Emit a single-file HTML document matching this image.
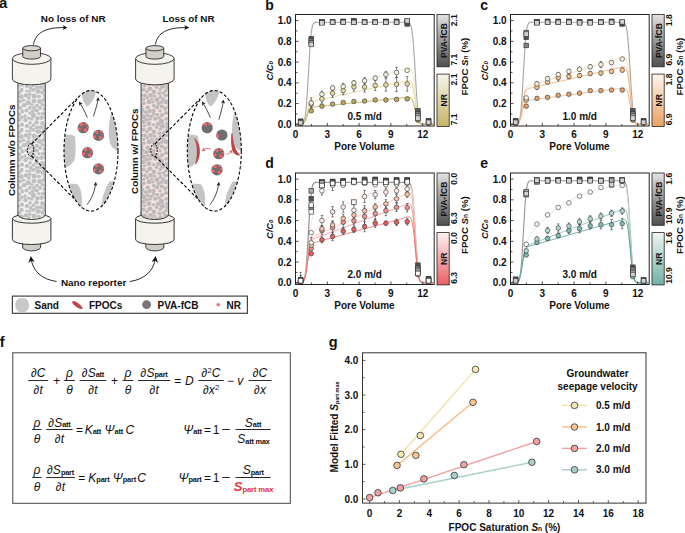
<!DOCTYPE html>
<html><head><meta charset="utf-8"><style>
html,body{margin:0;padding:0;background:#fff;width:685px;height:533px;overflow:hidden}
svg{display:block}
text{font-family:"Liberation Sans",sans-serif}
</style></head><body>
<svg width="685" height="533" viewBox="0 0 685 533" font-family='"Liberation Sans", sans-serif'>
<rect width="685" height="533" fill="#fff"/>
<text x="265.30" y="10.30" font-size="14" font-weight="bold" text-anchor="start" fill="#111" >b</text>
<clipPath id="clipb"><rect x="295.5" y="14.5" width="138.7" height="111.5"/></clipPath>
<g clip-path="url(#clipb)">
<path d="M295.50,124.30 L296.03,124.30 L296.56,124.30 L297.09,124.30 L297.62,124.30 L298.15,124.30 L298.68,124.30 L299.21,124.30 L299.74,124.29 L300.27,124.29 L300.80,124.26 L301.33,124.22 L301.86,124.12 L302.39,123.93 L302.92,123.57 L303.45,122.94 L303.98,121.87 L304.51,120.16 L305.04,117.59 L305.57,113.94 L306.10,109.01 L306.63,102.72 L307.16,95.14 L307.69,86.47 L308.22,77.11 L308.75,67.54 L309.28,58.28 L309.81,49.81 L310.34,42.47 L310.87,36.46 L311.40,31.79 L311.93,28.37 L312.46,26.00 L312.99,24.44 L313.52,23.47 L314.05,22.90 L314.58,22.58 L315.11,22.41 L315.64,22.33 L316.17,22.29 L316.70,22.27 L317.23,22.26 L317.76,22.26 L318.29,22.26 L318.82,22.26 L319.35,22.26 L319.88,22.26 L320.41,22.26 L320.94,22.26 L321.47,22.26 L322.00,22.26 L322.53,22.26 L323.06,22.26 L323.59,22.26 L324.12,22.26 L324.65,22.26 L325.18,22.26 L325.71,22.26 L326.24,22.26 L326.77,22.26 L327.30,22.26 L327.83,22.26 L328.36,22.26 L328.89,22.26 L329.42,22.26 L329.95,22.26 L330.48,22.26 L331.01,22.26 L331.54,22.26 L332.07,22.26 L332.60,22.26 L333.13,22.26 L333.66,22.26 L334.19,22.26 L334.72,22.26 L335.25,22.26 L335.78,22.26 L336.31,22.26 L336.84,22.26 L337.37,22.26 L337.90,22.26 L338.43,22.26 L338.96,22.26 L339.49,22.26 L340.02,22.26 L340.55,22.26 L341.08,22.26 L341.61,22.26 L342.14,22.26 L342.67,22.26 L343.20,22.26 L343.73,22.26 L344.26,22.26 L344.79,22.26 L345.32,22.26 L345.85,22.26 L346.38,22.26 L346.91,22.26 L347.44,22.26 L347.97,22.26 L348.50,22.26 L349.03,22.26 L349.56,22.26 L350.09,22.26 L350.62,22.26 L351.15,22.26 L351.68,22.26 L352.21,22.26 L352.74,22.26 L353.27,22.26 L353.80,22.26 L354.33,22.26 L354.86,22.26 L355.39,22.26 L355.92,22.26 L356.45,22.26 L356.98,22.26 L357.51,22.26 L358.04,22.26 L358.57,22.26 L359.10,22.26 L359.63,22.26 L360.16,22.26 L360.69,22.26 L361.22,22.26 L361.75,22.26 L362.28,22.26 L362.81,22.26 L363.34,22.26 L363.87,22.26 L364.40,22.26 L364.93,22.26 L365.46,22.26 L365.99,22.26 L366.52,22.26 L367.05,22.26 L367.58,22.26 L368.11,22.26 L368.64,22.26 L369.17,22.26 L369.70,22.26 L370.23,22.26 L370.76,22.26 L371.29,22.26 L371.82,22.26 L372.35,22.26 L372.88,22.26 L373.41,22.26 L373.94,22.26 L374.47,22.26 L375.00,22.26 L375.53,22.26 L376.06,22.26 L376.59,22.26 L377.12,22.26 L377.65,22.26 L378.18,22.26 L378.71,22.26 L379.24,22.26 L379.77,22.26 L380.30,22.26 L380.83,22.26 L381.36,22.26 L381.89,22.26 L382.42,22.26 L382.95,22.26 L383.48,22.26 L384.01,22.26 L384.54,22.26 L385.07,22.26 L385.60,22.26 L386.13,22.26 L386.66,22.26 L387.19,22.26 L387.72,22.26 L388.25,22.26 L388.78,22.26 L389.31,22.26 L389.84,22.26 L390.37,22.26 L390.90,22.26 L391.43,22.26 L391.96,22.26 L392.49,22.26 L393.02,22.26 L393.55,22.26 L394.08,22.26 L394.61,22.26 L395.14,22.26 L395.67,22.26 L396.20,22.26 L396.73,22.26 L397.26,22.26 L397.79,22.26 L398.32,22.26 L398.85,22.26 L399.38,22.26 L399.91,22.26 L400.44,22.26 L400.97,22.26 L401.50,22.26 L402.03,22.26 L402.56,22.26 L403.09,22.26 L403.62,22.26 L404.15,22.26 L404.68,22.26 L405.21,22.26 L405.74,22.26 L406.27,22.27 L406.80,22.28 L407.33,22.31 L407.86,22.36 L408.39,22.47 L408.92,22.67 L409.45,23.03 L409.98,23.64 L410.51,24.64 L411.04,26.19 L411.57,28.48 L412.10,31.69 L412.63,36.00 L413.16,41.48 L413.69,48.15 L414.22,55.86 L414.75,64.36 L415.28,73.28 L415.81,82.20 L416.34,90.70 L416.87,98.41 L417.40,105.08 L417.93,110.56 L418.46,114.87 L418.99,118.08 L419.52,120.37 L420.05,121.92 L420.58,122.92 L421.11,123.53 L421.64,123.89 L422.17,124.09 L422.70,124.20 L423.23,124.25 L423.76,124.28 L424.29,124.29 L424.82,124.30 L425.35,124.30 L425.88,124.30 L426.41,124.30 L426.94,124.30 L427.47,124.30 L428.00,124.30 L428.53,124.30 L429.06,124.30 L429.59,124.30 L430.12,124.30 L430.65,124.30 L431.18,124.30 L431.71,124.30 L432.24,124.30 L432.77,124.30 L433.30,124.30" fill="none" stroke="#a8a8a8" stroke-width="1.15"/>
<path d="M295.50,124.30 L296.03,124.30 L296.56,124.30 L297.09,124.30 L297.62,124.30 L298.15,124.30 L298.68,124.30 L299.21,124.30 L299.74,124.29 L300.27,124.27 L300.80,124.25 L301.33,124.19 L301.86,124.08 L302.39,123.90 L302.92,123.59 L303.45,123.11 L303.98,122.40 L304.51,121.40 L305.04,120.07 L305.57,118.40 L306.10,116.40 L306.63,114.15 L307.16,111.74 L307.69,109.30 L308.22,106.96 L308.75,104.82 L309.28,102.97 L309.81,101.45 L310.34,100.24 L310.87,99.32 L311.40,98.64 L311.93,98.14 L312.46,97.77 L312.99,97.49 L313.52,97.26 L314.05,97.06 L314.58,96.88 L315.11,96.71 L315.64,96.54 L316.17,96.37 L316.70,96.20 L317.23,96.04 L317.76,95.87 L318.29,95.71 L318.82,95.54 L319.35,95.38 L319.88,95.21 L320.41,95.05 L320.94,94.88 L321.47,94.72 L322.00,94.55 L322.53,94.39 L323.06,94.22 L323.59,94.06 L324.12,93.89 L324.65,93.73 L325.18,93.56 L325.71,93.40 L326.24,93.23 L326.77,93.06 L327.30,92.90 L327.83,92.73 L328.36,92.57 L328.89,92.40 L329.42,92.24 L329.95,92.07 L330.48,91.91 L331.01,91.74 L331.54,91.58 L332.07,91.41 L332.60,91.25 L333.13,91.08 L333.66,90.92 L334.19,90.75 L334.72,90.59 L335.25,90.42 L335.78,90.26 L336.31,90.09 L336.84,89.93 L337.37,89.76 L337.90,89.59 L338.43,89.43 L338.96,89.26 L339.49,89.10 L340.02,88.93 L340.55,88.77 L341.08,88.60 L341.61,88.44 L342.14,88.27 L342.67,88.11 L343.20,87.94 L343.73,87.78 L344.26,87.61 L344.79,87.45 L345.32,87.28 L345.85,87.12 L346.38,86.95 L346.91,86.79 L347.44,86.62 L347.97,86.46 L348.50,86.29 L349.03,86.12 L349.56,85.96 L350.09,85.79 L350.62,85.63 L351.15,85.46 L351.68,85.30 L352.21,85.13 L352.74,84.97 L353.27,84.80 L353.80,84.64 L354.33,84.47 L354.86,84.31 L355.39,84.14 L355.92,83.98 L356.45,83.81 L356.98,83.65 L357.51,83.48 L358.04,83.32 L358.57,83.15 L359.10,82.99 L359.63,82.82 L360.16,82.65 L360.69,82.49 L361.22,82.32 L361.75,82.16 L362.28,81.99 L362.81,81.83 L363.34,81.66 L363.87,81.50 L364.40,81.33 L364.93,81.17 L365.46,81.00 L365.99,80.84 L366.52,80.67 L367.05,80.51 L367.58,80.34 L368.11,80.18 L368.64,80.01 L369.17,79.85 L369.70,79.68 L370.23,79.52 L370.76,79.35 L371.29,79.18 L371.82,79.02 L372.35,78.85 L372.88,78.69 L373.41,78.52 L373.94,78.36 L374.47,78.19 L375.00,78.03 L375.53,77.86 L376.06,77.70 L376.59,77.53 L377.12,77.37 L377.65,77.20 L378.18,77.04 L378.71,76.87 L379.24,76.71 L379.77,76.54 L380.30,76.38 L380.83,76.21 L381.36,76.05 L381.89,75.88 L382.42,75.71 L382.95,75.55 L383.48,75.38 L384.01,75.22 L384.54,75.05 L385.07,74.89 L385.60,74.72 L386.13,74.56 L386.66,74.39 L387.19,74.23 L387.72,74.06 L388.25,73.90 L388.78,73.73 L389.31,73.57 L389.84,73.40 L390.37,73.24 L390.90,73.07 L391.43,72.91 L391.96,72.74 L392.49,72.58 L393.02,72.41 L393.55,72.24 L394.08,72.08 L394.61,71.91 L395.14,71.75 L395.67,71.58 L396.20,71.42 L396.73,71.25 L397.26,71.09 L397.79,70.92 L398.32,70.76 L398.85,70.59 L399.38,70.43 L399.91,70.26 L400.44,70.10 L400.97,69.93 L401.50,69.77 L402.03,69.60 L402.56,69.44 L403.09,69.27 L403.62,69.11 L404.15,68.94 L404.68,68.78 L405.21,68.61 L405.74,68.45 L406.27,68.28 L406.80,68.13 L407.33,67.97 L407.86,67.84 L408.39,67.73 L408.92,67.68 L409.45,67.72 L409.98,67.90 L410.51,68.30 L411.04,69.01 L411.57,70.14 L412.10,71.81 L412.63,74.10 L413.16,77.09 L413.69,80.76 L414.22,85.06 L414.75,89.84 L415.28,94.89 L415.81,99.96 L416.34,104.82 L416.87,109.25 L417.40,113.09 L417.93,116.27 L418.46,118.77 L418.99,120.64 L419.52,121.98 L420.05,122.89 L420.58,123.48 L421.11,123.84 L421.64,124.06 L422.17,124.18 L422.70,124.24 L423.23,124.27 L423.76,124.29 L424.29,124.29 L424.82,124.30 L425.35,124.30 L425.88,124.30 L426.41,124.30 L426.94,124.30 L427.47,124.30 L428.00,124.30 L428.53,124.30 L429.06,124.30 L429.59,124.30 L430.12,124.30 L430.65,124.30 L431.18,124.30 L431.71,124.30 L432.24,124.30 L432.77,124.30 L433.30,124.30" fill="none" stroke="#efe6b8" stroke-width="0.8"/>
<path d="M295.50,124.30 L296.03,124.30 L296.56,124.30 L297.09,124.30 L297.62,124.30 L298.15,124.30 L298.68,124.30 L299.21,124.30 L299.74,124.29 L300.27,124.28 L300.80,124.25 L301.33,124.20 L301.86,124.11 L302.39,123.95 L302.92,123.68 L303.45,123.26 L303.98,122.63 L304.51,121.76 L305.04,120.59 L305.57,119.13 L306.10,117.39 L306.63,115.44 L307.16,113.35 L307.69,111.24 L308.22,109.22 L308.75,107.39 L309.28,105.81 L309.81,104.51 L310.34,103.49 L310.87,102.72 L311.40,102.16 L311.93,101.76 L312.46,101.47 L312.99,101.25 L313.52,101.08 L314.05,100.94 L314.58,100.81 L315.11,100.69 L315.64,100.58 L316.17,100.46 L316.70,100.35 L317.23,100.23 L317.76,100.12 L318.29,100.00 L318.82,99.89 L319.35,99.78 L319.88,99.66 L320.41,99.55 L320.94,99.43 L321.47,99.32 L322.00,99.21 L322.53,99.09 L323.06,98.98 L323.59,98.87 L324.12,98.75 L324.65,98.64 L325.18,98.52 L325.71,98.41 L326.24,98.30 L326.77,98.18 L327.30,98.07 L327.83,97.95 L328.36,97.84 L328.89,97.73 L329.42,97.61 L329.95,97.50 L330.48,97.38 L331.01,97.27 L331.54,97.16 L332.07,97.04 L332.60,96.93 L333.13,96.81 L333.66,96.70 L334.19,96.59 L334.72,96.47 L335.25,96.36 L335.78,96.24 L336.31,96.13 L336.84,96.02 L337.37,95.90 L337.90,95.79 L338.43,95.67 L338.96,95.56 L339.49,95.45 L340.02,95.33 L340.55,95.22 L341.08,95.10 L341.61,94.99 L342.14,94.88 L342.67,94.76 L343.20,94.65 L343.73,94.53 L344.26,94.42 L344.79,94.31 L345.32,94.19 L345.85,94.08 L346.38,93.96 L346.91,93.85 L347.44,93.74 L347.97,93.62 L348.50,93.51 L349.03,93.40 L349.56,93.28 L350.09,93.17 L350.62,93.05 L351.15,92.94 L351.68,92.83 L352.21,92.71 L352.74,92.60 L353.27,92.48 L353.80,92.37 L354.33,92.26 L354.86,92.14 L355.39,92.03 L355.92,91.91 L356.45,91.80 L356.98,91.69 L357.51,91.57 L358.04,91.46 L358.57,91.34 L359.10,91.23 L359.63,91.12 L360.16,91.00 L360.69,90.89 L361.22,90.77 L361.75,90.66 L362.28,90.55 L362.81,90.43 L363.34,90.32 L363.87,90.20 L364.40,90.09 L364.93,89.98 L365.46,89.86 L365.99,89.75 L366.52,89.63 L367.05,89.52 L367.58,89.41 L368.11,89.29 L368.64,89.18 L369.17,89.06 L369.70,88.95 L370.23,88.84 L370.76,88.72 L371.29,88.61 L371.82,88.50 L372.35,88.38 L372.88,88.27 L373.41,88.15 L373.94,88.04 L374.47,87.93 L375.00,87.81 L375.53,87.70 L376.06,87.58 L376.59,87.47 L377.12,87.36 L377.65,87.24 L378.18,87.13 L378.71,87.01 L379.24,86.90 L379.77,86.79 L380.30,86.67 L380.83,86.56 L381.36,86.44 L381.89,86.33 L382.42,86.22 L382.95,86.10 L383.48,85.99 L384.01,85.87 L384.54,85.76 L385.07,85.65 L385.60,85.53 L386.13,85.42 L386.66,85.30 L387.19,85.19 L387.72,85.08 L388.25,84.96 L388.78,84.85 L389.31,84.73 L389.84,84.62 L390.37,84.51 L390.90,84.39 L391.43,84.28 L391.96,84.16 L392.49,84.05 L393.02,83.94 L393.55,83.82 L394.08,83.71 L394.61,83.59 L395.14,83.48 L395.67,83.37 L396.20,83.25 L396.73,83.14 L397.26,83.03 L397.79,82.91 L398.32,82.80 L398.85,82.68 L399.38,82.57 L399.91,82.46 L400.44,82.34 L400.97,82.23 L401.50,82.11 L402.03,82.00 L402.56,81.89 L403.09,81.77 L403.62,81.66 L404.15,81.54 L404.68,81.43 L405.21,81.32 L405.74,81.20 L406.27,81.09 L406.80,80.98 L407.33,80.88 L407.86,80.79 L408.39,80.72 L408.92,80.69 L409.45,80.73 L409.98,80.89 L410.51,81.21 L411.04,81.77 L411.57,82.65 L412.10,83.95 L412.63,85.72 L413.16,88.03 L413.69,90.86 L414.22,94.17 L414.75,97.84 L415.28,101.73 L415.81,105.63 L416.34,109.36 L416.87,112.76 L417.40,115.71 L417.93,118.15 L418.46,120.06 L418.99,121.50 L419.52,122.52 L420.05,123.22 L420.58,123.67 L421.11,123.95 L421.64,124.11 L422.17,124.21 L422.70,124.25 L423.23,124.28 L423.76,124.29 L424.29,124.30 L424.82,124.30 L425.35,124.30 L425.88,124.30 L426.41,124.30 L426.94,124.30 L427.47,124.30 L428.00,124.30 L428.53,124.30 L429.06,124.30 L429.59,124.30 L430.12,124.30 L430.65,124.30 L431.18,124.30 L431.71,124.30 L432.24,124.30 L432.77,124.30 L433.30,124.30" fill="none" stroke="#dccf85" stroke-width="0.8"/>
<path d="M295.50,124.30 L296.03,124.30 L296.56,124.30 L297.09,124.30 L297.62,124.30 L298.15,124.30 L298.68,124.30 L299.21,124.30 L299.74,124.29 L300.27,124.28 L300.80,124.26 L301.33,124.22 L301.86,124.15 L302.39,124.03 L302.92,123.82 L303.45,123.49 L303.98,123.01 L304.51,122.34 L305.04,121.45 L305.57,120.34 L306.10,119.02 L306.63,117.54 L307.16,115.96 L307.69,114.38 L308.22,112.86 L308.75,111.50 L309.28,110.33 L309.81,109.37 L310.34,108.63 L310.87,108.09 L311.40,107.70 L311.93,107.43 L312.46,107.24 L312.99,107.11 L313.52,107.01 L314.05,106.94 L314.58,106.87 L315.11,106.81 L315.64,106.76 L316.17,106.70 L316.70,106.65 L317.23,106.59 L317.76,106.54 L318.29,106.49 L318.82,106.43 L319.35,106.38 L319.88,106.32 L320.41,106.27 L320.94,106.22 L321.47,106.16 L322.00,106.11 L322.53,106.05 L323.06,106.00 L323.59,105.94 L324.12,105.89 L324.65,105.84 L325.18,105.78 L325.71,105.73 L326.24,105.67 L326.77,105.62 L327.30,105.57 L327.83,105.51 L328.36,105.46 L328.89,105.40 L329.42,105.35 L329.95,105.29 L330.48,105.24 L331.01,105.19 L331.54,105.13 L332.07,105.08 L332.60,105.02 L333.13,104.97 L333.66,104.92 L334.19,104.86 L334.72,104.81 L335.25,104.75 L335.78,104.70 L336.31,104.65 L336.84,104.59 L337.37,104.54 L337.90,104.48 L338.43,104.43 L338.96,104.37 L339.49,104.32 L340.02,104.27 L340.55,104.21 L341.08,104.16 L341.61,104.10 L342.14,104.05 L342.67,104.00 L343.20,103.94 L343.73,103.89 L344.26,103.83 L344.79,103.78 L345.32,103.73 L345.85,103.67 L346.38,103.62 L346.91,103.56 L347.44,103.51 L347.97,103.45 L348.50,103.40 L349.03,103.35 L349.56,103.29 L350.09,103.24 L350.62,103.18 L351.15,103.13 L351.68,103.08 L352.21,103.02 L352.74,102.97 L353.27,102.91 L353.80,102.86 L354.33,102.81 L354.86,102.75 L355.39,102.70 L355.92,102.64 L356.45,102.59 L356.98,102.53 L357.51,102.48 L358.04,102.43 L358.57,102.37 L359.10,102.32 L359.63,102.26 L360.16,102.21 L360.69,102.16 L361.22,102.10 L361.75,102.05 L362.28,101.99 L362.81,101.94 L363.34,101.88 L363.87,101.83 L364.40,101.78 L364.93,101.72 L365.46,101.67 L365.99,101.61 L366.52,101.56 L367.05,101.51 L367.58,101.45 L368.11,101.40 L368.64,101.34 L369.17,101.29 L369.70,101.24 L370.23,101.18 L370.76,101.13 L371.29,101.07 L371.82,101.02 L372.35,100.96 L372.88,100.91 L373.41,100.86 L373.94,100.80 L374.47,100.75 L375.00,100.69 L375.53,100.64 L376.06,100.59 L376.59,100.53 L377.12,100.48 L377.65,100.42 L378.18,100.37 L378.71,100.32 L379.24,100.26 L379.77,100.21 L380.30,100.15 L380.83,100.10 L381.36,100.04 L381.89,99.99 L382.42,99.94 L382.95,99.88 L383.48,99.83 L384.01,99.77 L384.54,99.72 L385.07,99.67 L385.60,99.61 L386.13,99.56 L386.66,99.50 L387.19,99.45 L387.72,99.39 L388.25,99.34 L388.78,99.29 L389.31,99.23 L389.84,99.18 L390.37,99.12 L390.90,99.07 L391.43,99.02 L391.96,98.96 L392.49,98.91 L393.02,98.85 L393.55,98.80 L394.08,98.75 L394.61,98.69 L395.14,98.64 L395.67,98.58 L396.20,98.53 L396.73,98.47 L397.26,98.42 L397.79,98.37 L398.32,98.31 L398.85,98.26 L399.38,98.20 L399.91,98.15 L400.44,98.10 L400.97,98.04 L401.50,97.99 L402.03,97.93 L402.56,97.88 L403.09,97.83 L403.62,97.77 L404.15,97.72 L404.68,97.66 L405.21,97.61 L405.74,97.56 L406.27,97.50 L406.80,97.45 L407.33,97.40 L407.86,97.36 L408.39,97.34 L408.92,97.34 L409.45,97.38 L409.98,97.49 L410.51,97.70 L411.04,98.07 L411.57,98.63 L412.10,99.44 L412.63,100.55 L413.16,101.98 L413.69,103.73 L414.22,105.78 L414.75,108.05 L415.28,110.44 L415.81,112.84 L416.34,115.14 L416.87,117.23 L417.40,119.04 L417.93,120.53 L418.46,121.71 L418.99,122.59 L419.52,123.21 L420.05,123.64 L420.58,123.92 L421.11,124.09 L421.64,124.19 L422.17,124.24 L422.70,124.27 L423.23,124.29 L423.76,124.29 L424.29,124.30 L424.82,124.30 L425.35,124.30 L425.88,124.30 L426.41,124.30 L426.94,124.30 L427.47,124.30 L428.00,124.30 L428.53,124.30 L429.06,124.30 L429.59,124.30 L430.12,124.30 L430.65,124.30 L431.18,124.30 L431.71,124.30 L432.24,124.30 L432.77,124.30 L433.30,124.30" fill="none" stroke="#b8a650" stroke-width="0.9"/>
<path d="M311.25,100.97V107.19M310.05,100.97h2.4M310.05,107.19h2.4" stroke="#333" stroke-width="0.6" fill="none"/>
<path d="M321.92,94.75V103.04M320.72,94.75h2.4M320.72,103.04h2.4" stroke="#333" stroke-width="0.6" fill="none"/>
<path d="M332.58,89.04V97.34M331.38,89.04h2.4M331.38,97.34h2.4" stroke="#333" stroke-width="0.6" fill="none"/>
<path d="M343.24,86.45V94.75M342.04,86.45h2.4M342.04,94.75h2.4" stroke="#333" stroke-width="0.6" fill="none"/>
<path d="M353.91,82.82V91.12M352.71,82.82h2.4M352.71,91.12h2.4" stroke="#333" stroke-width="0.6" fill="none"/>
<path d="M364.57,81.78V92.15M363.37,81.78h2.4M363.37,92.15h2.4" stroke="#333" stroke-width="0.6" fill="none"/>
<path d="M375.23,80.23V90.60M374.03,80.23h2.4M374.03,90.60h2.4" stroke="#333" stroke-width="0.6" fill="none"/>
<path d="M385.90,78.67V91.12M384.70,78.67h2.4M384.70,91.12h2.4" stroke="#333" stroke-width="0.6" fill="none"/>
<path d="M396.56,77.12V91.63M395.36,77.12h2.4M395.36,91.63h2.4" stroke="#333" stroke-width="0.6" fill="none"/>
<path d="M407.22,76.60V91.12M406.02,76.60h2.4M406.02,91.12h2.4" stroke="#333" stroke-width="0.6" fill="none"/>
<path d="M311.25,97.86V108.23M310.05,97.86h2.4M310.05,108.23h2.4" stroke="#333" stroke-width="0.6" fill="none"/>
<path d="M321.92,91.12V97.34M320.72,91.12h2.4M320.72,97.34h2.4" stroke="#333" stroke-width="0.6" fill="none"/>
<path d="M332.58,85.93V90.08M331.38,85.93h2.4M331.38,90.08h2.4" stroke="#333" stroke-width="0.6" fill="none"/>
<path d="M343.24,83.34V89.56M342.04,83.34h2.4M342.04,89.56h2.4" stroke="#333" stroke-width="0.6" fill="none"/>
<path d="M353.91,80.75V84.89M352.71,80.75h2.4M352.71,84.89h2.4" stroke="#333" stroke-width="0.6" fill="none"/>
<path d="M364.57,77.63V83.86M363.37,77.63h2.4M363.37,83.86h2.4" stroke="#333" stroke-width="0.6" fill="none"/>
<path d="M375.23,76.08V80.23M374.03,76.08h2.4M374.03,80.23h2.4" stroke="#333" stroke-width="0.6" fill="none"/>
<path d="M385.90,71.41V77.63M384.70,71.41h2.4M384.70,77.63h2.4" stroke="#333" stroke-width="0.6" fill="none"/>
<path d="M396.56,67.26V77.63M395.36,67.26h2.4M395.36,77.63h2.4" stroke="#333" stroke-width="0.6" fill="none"/>
<circle cx="300.59" cy="123.26" r="2.3" fill="#bcaa5c" stroke="#333" stroke-width="0.6"/>
<circle cx="311.25" cy="110.82" r="2.3" fill="#bcaa5c" stroke="#333" stroke-width="0.6"/>
<circle cx="321.92" cy="106.15" r="2.3" fill="#bcaa5c" stroke="#333" stroke-width="0.6"/>
<circle cx="332.58" cy="104.08" r="2.3" fill="#bcaa5c" stroke="#333" stroke-width="0.6"/>
<circle cx="343.24" cy="102.52" r="2.3" fill="#bcaa5c" stroke="#333" stroke-width="0.6"/>
<circle cx="353.91" cy="101.49" r="2.3" fill="#bcaa5c" stroke="#333" stroke-width="0.6"/>
<circle cx="364.57" cy="100.97" r="2.3" fill="#bcaa5c" stroke="#333" stroke-width="0.6"/>
<circle cx="375.23" cy="99.93" r="2.3" fill="#bcaa5c" stroke="#333" stroke-width="0.6"/>
<circle cx="385.90" cy="99.93" r="2.3" fill="#bcaa5c" stroke="#333" stroke-width="0.6"/>
<circle cx="396.56" cy="99.41" r="2.3" fill="#bcaa5c" stroke="#333" stroke-width="0.6"/>
<circle cx="407.22" cy="98.89" r="2.3" fill="#bcaa5c" stroke="#333" stroke-width="0.6"/>
<circle cx="417.89" cy="120.15" r="2.3" fill="#bcaa5c" stroke="#333" stroke-width="0.6"/>
<circle cx="428.55" cy="123.26" r="2.3" fill="#bcaa5c" stroke="#333" stroke-width="0.6"/>
<circle cx="300.59" cy="123.26" r="2.3" fill="#e6db9c" stroke="#333" stroke-width="0.6"/>
<circle cx="311.25" cy="104.08" r="2.3" fill="#e6db9c" stroke="#333" stroke-width="0.6"/>
<circle cx="321.92" cy="98.89" r="2.3" fill="#e6db9c" stroke="#333" stroke-width="0.6"/>
<circle cx="332.58" cy="93.19" r="2.3" fill="#e6db9c" stroke="#333" stroke-width="0.6"/>
<circle cx="343.24" cy="90.60" r="2.3" fill="#e6db9c" stroke="#333" stroke-width="0.6"/>
<circle cx="353.91" cy="86.97" r="2.3" fill="#e6db9c" stroke="#333" stroke-width="0.6"/>
<circle cx="364.57" cy="86.97" r="2.3" fill="#e6db9c" stroke="#333" stroke-width="0.6"/>
<circle cx="375.23" cy="85.41" r="2.3" fill="#e6db9c" stroke="#333" stroke-width="0.6"/>
<circle cx="385.90" cy="84.89" r="2.3" fill="#e6db9c" stroke="#333" stroke-width="0.6"/>
<circle cx="396.56" cy="84.38" r="2.3" fill="#e6db9c" stroke="#333" stroke-width="0.6"/>
<circle cx="407.22" cy="83.86" r="2.3" fill="#e6db9c" stroke="#333" stroke-width="0.6"/>
<circle cx="417.89" cy="119.11" r="2.3" fill="#e6db9c" stroke="#333" stroke-width="0.6"/>
<circle cx="428.55" cy="123.26" r="2.3" fill="#e6db9c" stroke="#333" stroke-width="0.6"/>
<circle cx="300.59" cy="123.26" r="2.3" fill="#f6f3df" stroke="#333" stroke-width="0.6"/>
<circle cx="311.25" cy="103.04" r="2.3" fill="#f6f3df" stroke="#333" stroke-width="0.6"/>
<circle cx="321.92" cy="94.23" r="2.3" fill="#f6f3df" stroke="#333" stroke-width="0.6"/>
<circle cx="332.58" cy="88.00" r="2.3" fill="#f6f3df" stroke="#333" stroke-width="0.6"/>
<circle cx="343.24" cy="86.45" r="2.3" fill="#f6f3df" stroke="#333" stroke-width="0.6"/>
<circle cx="353.91" cy="82.82" r="2.3" fill="#f6f3df" stroke="#333" stroke-width="0.6"/>
<circle cx="364.57" cy="80.75" r="2.3" fill="#f6f3df" stroke="#333" stroke-width="0.6"/>
<circle cx="375.23" cy="78.15" r="2.3" fill="#f6f3df" stroke="#333" stroke-width="0.6"/>
<circle cx="385.90" cy="74.52" r="2.3" fill="#f6f3df" stroke="#333" stroke-width="0.6"/>
<circle cx="396.56" cy="72.45" r="2.3" fill="#f6f3df" stroke="#333" stroke-width="0.6"/>
<circle cx="407.22" cy="70.38" r="2.3" fill="#f6f3df" stroke="#333" stroke-width="0.6"/>
<circle cx="417.89" cy="117.04" r="2.3" fill="#f6f3df" stroke="#333" stroke-width="0.6"/>
<circle cx="428.55" cy="123.26" r="2.3" fill="#f6f3df" stroke="#333" stroke-width="0.6"/>
<rect x="298.29" y="118.89" width="4.6" height="4.6" fill="#555555" stroke="#333" stroke-width="0.65"/>
<rect x="308.95" y="36.45" width="4.6" height="4.6" fill="#555555" stroke="#333" stroke-width="0.65"/>
<rect x="319.62" y="19.54" width="4.6" height="4.6" fill="#555555" stroke="#333" stroke-width="0.65"/>
<rect x="330.28" y="19.54" width="4.6" height="4.6" fill="#555555" stroke="#333" stroke-width="0.65"/>
<rect x="340.94" y="19.03" width="4.6" height="4.6" fill="#555555" stroke="#333" stroke-width="0.65"/>
<rect x="351.61" y="18.51" width="4.6" height="4.6" fill="#555555" stroke="#333" stroke-width="0.65"/>
<rect x="362.27" y="19.54" width="4.6" height="4.6" fill="#555555" stroke="#333" stroke-width="0.65"/>
<rect x="372.93" y="19.54" width="4.6" height="4.6" fill="#555555" stroke="#333" stroke-width="0.65"/>
<rect x="383.60" y="19.03" width="4.6" height="4.6" fill="#555555" stroke="#333" stroke-width="0.65"/>
<rect x="394.26" y="19.03" width="4.6" height="4.6" fill="#555555" stroke="#333" stroke-width="0.65"/>
<rect x="404.92" y="21.62" width="4.6" height="4.6" fill="#555555" stroke="#333" stroke-width="0.65"/>
<rect x="415.59" y="108.52" width="4.6" height="4.6" fill="#555555" stroke="#333" stroke-width="0.65"/>
<rect x="426.25" y="118.37" width="4.6" height="4.6" fill="#555555" stroke="#333" stroke-width="0.65"/>
<rect x="298.29" y="119.41" width="4.6" height="4.6" fill="#808080" stroke="#333" stroke-width="0.65"/>
<rect x="308.95" y="38.52" width="4.6" height="4.6" fill="#808080" stroke="#333" stroke-width="0.65"/>
<rect x="319.62" y="20.06" width="4.6" height="4.6" fill="#808080" stroke="#333" stroke-width="0.65"/>
<rect x="330.28" y="20.06" width="4.6" height="4.6" fill="#808080" stroke="#333" stroke-width="0.65"/>
<rect x="340.94" y="19.54" width="4.6" height="4.6" fill="#808080" stroke="#333" stroke-width="0.65"/>
<rect x="351.61" y="19.54" width="4.6" height="4.6" fill="#808080" stroke="#333" stroke-width="0.65"/>
<rect x="362.27" y="20.06" width="4.6" height="4.6" fill="#808080" stroke="#333" stroke-width="0.65"/>
<rect x="372.93" y="20.06" width="4.6" height="4.6" fill="#808080" stroke="#333" stroke-width="0.65"/>
<rect x="383.60" y="19.54" width="4.6" height="4.6" fill="#808080" stroke="#333" stroke-width="0.65"/>
<rect x="394.26" y="19.54" width="4.6" height="4.6" fill="#808080" stroke="#333" stroke-width="0.65"/>
<rect x="404.92" y="20.06" width="4.6" height="4.6" fill="#808080" stroke="#333" stroke-width="0.65"/>
<rect x="415.59" y="111.63" width="4.6" height="4.6" fill="#808080" stroke="#333" stroke-width="0.65"/>
<rect x="426.25" y="118.89" width="4.6" height="4.6" fill="#808080" stroke="#333" stroke-width="0.65"/>
<rect x="298.29" y="119.93" width="4.6" height="4.6" fill="#ababab" stroke="#333" stroke-width="0.65"/>
<rect x="308.95" y="40.60" width="4.6" height="4.6" fill="#ababab" stroke="#333" stroke-width="0.65"/>
<rect x="319.62" y="20.06" width="4.6" height="4.6" fill="#ababab" stroke="#333" stroke-width="0.65"/>
<rect x="330.28" y="20.06" width="4.6" height="4.6" fill="#ababab" stroke="#333" stroke-width="0.65"/>
<rect x="340.94" y="20.06" width="4.6" height="4.6" fill="#ababab" stroke="#333" stroke-width="0.65"/>
<rect x="351.61" y="20.06" width="4.6" height="4.6" fill="#ababab" stroke="#333" stroke-width="0.65"/>
<rect x="362.27" y="20.06" width="4.6" height="4.6" fill="#ababab" stroke="#333" stroke-width="0.65"/>
<rect x="372.93" y="20.06" width="4.6" height="4.6" fill="#ababab" stroke="#333" stroke-width="0.65"/>
<rect x="383.60" y="20.06" width="4.6" height="4.6" fill="#ababab" stroke="#333" stroke-width="0.65"/>
<rect x="394.26" y="20.06" width="4.6" height="4.6" fill="#ababab" stroke="#333" stroke-width="0.65"/>
<rect x="404.92" y="19.03" width="4.6" height="4.6" fill="#ababab" stroke="#333" stroke-width="0.65"/>
<rect x="415.59" y="113.70" width="4.6" height="4.6" fill="#ababab" stroke="#333" stroke-width="0.65"/>
<rect x="426.25" y="119.41" width="4.6" height="4.6" fill="#ababab" stroke="#333" stroke-width="0.65"/>
<rect x="298.29" y="120.44" width="4.6" height="4.6" fill="#d2d2d2" stroke="#333" stroke-width="0.65"/>
<rect x="308.95" y="42.15" width="4.6" height="4.6" fill="#d2d2d2" stroke="#333" stroke-width="0.65"/>
<rect x="319.62" y="20.58" width="4.6" height="4.6" fill="#d2d2d2" stroke="#333" stroke-width="0.65"/>
<rect x="330.28" y="20.06" width="4.6" height="4.6" fill="#d2d2d2" stroke="#333" stroke-width="0.65"/>
<rect x="340.94" y="20.06" width="4.6" height="4.6" fill="#d2d2d2" stroke="#333" stroke-width="0.65"/>
<rect x="351.61" y="20.06" width="4.6" height="4.6" fill="#d2d2d2" stroke="#333" stroke-width="0.65"/>
<rect x="362.27" y="20.06" width="4.6" height="4.6" fill="#d2d2d2" stroke="#333" stroke-width="0.65"/>
<rect x="372.93" y="20.06" width="4.6" height="4.6" fill="#d2d2d2" stroke="#333" stroke-width="0.65"/>
<rect x="383.60" y="20.06" width="4.6" height="4.6" fill="#d2d2d2" stroke="#333" stroke-width="0.65"/>
<rect x="394.26" y="20.06" width="4.6" height="4.6" fill="#d2d2d2" stroke="#333" stroke-width="0.65"/>
<rect x="404.92" y="18.51" width="4.6" height="4.6" fill="#d2d2d2" stroke="#333" stroke-width="0.65"/>
<rect x="415.59" y="115.78" width="4.6" height="4.6" fill="#d2d2d2" stroke="#333" stroke-width="0.65"/>
<rect x="426.25" y="119.93" width="4.6" height="4.6" fill="#d2d2d2" stroke="#333" stroke-width="0.65"/>
</g>
<rect x="295.5" y="14.5" width="138.7" height="111.5" fill="none" stroke="#222" stroke-width="1"/>
<line x1="295.5" y1="124.30" x2="298.5" y2="124.30" stroke="#222" stroke-width="0.8"/>
<text x="291.60" y="127.90" font-size="10" font-weight="bold" text-anchor="end" fill="#111" >0.0</text>
<line x1="295.5" y1="113.93" x2="297.5" y2="113.93" stroke="#222" stroke-width="0.8"/>
<line x1="295.5" y1="103.56" x2="298.5" y2="103.56" stroke="#222" stroke-width="0.8"/>
<text x="291.60" y="107.16" font-size="10" font-weight="bold" text-anchor="end" fill="#111" >0.2</text>
<line x1="295.5" y1="93.19" x2="297.5" y2="93.19" stroke="#222" stroke-width="0.8"/>
<line x1="295.5" y1="82.82" x2="298.5" y2="82.82" stroke="#222" stroke-width="0.8"/>
<text x="291.60" y="86.42" font-size="10" font-weight="bold" text-anchor="end" fill="#111" >0.4</text>
<line x1="295.5" y1="72.45" x2="297.5" y2="72.45" stroke="#222" stroke-width="0.8"/>
<line x1="295.5" y1="62.08" x2="298.5" y2="62.08" stroke="#222" stroke-width="0.8"/>
<text x="291.60" y="65.68" font-size="10" font-weight="bold" text-anchor="end" fill="#111" >0.6</text>
<line x1="295.5" y1="51.71" x2="297.5" y2="51.71" stroke="#222" stroke-width="0.8"/>
<line x1="295.5" y1="41.34" x2="298.5" y2="41.34" stroke="#222" stroke-width="0.8"/>
<text x="291.60" y="44.94" font-size="10" font-weight="bold" text-anchor="end" fill="#111" >0.8</text>
<line x1="295.5" y1="30.97" x2="297.5" y2="30.97" stroke="#222" stroke-width="0.8"/>
<line x1="295.5" y1="20.60" x2="298.5" y2="20.60" stroke="#222" stroke-width="0.8"/>
<text x="291.60" y="24.20" font-size="10" font-weight="bold" text-anchor="end" fill="#111" >1.0</text>
<line x1="295.50" y1="126" x2="295.50" y2="123" stroke="#222" stroke-width="0.8"/>
<text x="295.50" y="138.20" font-size="10" font-weight="bold" text-anchor="middle" fill="#111" >0</text>
<line x1="311.40" y1="126" x2="311.40" y2="124" stroke="#222" stroke-width="0.8"/>
<line x1="327.30" y1="126" x2="327.30" y2="123" stroke="#222" stroke-width="0.8"/>
<text x="327.30" y="138.20" font-size="10" font-weight="bold" text-anchor="middle" fill="#111" >3</text>
<line x1="343.20" y1="126" x2="343.20" y2="124" stroke="#222" stroke-width="0.8"/>
<line x1="359.10" y1="126" x2="359.10" y2="123" stroke="#222" stroke-width="0.8"/>
<text x="359.10" y="138.20" font-size="10" font-weight="bold" text-anchor="middle" fill="#111" >6</text>
<line x1="375.00" y1="126" x2="375.00" y2="124" stroke="#222" stroke-width="0.8"/>
<line x1="390.90" y1="126" x2="390.90" y2="123" stroke="#222" stroke-width="0.8"/>
<text x="390.90" y="138.20" font-size="10" font-weight="bold" text-anchor="middle" fill="#111" >9</text>
<line x1="406.80" y1="126" x2="406.80" y2="124" stroke="#222" stroke-width="0.8"/>
<line x1="422.70" y1="126" x2="422.70" y2="123" stroke="#222" stroke-width="0.8"/>
<text x="422.70" y="138.20" font-size="10" font-weight="bold" text-anchor="middle" fill="#111" >12</text>
<text x="364.50" y="150.00" font-size="10" font-weight="bold" text-anchor="middle" fill="#111" >Pore Volume</text>
<text transform="translate(272.5,70.7) rotate(-90)" font-size="9.3" font-weight="bold" font-style="italic" text-anchor="middle" fill="#111">C/C<tspan font-size="6.2" dy="0.2">0</tspan></text>
<text x="364.70" y="119.50" font-size="10" font-weight="bold" text-anchor="middle" fill="#111" >0.5 m/d</text>
<linearGradient id="g1b" x1="0" y1="0" x2="0" y2="1"><stop offset="0" stop-color="#e4e2e2"/><stop offset="1" stop-color="#4f4f4f"/></linearGradient>
<linearGradient id="g2b" x1="0" y1="0" x2="0" y2="1"><stop offset="0" stop-color="#f7f5ec"/><stop offset="1" stop-color="#c5b466"/></linearGradient>
<rect x="437" y="14.5" width="12.2" height="52.3" fill="url(#g1b)" stroke="#222" stroke-width="0.8"/>
<rect x="437" y="74.1" width="12.2" height="52.3" fill="url(#g2b)" stroke="#222" stroke-width="0.8"/>
<text transform="translate(446.6,40.6) rotate(-90)" font-size="8.5" font-weight="bold" text-anchor="middle" fill="#111">PVA-fCB</text>
<text transform="translate(446.6,100.2) rotate(-90)" font-size="8.6" font-weight="bold" text-anchor="middle" fill="#111">NR</text>
<text transform="translate(456.9,14.3) rotate(-90)" font-size="8.5" font-weight="bold" text-anchor="end" fill="#111">2.1</text>
<text transform="translate(456.9,65.6) rotate(-90)" font-size="8.5" font-weight="bold" text-anchor="start" fill="#111">7.1</text>
<text transform="translate(456.9,73.6) rotate(-90)" font-size="8.5" font-weight="bold" text-anchor="end" fill="#111">2.1</text>
<text transform="translate(456.9,125.3) rotate(-90)" font-size="8.5" font-weight="bold" text-anchor="start" fill="#111">7.1</text>
<text transform="translate(468.3,66.6) rotate(-90)" font-size="9.7" font-weight="bold" text-anchor="middle" fill="#111">FPOC <tspan font-style="italic">S</tspan><tspan font-size="6.5">n</tspan> (%)</text>
<text x="480.30" y="10.30" font-size="14" font-weight="bold" text-anchor="start" fill="#111" >c</text>
<clipPath id="clipc"><rect x="510.5" y="14.5" width="138.7" height="111.5"/></clipPath>
<g clip-path="url(#clipc)">
<path d="M510.50,124.30 L511.03,124.30 L511.56,124.30 L512.09,124.30 L512.62,124.30 L513.15,124.30 L513.68,124.30 L514.21,124.30 L514.74,124.29 L515.27,124.29 L515.80,124.26 L516.33,124.22 L516.86,124.12 L517.39,123.93 L517.92,123.57 L518.45,122.94 L518.98,121.87 L519.51,120.16 L520.04,117.59 L520.57,113.94 L521.10,109.01 L521.63,102.72 L522.16,95.14 L522.69,86.47 L523.22,77.11 L523.75,67.54 L524.28,58.28 L524.81,49.81 L525.34,42.47 L525.87,36.46 L526.40,31.79 L526.93,28.37 L527.46,26.00 L527.99,24.44 L528.52,23.47 L529.05,22.90 L529.58,22.58 L530.11,22.41 L530.64,22.33 L531.17,22.29 L531.70,22.27 L532.23,22.26 L532.76,22.26 L533.29,22.26 L533.82,22.26 L534.35,22.26 L534.88,22.26 L535.41,22.26 L535.94,22.26 L536.47,22.26 L537.00,22.26 L537.53,22.26 L538.06,22.26 L538.59,22.26 L539.12,22.26 L539.65,22.26 L540.18,22.26 L540.71,22.26 L541.24,22.26 L541.77,22.26 L542.30,22.26 L542.83,22.26 L543.36,22.26 L543.89,22.26 L544.42,22.26 L544.95,22.26 L545.48,22.26 L546.01,22.26 L546.54,22.26 L547.07,22.26 L547.60,22.26 L548.13,22.26 L548.66,22.26 L549.19,22.26 L549.72,22.26 L550.25,22.26 L550.78,22.26 L551.31,22.26 L551.84,22.26 L552.37,22.26 L552.90,22.26 L553.43,22.26 L553.96,22.26 L554.49,22.26 L555.02,22.26 L555.55,22.26 L556.08,22.26 L556.61,22.26 L557.14,22.26 L557.67,22.26 L558.20,22.26 L558.73,22.26 L559.26,22.26 L559.79,22.26 L560.32,22.26 L560.85,22.26 L561.38,22.26 L561.91,22.26 L562.44,22.26 L562.97,22.26 L563.50,22.26 L564.03,22.26 L564.56,22.26 L565.09,22.26 L565.62,22.26 L566.15,22.26 L566.68,22.26 L567.21,22.26 L567.74,22.26 L568.27,22.26 L568.80,22.26 L569.33,22.26 L569.86,22.26 L570.39,22.26 L570.92,22.26 L571.45,22.26 L571.98,22.26 L572.51,22.26 L573.04,22.26 L573.57,22.26 L574.10,22.26 L574.63,22.26 L575.16,22.26 L575.69,22.26 L576.22,22.26 L576.75,22.26 L577.28,22.26 L577.81,22.26 L578.34,22.26 L578.87,22.26 L579.40,22.26 L579.93,22.26 L580.46,22.26 L580.99,22.26 L581.52,22.26 L582.05,22.26 L582.58,22.26 L583.11,22.26 L583.64,22.26 L584.17,22.26 L584.70,22.26 L585.23,22.26 L585.76,22.26 L586.29,22.26 L586.82,22.26 L587.35,22.26 L587.88,22.26 L588.41,22.26 L588.94,22.26 L589.47,22.26 L590.00,22.26 L590.53,22.26 L591.06,22.26 L591.59,22.26 L592.12,22.26 L592.65,22.26 L593.18,22.26 L593.71,22.26 L594.24,22.26 L594.77,22.26 L595.30,22.26 L595.83,22.26 L596.36,22.26 L596.89,22.26 L597.42,22.26 L597.95,22.26 L598.48,22.26 L599.01,22.26 L599.54,22.26 L600.07,22.26 L600.60,22.26 L601.13,22.26 L601.66,22.26 L602.19,22.26 L602.72,22.26 L603.25,22.26 L603.78,22.26 L604.31,22.26 L604.84,22.26 L605.37,22.26 L605.90,22.26 L606.43,22.26 L606.96,22.26 L607.49,22.26 L608.02,22.26 L608.55,22.26 L609.08,22.26 L609.61,22.26 L610.14,22.26 L610.67,22.26 L611.20,22.26 L611.73,22.26 L612.26,22.26 L612.79,22.26 L613.32,22.26 L613.85,22.26 L614.38,22.26 L614.91,22.26 L615.44,22.26 L615.97,22.26 L616.50,22.26 L617.03,22.26 L617.56,22.26 L618.09,22.26 L618.62,22.26 L619.15,22.26 L619.68,22.26 L620.21,22.26 L620.74,22.26 L621.27,22.27 L621.80,22.28 L622.33,22.31 L622.86,22.36 L623.39,22.47 L623.92,22.67 L624.45,23.03 L624.98,23.64 L625.51,24.64 L626.04,26.19 L626.57,28.48 L627.10,31.69 L627.63,36.00 L628.16,41.48 L628.69,48.15 L629.22,55.86 L629.75,64.36 L630.28,73.28 L630.81,82.20 L631.34,90.70 L631.87,98.41 L632.40,105.08 L632.93,110.56 L633.46,114.87 L633.99,118.08 L634.52,120.37 L635.05,121.92 L635.58,122.92 L636.11,123.53 L636.64,123.89 L637.17,124.09 L637.70,124.20 L638.23,124.25 L638.76,124.28 L639.29,124.29 L639.82,124.30 L640.35,124.30 L640.88,124.30 L641.41,124.30 L641.94,124.30 L642.47,124.30 L643.00,124.30 L643.53,124.30 L644.06,124.30 L644.59,124.30 L645.12,124.30 L645.65,124.30 L646.18,124.30 L646.71,124.30 L647.24,124.30 L647.77,124.30 L648.30,124.30" fill="none" stroke="#a8a8a8" stroke-width="1.15"/>
<path d="M510.50,124.30 L511.03,124.30 L511.56,124.30 L512.09,124.30 L512.62,124.30 L513.15,124.30 L513.68,124.30 L514.21,124.29 L514.74,124.28 L515.27,124.26 L515.80,124.22 L516.33,124.14 L516.86,123.98 L517.39,123.71 L517.92,123.27 L518.45,122.58 L518.98,121.55 L519.51,120.10 L520.04,118.19 L520.57,115.79 L521.10,112.93 L521.63,109.72 L522.16,106.29 L522.69,102.84 L523.22,99.54 L523.75,96.55 L524.28,93.97 L524.81,91.86 L525.34,90.21 L525.87,88.97 L526.40,88.08 L526.93,87.44 L527.46,86.98 L527.99,86.65 L528.52,86.40 L529.05,86.18 L529.58,86.00 L530.11,85.82 L530.64,85.65 L531.17,85.48 L531.70,85.32 L532.23,85.15 L532.76,84.99 L533.29,84.82 L533.82,84.65 L534.35,84.49 L534.88,84.32 L535.41,84.16 L535.94,83.99 L536.47,83.83 L537.00,83.66 L537.53,83.50 L538.06,83.33 L538.59,83.17 L539.12,83.00 L539.65,82.84 L540.18,82.67 L540.71,82.51 L541.24,82.34 L541.77,82.18 L542.30,82.01 L542.83,81.85 L543.36,81.68 L543.89,81.52 L544.42,81.35 L544.95,81.18 L545.48,81.02 L546.01,80.85 L546.54,80.69 L547.07,80.52 L547.60,80.36 L548.13,80.19 L548.66,80.03 L549.19,79.86 L549.72,79.70 L550.25,79.53 L550.78,79.37 L551.31,79.20 L551.84,79.04 L552.37,78.87 L552.90,78.71 L553.43,78.54 L553.96,78.38 L554.49,78.21 L555.02,78.05 L555.55,77.88 L556.08,77.71 L556.61,77.55 L557.14,77.38 L557.67,77.22 L558.20,77.05 L558.73,76.89 L559.26,76.72 L559.79,76.56 L560.32,76.39 L560.85,76.23 L561.38,76.06 L561.91,75.90 L562.44,75.73 L562.97,75.57 L563.50,75.40 L564.03,75.24 L564.56,75.07 L565.09,74.91 L565.62,74.74 L566.15,74.58 L566.68,74.41 L567.21,74.24 L567.74,74.08 L568.27,73.91 L568.80,73.75 L569.33,73.58 L569.86,73.42 L570.39,73.25 L570.92,73.09 L571.45,72.92 L571.98,72.76 L572.51,72.59 L573.04,72.43 L573.57,72.26 L574.10,72.10 L574.63,71.93 L575.16,71.77 L575.69,71.60 L576.22,71.44 L576.75,71.27 L577.28,71.11 L577.81,70.94 L578.34,70.77 L578.87,70.61 L579.40,70.44 L579.93,70.28 L580.46,70.11 L580.99,69.95 L581.52,69.78 L582.05,69.62 L582.58,69.45 L583.11,69.29 L583.64,69.12 L584.17,68.96 L584.70,68.79 L585.23,68.63 L585.76,68.46 L586.29,68.30 L586.82,68.13 L587.35,67.97 L587.88,67.80 L588.41,67.64 L588.94,67.47 L589.47,67.30 L590.00,67.14 L590.53,66.97 L591.06,66.81 L591.59,66.64 L592.12,66.48 L592.65,66.31 L593.18,66.15 L593.71,65.98 L594.24,65.82 L594.77,65.65 L595.30,65.49 L595.83,65.32 L596.36,65.16 L596.89,64.99 L597.42,64.83 L597.95,64.66 L598.48,64.50 L599.01,64.33 L599.54,64.17 L600.07,64.00 L600.60,63.83 L601.13,63.67 L601.66,63.50 L602.19,63.34 L602.72,63.17 L603.25,63.01 L603.78,62.84 L604.31,62.68 L604.84,62.51 L605.37,62.35 L605.90,62.18 L606.43,62.02 L606.96,61.85 L607.49,61.69 L608.02,61.52 L608.55,61.36 L609.08,61.19 L609.61,61.03 L610.14,60.86 L610.67,60.70 L611.20,60.53 L611.73,60.36 L612.26,60.20 L612.79,60.03 L613.32,59.87 L613.85,59.70 L614.38,59.54 L614.91,59.37 L615.44,59.21 L615.97,59.04 L616.50,58.88 L617.03,58.71 L617.56,58.55 L618.09,58.38 L618.62,58.22 L619.15,58.05 L619.68,57.89 L620.21,57.72 L620.74,57.56 L621.27,57.40 L621.80,57.24 L622.33,57.09 L622.86,56.96 L623.39,56.87 L623.92,56.84 L624.45,56.91 L624.98,57.16 L625.51,57.66 L626.04,58.54 L626.57,59.92 L627.10,61.93 L627.63,64.68 L628.16,68.25 L628.69,72.64 L629.22,77.76 L629.75,83.44 L630.28,89.44 L630.81,95.47 L631.34,101.24 L631.87,106.49 L632.40,111.04 L632.93,114.80 L633.46,117.76 L633.99,119.98 L634.52,121.56 L635.05,122.64 L635.58,123.33 L636.11,123.76 L636.64,124.01 L637.17,124.15 L637.70,124.23 L638.23,124.27 L638.76,124.29 L639.29,124.29 L639.82,124.30 L640.35,124.30 L640.88,124.30 L641.41,124.30 L641.94,124.30 L642.47,124.30 L643.00,124.30 L643.53,124.30 L644.06,124.30 L644.59,124.30 L645.12,124.30 L645.65,124.30 L646.18,124.30 L646.71,124.30 L647.24,124.30 L647.77,124.30 L648.30,124.30" fill="none" stroke="#f9d6b0" stroke-width="0.8"/>
<path d="M510.50,124.30 L511.03,124.30 L511.56,124.30 L512.09,124.30 L512.62,124.30 L513.15,124.30 L513.68,124.30 L514.21,124.29 L514.74,124.28 L515.27,124.26 L515.80,124.22 L516.33,124.14 L516.86,124.00 L517.39,123.74 L517.92,123.31 L518.45,122.65 L518.98,121.66 L519.51,120.28 L520.04,118.46 L520.57,116.17 L521.10,113.45 L521.63,110.40 L522.16,107.16 L522.69,103.89 L523.22,100.78 L523.75,97.96 L524.28,95.54 L524.81,93.57 L525.34,92.04 L525.87,90.90 L526.40,90.09 L526.93,89.52 L527.46,89.12 L527.99,88.84 L528.52,88.64 L529.05,88.47 L529.58,88.32 L530.11,88.19 L530.64,88.06 L531.17,87.94 L531.70,87.82 L532.23,87.69 L532.76,87.57 L533.29,87.45 L533.82,87.33 L534.35,87.20 L534.88,87.08 L535.41,86.96 L535.94,86.84 L536.47,86.71 L537.00,86.59 L537.53,86.47 L538.06,86.35 L538.59,86.22 L539.12,86.10 L539.65,85.98 L540.18,85.86 L540.71,85.73 L541.24,85.61 L541.77,85.49 L542.30,85.37 L542.83,85.24 L543.36,85.12 L543.89,85.00 L544.42,84.88 L544.95,84.75 L545.48,84.63 L546.01,84.51 L546.54,84.39 L547.07,84.26 L547.60,84.14 L548.13,84.02 L548.66,83.90 L549.19,83.77 L549.72,83.65 L550.25,83.53 L550.78,83.41 L551.31,83.28 L551.84,83.16 L552.37,83.04 L552.90,82.92 L553.43,82.79 L553.96,82.67 L554.49,82.55 L555.02,82.43 L555.55,82.30 L556.08,82.18 L556.61,82.06 L557.14,81.94 L557.67,81.81 L558.20,81.69 L558.73,81.57 L559.26,81.45 L559.79,81.32 L560.32,81.20 L560.85,81.08 L561.38,80.96 L561.91,80.83 L562.44,80.71 L562.97,80.59 L563.50,80.47 L564.03,80.34 L564.56,80.22 L565.09,80.10 L565.62,79.98 L566.15,79.85 L566.68,79.73 L567.21,79.61 L567.74,79.49 L568.27,79.36 L568.80,79.24 L569.33,79.12 L569.86,79.00 L570.39,78.87 L570.92,78.75 L571.45,78.63 L571.98,78.51 L572.51,78.38 L573.04,78.26 L573.57,78.14 L574.10,78.02 L574.63,77.89 L575.16,77.77 L575.69,77.65 L576.22,77.53 L576.75,77.40 L577.28,77.28 L577.81,77.16 L578.34,77.04 L578.87,76.91 L579.40,76.79 L579.93,76.67 L580.46,76.55 L580.99,76.42 L581.52,76.30 L582.05,76.18 L582.58,76.06 L583.11,75.93 L583.64,75.81 L584.17,75.69 L584.70,75.57 L585.23,75.44 L585.76,75.32 L586.29,75.20 L586.82,75.08 L587.35,74.95 L587.88,74.83 L588.41,74.71 L588.94,74.59 L589.47,74.46 L590.00,74.34 L590.53,74.22 L591.06,74.10 L591.59,73.97 L592.12,73.85 L592.65,73.73 L593.18,73.61 L593.71,73.48 L594.24,73.36 L594.77,73.24 L595.30,73.12 L595.83,72.99 L596.36,72.87 L596.89,72.75 L597.42,72.63 L597.95,72.50 L598.48,72.38 L599.01,72.26 L599.54,72.14 L600.07,72.01 L600.60,71.89 L601.13,71.77 L601.66,71.65 L602.19,71.52 L602.72,71.40 L603.25,71.28 L603.78,71.16 L604.31,71.03 L604.84,70.91 L605.37,70.79 L605.90,70.67 L606.43,70.54 L606.96,70.42 L607.49,70.30 L608.02,70.18 L608.55,70.05 L609.08,69.93 L609.61,69.81 L610.14,69.69 L610.67,69.56 L611.20,69.44 L611.73,69.32 L612.26,69.20 L612.79,69.07 L613.32,68.95 L613.85,68.83 L614.38,68.71 L614.91,68.58 L615.44,68.46 L615.97,68.34 L616.50,68.22 L617.03,68.09 L617.56,67.97 L618.09,67.85 L618.62,67.73 L619.15,67.60 L619.68,67.48 L620.21,67.36 L620.74,67.24 L621.27,67.12 L621.80,67.00 L622.33,66.90 L622.86,66.80 L623.39,66.74 L623.92,66.73 L624.45,66.82 L624.98,67.04 L625.51,67.49 L626.04,68.26 L626.57,69.45 L627.10,71.18 L627.63,73.54 L628.16,76.59 L628.69,80.34 L629.22,84.71 L629.75,89.56 L630.28,94.67 L630.81,99.80 L631.34,104.70 L631.87,109.17 L632.40,113.04 L632.93,116.24 L633.46,118.75 L633.99,120.63 L634.52,121.98 L635.05,122.89 L635.58,123.48 L636.11,123.84 L636.64,124.06 L637.17,124.18 L637.70,124.24 L638.23,124.27 L638.76,124.29 L639.29,124.29 L639.82,124.30 L640.35,124.30 L640.88,124.30 L641.41,124.30 L641.94,124.30 L642.47,124.30 L643.00,124.30 L643.53,124.30 L644.06,124.30 L644.59,124.30 L645.12,124.30 L645.65,124.30 L646.18,124.30 L646.71,124.30 L647.24,124.30 L647.77,124.30 L648.30,124.30" fill="none" stroke="#f0a862" stroke-width="0.9"/>
<path d="M510.50,124.30 L511.03,124.30 L511.56,124.30 L512.09,124.30 L512.62,124.30 L513.15,124.30 L513.68,124.30 L514.21,124.30 L514.74,124.29 L515.27,124.28 L515.80,124.25 L516.33,124.19 L516.86,124.09 L517.39,123.92 L517.92,123.62 L518.45,123.17 L518.98,122.50 L519.51,121.56 L520.04,120.32 L520.57,118.76 L521.10,116.92 L521.63,114.85 L522.16,112.65 L522.69,110.44 L523.22,108.33 L523.75,106.43 L524.28,104.80 L524.81,103.47 L525.34,102.45 L525.87,101.69 L526.40,101.16 L526.93,100.79 L527.46,100.53 L527.99,100.36 L528.52,100.23 L529.05,100.13 L529.58,100.05 L530.11,99.98 L530.64,99.90 L531.17,99.83 L531.70,99.77 L532.23,99.70 L532.76,99.63 L533.29,99.56 L533.82,99.49 L534.35,99.42 L534.88,99.36 L535.41,99.29 L535.94,99.22 L536.47,99.15 L537.00,99.08 L537.53,99.01 L538.06,98.94 L538.59,98.88 L539.12,98.81 L539.65,98.74 L540.18,98.67 L540.71,98.60 L541.24,98.53 L541.77,98.47 L542.30,98.40 L542.83,98.33 L543.36,98.26 L543.89,98.19 L544.42,98.12 L544.95,98.06 L545.48,97.99 L546.01,97.92 L546.54,97.85 L547.07,97.78 L547.60,97.71 L548.13,97.65 L548.66,97.58 L549.19,97.51 L549.72,97.44 L550.25,97.37 L550.78,97.30 L551.31,97.24 L551.84,97.17 L552.37,97.10 L552.90,97.03 L553.43,96.96 L553.96,96.89 L554.49,96.83 L555.02,96.76 L555.55,96.69 L556.08,96.62 L556.61,96.55 L557.14,96.48 L557.67,96.41 L558.20,96.35 L558.73,96.28 L559.26,96.21 L559.79,96.14 L560.32,96.07 L560.85,96.00 L561.38,95.94 L561.91,95.87 L562.44,95.80 L562.97,95.73 L563.50,95.66 L564.03,95.59 L564.56,95.53 L565.09,95.46 L565.62,95.39 L566.15,95.32 L566.68,95.25 L567.21,95.18 L567.74,95.12 L568.27,95.05 L568.80,94.98 L569.33,94.91 L569.86,94.84 L570.39,94.77 L570.92,94.71 L571.45,94.64 L571.98,94.57 L572.51,94.50 L573.04,94.43 L573.57,94.36 L574.10,94.30 L574.63,94.23 L575.16,94.16 L575.69,94.09 L576.22,94.02 L576.75,93.95 L577.28,93.89 L577.81,93.82 L578.34,93.75 L578.87,93.68 L579.40,93.61 L579.93,93.54 L580.46,93.47 L580.99,93.41 L581.52,93.34 L582.05,93.27 L582.58,93.20 L583.11,93.13 L583.64,93.06 L584.17,93.00 L584.70,92.93 L585.23,92.86 L585.76,92.79 L586.29,92.72 L586.82,92.65 L587.35,92.59 L587.88,92.52 L588.41,92.45 L588.94,92.38 L589.47,92.31 L590.00,92.24 L590.53,92.18 L591.06,92.11 L591.59,92.04 L592.12,91.97 L592.65,91.90 L593.18,91.83 L593.71,91.77 L594.24,91.70 L594.77,91.63 L595.30,91.56 L595.83,91.49 L596.36,91.42 L596.89,91.36 L597.42,91.29 L597.95,91.22 L598.48,91.15 L599.01,91.08 L599.54,91.01 L600.07,90.95 L600.60,90.88 L601.13,90.81 L601.66,90.74 L602.19,90.67 L602.72,90.60 L603.25,90.53 L603.78,90.47 L604.31,90.40 L604.84,90.33 L605.37,90.26 L605.90,90.19 L606.43,90.12 L606.96,90.06 L607.49,89.99 L608.02,89.92 L608.55,89.85 L609.08,89.78 L609.61,89.71 L610.14,89.65 L610.67,89.58 L611.20,89.51 L611.73,89.44 L612.26,89.37 L612.79,89.30 L613.32,89.24 L613.85,89.17 L614.38,89.10 L614.91,89.03 L615.44,88.96 L615.97,88.89 L616.50,88.83 L617.03,88.76 L617.56,88.69 L618.09,88.62 L618.62,88.55 L619.15,88.48 L619.68,88.42 L620.21,88.35 L620.74,88.28 L621.27,88.21 L621.80,88.15 L622.33,88.09 L622.86,88.04 L623.39,88.01 L623.92,88.01 L624.45,88.07 L624.98,88.23 L625.51,88.52 L626.04,89.01 L626.57,89.77 L627.10,90.86 L627.63,92.36 L628.16,94.29 L628.69,96.65 L629.22,99.41 L629.75,102.46 L630.28,105.67 L630.81,108.90 L631.34,111.99 L631.87,114.80 L632.40,117.23 L632.93,119.24 L633.46,120.82 L633.99,122.00 L634.52,122.84 L635.05,123.42 L635.58,123.79 L636.11,124.01 L636.64,124.15 L637.17,124.22 L637.70,124.26 L638.23,124.28 L638.76,124.29 L639.29,124.30 L639.82,124.30 L640.35,124.30 L640.88,124.30 L641.41,124.30 L641.94,124.30 L642.47,124.30 L643.00,124.30 L643.53,124.30 L644.06,124.30 L644.59,124.30 L645.12,124.30 L645.65,124.30 L646.18,124.30 L646.71,124.30 L647.24,124.30 L647.77,124.30 L648.30,124.30" fill="none" stroke="#e9b283" stroke-width="0.9"/>
<path d="M536.92,85.21V89.35M535.72,85.21h2.4M535.72,89.35h2.4" stroke="#333" stroke-width="0.6" fill="none"/>
<path d="M547.58,80.02V84.17M546.38,80.02h2.4M546.38,84.17h2.4" stroke="#333" stroke-width="0.6" fill="none"/>
<path d="M558.24,74.52V80.75M557.04,74.52h2.4M557.04,80.75h2.4" stroke="#333" stroke-width="0.6" fill="none"/>
<path d="M568.91,74.52V78.67M567.71,74.52h2.4M567.71,78.67h2.4" stroke="#333" stroke-width="0.6" fill="none"/>
<path d="M579.57,73.49V77.63M578.37,73.49h2.4M578.37,77.63h2.4" stroke="#333" stroke-width="0.6" fill="none"/>
<path d="M590.23,71.41V75.56M589.03,71.41h2.4M589.03,75.56h2.4" stroke="#333" stroke-width="0.6" fill="none"/>
<path d="M600.90,71.00V75.15M599.70,71.00h2.4M599.70,75.15h2.4" stroke="#333" stroke-width="0.6" fill="none"/>
<path d="M611.56,69.34V73.49M610.36,69.34h2.4M610.36,73.49h2.4" stroke="#333" stroke-width="0.6" fill="none"/>
<path d="M622.22,67.99V72.14M621.02,67.99h2.4M621.02,72.14h2.4" stroke="#333" stroke-width="0.6" fill="none"/>
<path d="M536.92,81.78V85.93M535.72,81.78h2.4M535.72,85.93h2.4" stroke="#333" stroke-width="0.6" fill="none"/>
<path d="M547.58,76.60V80.75M546.38,76.60h2.4M546.38,80.75h2.4" stroke="#333" stroke-width="0.6" fill="none"/>
<path d="M558.24,72.45V76.60M557.04,72.45h2.4M557.04,76.60h2.4" stroke="#333" stroke-width="0.6" fill="none"/>
<path d="M568.91,69.34V73.49M567.71,69.34h2.4M567.71,73.49h2.4" stroke="#333" stroke-width="0.6" fill="none"/>
<path d="M579.57,67.26V71.41M578.37,67.26h2.4M578.37,71.41h2.4" stroke="#333" stroke-width="0.6" fill="none"/>
<path d="M590.23,64.67V68.82M589.03,64.67h2.4M589.03,68.82h2.4" stroke="#333" stroke-width="0.6" fill="none"/>
<path d="M600.90,61.56V67.78M599.70,61.56h2.4M599.70,67.78h2.4" stroke="#333" stroke-width="0.6" fill="none"/>
<path d="M611.56,60.52V64.67M610.36,60.52h2.4M610.36,64.67h2.4" stroke="#333" stroke-width="0.6" fill="none"/>
<circle cx="515.59" cy="123.26" r="2.3" fill="#dfa26c" stroke="#333" stroke-width="0.6"/>
<circle cx="526.25" cy="106.15" r="2.3" fill="#dfa26c" stroke="#333" stroke-width="0.6"/>
<circle cx="536.92" cy="98.38" r="2.3" fill="#dfa26c" stroke="#333" stroke-width="0.6"/>
<circle cx="547.58" cy="97.34" r="2.3" fill="#dfa26c" stroke="#333" stroke-width="0.6"/>
<circle cx="558.24" cy="95.26" r="2.3" fill="#dfa26c" stroke="#333" stroke-width="0.6"/>
<circle cx="568.91" cy="94.23" r="2.3" fill="#dfa26c" stroke="#333" stroke-width="0.6"/>
<circle cx="579.57" cy="93.19" r="2.3" fill="#dfa26c" stroke="#333" stroke-width="0.6"/>
<circle cx="590.23" cy="90.60" r="2.3" fill="#dfa26c" stroke="#333" stroke-width="0.6"/>
<circle cx="600.90" cy="90.60" r="2.3" fill="#dfa26c" stroke="#333" stroke-width="0.6"/>
<circle cx="611.56" cy="90.08" r="2.3" fill="#dfa26c" stroke="#333" stroke-width="0.6"/>
<circle cx="622.22" cy="90.08" r="2.3" fill="#dfa26c" stroke="#333" stroke-width="0.6"/>
<circle cx="632.89" cy="120.15" r="2.3" fill="#dfa26c" stroke="#333" stroke-width="0.6"/>
<circle cx="643.55" cy="123.26" r="2.3" fill="#dfa26c" stroke="#333" stroke-width="0.6"/>
<circle cx="515.59" cy="123.26" r="2.3" fill="#f4c08c" stroke="#333" stroke-width="0.6"/>
<circle cx="526.25" cy="100.14" r="2.3" fill="#f4c08c" stroke="#333" stroke-width="0.6"/>
<circle cx="536.92" cy="87.28" r="2.3" fill="#f4c08c" stroke="#333" stroke-width="0.6"/>
<circle cx="547.58" cy="82.09" r="2.3" fill="#f4c08c" stroke="#333" stroke-width="0.6"/>
<circle cx="558.24" cy="77.63" r="2.3" fill="#f4c08c" stroke="#333" stroke-width="0.6"/>
<circle cx="568.91" cy="76.60" r="2.3" fill="#f4c08c" stroke="#333" stroke-width="0.6"/>
<circle cx="579.57" cy="75.56" r="2.3" fill="#f4c08c" stroke="#333" stroke-width="0.6"/>
<circle cx="590.23" cy="73.49" r="2.3" fill="#f4c08c" stroke="#333" stroke-width="0.6"/>
<circle cx="600.90" cy="73.07" r="2.3" fill="#f4c08c" stroke="#333" stroke-width="0.6"/>
<circle cx="611.56" cy="71.41" r="2.3" fill="#f4c08c" stroke="#333" stroke-width="0.6"/>
<circle cx="622.22" cy="70.06" r="2.3" fill="#f4c08c" stroke="#333" stroke-width="0.6"/>
<circle cx="632.89" cy="119.11" r="2.3" fill="#f4c08c" stroke="#333" stroke-width="0.6"/>
<circle cx="643.55" cy="123.26" r="2.3" fill="#f4c08c" stroke="#333" stroke-width="0.6"/>
<circle cx="515.59" cy="123.26" r="2.3" fill="#fdf0e2" stroke="#333" stroke-width="0.6"/>
<circle cx="526.25" cy="97.86" r="2.3" fill="#fdf0e2" stroke="#333" stroke-width="0.6"/>
<circle cx="536.92" cy="83.86" r="2.3" fill="#fdf0e2" stroke="#333" stroke-width="0.6"/>
<circle cx="547.58" cy="78.67" r="2.3" fill="#fdf0e2" stroke="#333" stroke-width="0.6"/>
<circle cx="558.24" cy="74.52" r="2.3" fill="#fdf0e2" stroke="#333" stroke-width="0.6"/>
<circle cx="568.91" cy="71.41" r="2.3" fill="#fdf0e2" stroke="#333" stroke-width="0.6"/>
<circle cx="579.57" cy="69.34" r="2.3" fill="#fdf0e2" stroke="#333" stroke-width="0.6"/>
<circle cx="590.23" cy="66.75" r="2.3" fill="#fdf0e2" stroke="#333" stroke-width="0.6"/>
<circle cx="600.90" cy="64.67" r="2.3" fill="#fdf0e2" stroke="#333" stroke-width="0.6"/>
<circle cx="611.56" cy="62.60" r="2.3" fill="#fdf0e2" stroke="#333" stroke-width="0.6"/>
<circle cx="622.22" cy="58.97" r="2.3" fill="#fdf0e2" stroke="#333" stroke-width="0.6"/>
<circle cx="632.89" cy="117.04" r="2.3" fill="#fdf0e2" stroke="#333" stroke-width="0.6"/>
<circle cx="643.55" cy="123.26" r="2.3" fill="#fdf0e2" stroke="#333" stroke-width="0.6"/>
<rect x="513.29" y="118.37" width="4.6" height="4.6" fill="#555555" stroke="#333" stroke-width="0.65"/>
<rect x="523.95" y="34.89" width="4.6" height="4.6" fill="#555555" stroke="#333" stroke-width="0.65"/>
<rect x="534.62" y="19.54" width="4.6" height="4.6" fill="#555555" stroke="#333" stroke-width="0.65"/>
<rect x="545.28" y="19.03" width="4.6" height="4.6" fill="#555555" stroke="#333" stroke-width="0.65"/>
<rect x="555.94" y="19.03" width="4.6" height="4.6" fill="#555555" stroke="#333" stroke-width="0.65"/>
<rect x="566.61" y="19.03" width="4.6" height="4.6" fill="#555555" stroke="#333" stroke-width="0.65"/>
<rect x="577.27" y="19.54" width="4.6" height="4.6" fill="#555555" stroke="#333" stroke-width="0.65"/>
<rect x="587.93" y="19.54" width="4.6" height="4.6" fill="#555555" stroke="#333" stroke-width="0.65"/>
<rect x="598.60" y="19.54" width="4.6" height="4.6" fill="#555555" stroke="#333" stroke-width="0.65"/>
<rect x="609.26" y="19.03" width="4.6" height="4.6" fill="#555555" stroke="#333" stroke-width="0.65"/>
<rect x="619.92" y="21.62" width="4.6" height="4.6" fill="#555555" stroke="#333" stroke-width="0.65"/>
<rect x="630.59" y="108.52" width="4.6" height="4.6" fill="#555555" stroke="#333" stroke-width="0.65"/>
<rect x="641.25" y="118.37" width="4.6" height="4.6" fill="#555555" stroke="#333" stroke-width="0.65"/>
<rect x="513.29" y="118.89" width="4.6" height="4.6" fill="#808080" stroke="#333" stroke-width="0.65"/>
<rect x="523.95" y="43.19" width="4.6" height="4.6" fill="#808080" stroke="#333" stroke-width="0.65"/>
<rect x="534.62" y="20.06" width="4.6" height="4.6" fill="#808080" stroke="#333" stroke-width="0.65"/>
<rect x="545.28" y="19.54" width="4.6" height="4.6" fill="#808080" stroke="#333" stroke-width="0.65"/>
<rect x="555.94" y="19.54" width="4.6" height="4.6" fill="#808080" stroke="#333" stroke-width="0.65"/>
<rect x="566.61" y="19.54" width="4.6" height="4.6" fill="#808080" stroke="#333" stroke-width="0.65"/>
<rect x="577.27" y="20.06" width="4.6" height="4.6" fill="#808080" stroke="#333" stroke-width="0.65"/>
<rect x="587.93" y="20.06" width="4.6" height="4.6" fill="#808080" stroke="#333" stroke-width="0.65"/>
<rect x="598.60" y="20.06" width="4.6" height="4.6" fill="#808080" stroke="#333" stroke-width="0.65"/>
<rect x="609.26" y="19.54" width="4.6" height="4.6" fill="#808080" stroke="#333" stroke-width="0.65"/>
<rect x="619.92" y="20.58" width="4.6" height="4.6" fill="#808080" stroke="#333" stroke-width="0.65"/>
<rect x="630.59" y="111.63" width="4.6" height="4.6" fill="#808080" stroke="#333" stroke-width="0.65"/>
<rect x="641.25" y="118.89" width="4.6" height="4.6" fill="#808080" stroke="#333" stroke-width="0.65"/>
<rect x="513.29" y="119.41" width="4.6" height="4.6" fill="#ababab" stroke="#333" stroke-width="0.65"/>
<rect x="523.95" y="30.23" width="4.6" height="4.6" fill="#ababab" stroke="#333" stroke-width="0.65"/>
<rect x="534.62" y="20.06" width="4.6" height="4.6" fill="#ababab" stroke="#333" stroke-width="0.65"/>
<rect x="545.28" y="20.06" width="4.6" height="4.6" fill="#ababab" stroke="#333" stroke-width="0.65"/>
<rect x="555.94" y="20.06" width="4.6" height="4.6" fill="#ababab" stroke="#333" stroke-width="0.65"/>
<rect x="566.61" y="20.06" width="4.6" height="4.6" fill="#ababab" stroke="#333" stroke-width="0.65"/>
<rect x="577.27" y="20.06" width="4.6" height="4.6" fill="#ababab" stroke="#333" stroke-width="0.65"/>
<rect x="587.93" y="20.06" width="4.6" height="4.6" fill="#ababab" stroke="#333" stroke-width="0.65"/>
<rect x="598.60" y="20.06" width="4.6" height="4.6" fill="#ababab" stroke="#333" stroke-width="0.65"/>
<rect x="609.26" y="20.06" width="4.6" height="4.6" fill="#ababab" stroke="#333" stroke-width="0.65"/>
<rect x="619.92" y="20.06" width="4.6" height="4.6" fill="#ababab" stroke="#333" stroke-width="0.65"/>
<rect x="630.59" y="113.70" width="4.6" height="4.6" fill="#ababab" stroke="#333" stroke-width="0.65"/>
<rect x="641.25" y="119.41" width="4.6" height="4.6" fill="#ababab" stroke="#333" stroke-width="0.65"/>
<rect x="513.29" y="119.93" width="4.6" height="4.6" fill="#d2d2d2" stroke="#333" stroke-width="0.65"/>
<rect x="523.95" y="31.78" width="4.6" height="4.6" fill="#d2d2d2" stroke="#333" stroke-width="0.65"/>
<rect x="534.62" y="20.58" width="4.6" height="4.6" fill="#d2d2d2" stroke="#333" stroke-width="0.65"/>
<rect x="545.28" y="20.06" width="4.6" height="4.6" fill="#d2d2d2" stroke="#333" stroke-width="0.65"/>
<rect x="555.94" y="20.06" width="4.6" height="4.6" fill="#d2d2d2" stroke="#333" stroke-width="0.65"/>
<rect x="566.61" y="20.06" width="4.6" height="4.6" fill="#d2d2d2" stroke="#333" stroke-width="0.65"/>
<rect x="577.27" y="20.58" width="4.6" height="4.6" fill="#d2d2d2" stroke="#333" stroke-width="0.65"/>
<rect x="587.93" y="20.58" width="4.6" height="4.6" fill="#d2d2d2" stroke="#333" stroke-width="0.65"/>
<rect x="598.60" y="20.06" width="4.6" height="4.6" fill="#d2d2d2" stroke="#333" stroke-width="0.65"/>
<rect x="609.26" y="20.06" width="4.6" height="4.6" fill="#d2d2d2" stroke="#333" stroke-width="0.65"/>
<rect x="619.92" y="19.54" width="4.6" height="4.6" fill="#d2d2d2" stroke="#333" stroke-width="0.65"/>
<rect x="630.59" y="115.78" width="4.6" height="4.6" fill="#d2d2d2" stroke="#333" stroke-width="0.65"/>
<rect x="641.25" y="119.93" width="4.6" height="4.6" fill="#d2d2d2" stroke="#333" stroke-width="0.65"/>
</g>
<rect x="510.5" y="14.5" width="138.7" height="111.5" fill="none" stroke="#222" stroke-width="1"/>
<line x1="510.5" y1="124.30" x2="513.5" y2="124.30" stroke="#222" stroke-width="0.8"/>
<text x="506.60" y="127.90" font-size="10" font-weight="bold" text-anchor="end" fill="#111" >0.0</text>
<line x1="510.5" y1="113.93" x2="512.5" y2="113.93" stroke="#222" stroke-width="0.8"/>
<line x1="510.5" y1="103.56" x2="513.5" y2="103.56" stroke="#222" stroke-width="0.8"/>
<text x="506.60" y="107.16" font-size="10" font-weight="bold" text-anchor="end" fill="#111" >0.2</text>
<line x1="510.5" y1="93.19" x2="512.5" y2="93.19" stroke="#222" stroke-width="0.8"/>
<line x1="510.5" y1="82.82" x2="513.5" y2="82.82" stroke="#222" stroke-width="0.8"/>
<text x="506.60" y="86.42" font-size="10" font-weight="bold" text-anchor="end" fill="#111" >0.4</text>
<line x1="510.5" y1="72.45" x2="512.5" y2="72.45" stroke="#222" stroke-width="0.8"/>
<line x1="510.5" y1="62.08" x2="513.5" y2="62.08" stroke="#222" stroke-width="0.8"/>
<text x="506.60" y="65.68" font-size="10" font-weight="bold" text-anchor="end" fill="#111" >0.6</text>
<line x1="510.5" y1="51.71" x2="512.5" y2="51.71" stroke="#222" stroke-width="0.8"/>
<line x1="510.5" y1="41.34" x2="513.5" y2="41.34" stroke="#222" stroke-width="0.8"/>
<text x="506.60" y="44.94" font-size="10" font-weight="bold" text-anchor="end" fill="#111" >0.8</text>
<line x1="510.5" y1="30.97" x2="512.5" y2="30.97" stroke="#222" stroke-width="0.8"/>
<line x1="510.5" y1="20.60" x2="513.5" y2="20.60" stroke="#222" stroke-width="0.8"/>
<text x="506.60" y="24.20" font-size="10" font-weight="bold" text-anchor="end" fill="#111" >1.0</text>
<line x1="510.50" y1="126" x2="510.50" y2="123" stroke="#222" stroke-width="0.8"/>
<text x="510.50" y="138.20" font-size="10" font-weight="bold" text-anchor="middle" fill="#111" >0</text>
<line x1="526.40" y1="126" x2="526.40" y2="124" stroke="#222" stroke-width="0.8"/>
<line x1="542.30" y1="126" x2="542.30" y2="123" stroke="#222" stroke-width="0.8"/>
<text x="542.30" y="138.20" font-size="10" font-weight="bold" text-anchor="middle" fill="#111" >3</text>
<line x1="558.20" y1="126" x2="558.20" y2="124" stroke="#222" stroke-width="0.8"/>
<line x1="574.10" y1="126" x2="574.10" y2="123" stroke="#222" stroke-width="0.8"/>
<text x="574.10" y="138.20" font-size="10" font-weight="bold" text-anchor="middle" fill="#111" >6</text>
<line x1="590.00" y1="126" x2="590.00" y2="124" stroke="#222" stroke-width="0.8"/>
<line x1="605.90" y1="126" x2="605.90" y2="123" stroke="#222" stroke-width="0.8"/>
<text x="605.90" y="138.20" font-size="10" font-weight="bold" text-anchor="middle" fill="#111" >9</text>
<line x1="621.80" y1="126" x2="621.80" y2="124" stroke="#222" stroke-width="0.8"/>
<line x1="637.70" y1="126" x2="637.70" y2="123" stroke="#222" stroke-width="0.8"/>
<text x="637.70" y="138.20" font-size="10" font-weight="bold" text-anchor="middle" fill="#111" >12</text>
<text x="579.50" y="150.00" font-size="10" font-weight="bold" text-anchor="middle" fill="#111" >Pore Volume</text>
<text transform="translate(487.5,70.7) rotate(-90)" font-size="9.3" font-weight="bold" font-style="italic" text-anchor="middle" fill="#111">C/C<tspan font-size="6.2" dy="0.2">0</tspan></text>
<text x="579.70" y="119.50" font-size="10" font-weight="bold" text-anchor="middle" fill="#111" >1.0 m/d</text>
<linearGradient id="g1c" x1="0" y1="0" x2="0" y2="1"><stop offset="0" stop-color="#e4e2e2"/><stop offset="1" stop-color="#4f4f4f"/></linearGradient>
<linearGradient id="g2c" x1="0" y1="0" x2="0" y2="1"><stop offset="0" stop-color="#fff6ee"/><stop offset="1" stop-color="#e9a262"/></linearGradient>
<rect x="652" y="14.5" width="12.2" height="52.3" fill="url(#g1c)" stroke="#222" stroke-width="0.8"/>
<rect x="652" y="74.1" width="12.2" height="52.3" fill="url(#g2c)" stroke="#222" stroke-width="0.8"/>
<text transform="translate(661.6,40.6) rotate(-90)" font-size="8.5" font-weight="bold" text-anchor="middle" fill="#111">PVA-fCB</text>
<text transform="translate(661.6,100.2) rotate(-90)" font-size="8.6" font-weight="bold" text-anchor="middle" fill="#111">NR</text>
<text transform="translate(671.9,14.3) rotate(-90)" font-size="8.5" font-weight="bold" text-anchor="end" fill="#111">1.8</text>
<text transform="translate(671.9,65.6) rotate(-90)" font-size="8.5" font-weight="bold" text-anchor="start" fill="#111">6.9</text>
<text transform="translate(671.9,73.6) rotate(-90)" font-size="8.5" font-weight="bold" text-anchor="end" fill="#111">1.8</text>
<text transform="translate(671.9,125.3) rotate(-90)" font-size="8.5" font-weight="bold" text-anchor="start" fill="#111">6.9</text>
<text transform="translate(683.3,66.6) rotate(-90)" font-size="9.7" font-weight="bold" text-anchor="middle" fill="#111">FPOC <tspan font-style="italic">S</tspan><tspan font-size="6.5">n</tspan> (%)</text>
<text x="265.30" y="167.60" font-size="14" font-weight="bold" text-anchor="start" fill="#111" >d</text>
<clipPath id="clipd"><rect x="295.5" y="173.0" width="138.7" height="111.5"/></clipPath>
<g clip-path="url(#clipd)">
<path d="M295.50,282.80 L296.03,282.80 L296.56,282.80 L297.09,282.80 L297.62,282.80 L298.15,282.80 L298.68,282.80 L299.21,282.80 L299.74,282.79 L300.27,282.79 L300.80,282.77 L301.33,282.72 L301.86,282.63 L302.39,282.44 L302.92,282.09 L303.45,281.46 L303.98,280.41 L304.51,278.73 L305.04,276.20 L305.57,272.61 L306.10,267.76 L306.63,261.57 L307.16,254.11 L307.69,245.59 L308.22,236.38 L308.75,226.96 L309.28,217.86 L309.81,209.52 L310.34,202.30 L310.87,196.38 L311.40,191.80 L311.93,188.43 L312.46,186.09 L312.99,184.56 L313.52,183.61 L314.05,183.04 L314.58,182.73 L315.11,182.57 L315.64,182.49 L316.17,182.45 L316.70,182.43 L317.23,182.42 L317.76,182.42 L318.29,182.42 L318.82,182.42 L319.35,182.42 L319.88,182.42 L320.41,182.42 L320.94,182.42 L321.47,182.42 L322.00,182.42 L322.53,182.42 L323.06,182.42 L323.59,182.42 L324.12,182.42 L324.65,182.42 L325.18,182.42 L325.71,182.42 L326.24,182.42 L326.77,182.42 L327.30,182.42 L327.83,182.42 L328.36,182.42 L328.89,182.42 L329.42,182.42 L329.95,182.42 L330.48,182.42 L331.01,182.42 L331.54,182.42 L332.07,182.42 L332.60,182.42 L333.13,182.42 L333.66,182.42 L334.19,182.42 L334.72,182.42 L335.25,182.42 L335.78,182.42 L336.31,182.42 L336.84,182.42 L337.37,182.42 L337.90,182.42 L338.43,182.42 L338.96,182.42 L339.49,182.42 L340.02,182.42 L340.55,182.42 L341.08,182.42 L341.61,182.42 L342.14,182.42 L342.67,182.42 L343.20,182.42 L343.73,182.42 L344.26,182.42 L344.79,182.42 L345.32,182.42 L345.85,182.42 L346.38,182.42 L346.91,182.42 L347.44,182.42 L347.97,182.42 L348.50,182.42 L349.03,182.42 L349.56,182.42 L350.09,182.42 L350.62,182.42 L351.15,182.42 L351.68,182.42 L352.21,182.42 L352.74,182.42 L353.27,182.42 L353.80,182.42 L354.33,182.42 L354.86,182.42 L355.39,182.42 L355.92,182.42 L356.45,182.42 L356.98,182.42 L357.51,182.42 L358.04,182.42 L358.57,182.42 L359.10,182.42 L359.63,182.42 L360.16,182.42 L360.69,182.42 L361.22,182.42 L361.75,182.42 L362.28,182.42 L362.81,182.42 L363.34,182.42 L363.87,182.42 L364.40,182.42 L364.93,182.42 L365.46,182.42 L365.99,182.42 L366.52,182.42 L367.05,182.42 L367.58,182.42 L368.11,182.42 L368.64,182.42 L369.17,182.42 L369.70,182.42 L370.23,182.42 L370.76,182.42 L371.29,182.42 L371.82,182.42 L372.35,182.42 L372.88,182.42 L373.41,182.42 L373.94,182.42 L374.47,182.42 L375.00,182.42 L375.53,182.42 L376.06,182.42 L376.59,182.42 L377.12,182.42 L377.65,182.42 L378.18,182.42 L378.71,182.42 L379.24,182.42 L379.77,182.42 L380.30,182.42 L380.83,182.42 L381.36,182.42 L381.89,182.42 L382.42,182.42 L382.95,182.42 L383.48,182.42 L384.01,182.42 L384.54,182.42 L385.07,182.42 L385.60,182.42 L386.13,182.42 L386.66,182.42 L387.19,182.42 L387.72,182.42 L388.25,182.42 L388.78,182.42 L389.31,182.42 L389.84,182.42 L390.37,182.42 L390.90,182.42 L391.43,182.42 L391.96,182.42 L392.49,182.42 L393.02,182.42 L393.55,182.42 L394.08,182.42 L394.61,182.42 L395.14,182.42 L395.67,182.42 L396.20,182.42 L396.73,182.42 L397.26,182.42 L397.79,182.42 L398.32,182.42 L398.85,182.42 L399.38,182.42 L399.91,182.42 L400.44,182.42 L400.97,182.42 L401.50,182.42 L402.03,182.42 L402.56,182.42 L403.09,182.42 L403.62,182.42 L404.15,182.42 L404.68,182.42 L405.21,182.42 L405.74,182.42 L406.27,182.43 L406.80,182.44 L407.33,182.46 L407.86,182.52 L408.39,182.62 L408.92,182.82 L409.45,183.17 L409.98,183.78 L410.51,184.76 L411.04,186.29 L411.57,188.54 L412.10,191.70 L412.63,195.93 L413.16,201.33 L413.69,207.88 L414.22,215.47 L414.75,223.83 L415.28,232.61 L415.81,241.39 L416.34,249.75 L416.87,257.33 L417.40,263.89 L417.93,269.29 L418.46,273.52 L418.99,276.68 L419.52,278.93 L420.05,280.45 L420.58,281.44 L421.11,282.04 L421.64,282.40 L422.17,282.60 L422.70,282.70 L423.23,282.75 L423.76,282.78 L424.29,282.79 L424.82,282.80 L425.35,282.80 L425.88,282.80 L426.41,282.80 L426.94,282.80 L427.47,282.80 L428.00,282.80 L428.53,282.80 L429.06,282.80 L429.59,282.80 L430.12,282.80 L430.65,282.80 L431.18,282.80 L431.71,282.80 L432.24,282.80 L432.77,282.80 L433.30,282.80" fill="none" stroke="#999999" stroke-width="1.3"/>
<path d="M295.50,282.80 L296.03,282.80 L296.56,282.80 L297.09,282.80 L297.62,282.80 L298.15,282.80 L298.68,282.80 L299.21,282.80 L299.74,282.79 L300.27,282.78 L300.80,282.76 L301.33,282.72 L301.86,282.63 L302.39,282.48 L302.92,282.21 L303.45,281.77 L303.98,281.07 L304.51,280.06 L305.04,278.64 L305.57,276.77 L306.10,274.44 L306.63,270.58 L307.16,265.87 L307.69,260.44 L308.22,254.53 L308.75,248.44 L309.28,242.46 L309.81,236.86 L310.34,231.81 L310.87,227.41 L311.40,223.66 L311.93,220.50 L312.46,217.83 L312.99,215.55 L313.52,213.58 L314.05,211.82 L314.58,210.22 L315.11,208.75 L315.64,207.39 L316.17,206.10 L316.70,204.89 L317.23,203.75 L317.76,202.67 L318.29,201.65 L318.82,200.68 L319.35,199.76 L319.88,198.90 L320.41,198.08 L320.94,197.31 L321.47,196.58 L322.00,195.88 L322.53,195.23 L323.06,194.61 L323.59,194.02 L324.12,193.47 L324.65,192.94 L325.18,192.45 L325.71,191.98 L326.24,191.54 L326.77,191.12 L327.30,190.72 L327.83,190.34 L328.36,189.99 L328.89,189.65 L329.42,189.33 L329.95,189.03 L330.48,188.75 L331.01,188.48 L331.54,188.22 L332.07,187.98 L332.60,187.75 L333.13,187.54 L333.66,187.34 L334.19,187.14 L334.72,186.96 L335.25,186.79 L335.78,186.62 L336.31,186.47 L336.84,186.32 L337.37,186.18 L337.90,186.05 L338.43,185.93 L338.96,185.81 L339.49,185.70 L340.02,185.60 L340.55,185.50 L341.08,185.41 L341.61,185.32 L342.14,185.23 L342.67,185.15 L343.20,185.08 L343.73,185.01 L344.26,184.94 L344.79,184.88 L345.32,184.82 L345.85,184.76 L346.38,184.71 L346.91,184.66 L347.44,184.61 L347.97,184.56 L348.50,184.52 L349.03,184.48 L349.56,184.44 L350.09,184.40 L350.62,184.37 L351.15,184.34 L351.68,184.30 L352.21,184.28 L352.74,184.25 L353.27,184.22 L353.80,184.20 L354.33,184.17 L354.86,184.15 L355.39,184.13 L355.92,184.11 L356.45,184.09 L356.98,184.07 L357.51,184.06 L358.04,184.04 L358.57,184.03 L359.10,184.01 L359.63,184.00 L360.16,183.99 L360.69,183.97 L361.22,183.96 L361.75,183.95 L362.28,183.94 L362.81,183.93 L363.34,183.92 L363.87,183.92 L364.40,183.91 L364.93,183.90 L365.46,183.89 L365.99,183.89 L366.52,183.88 L367.05,183.87 L367.58,183.87 L368.11,183.86 L368.64,183.86 L369.17,183.85 L369.70,183.85 L370.23,183.84 L370.76,183.84 L371.29,183.83 L371.82,183.83 L372.35,183.83 L372.88,183.82 L373.41,183.82 L373.94,183.82 L374.47,183.81 L375.00,183.81 L375.53,183.81 L376.06,183.81 L376.59,183.80 L377.12,183.80 L377.65,183.80 L378.18,183.80 L378.71,183.80 L379.24,183.80 L379.77,183.79 L380.30,183.79 L380.83,183.79 L381.36,183.79 L381.89,183.79 L382.42,183.79 L382.95,183.79 L383.48,183.78 L384.01,183.78 L384.54,183.78 L385.07,183.78 L385.60,183.78 L386.13,183.78 L386.66,183.78 L387.19,183.78 L387.72,183.78 L388.25,183.78 L388.78,183.78 L389.31,183.78 L389.84,183.77 L390.37,183.77 L390.90,183.77 L391.43,183.77 L391.96,183.77 L392.49,183.77 L393.02,183.77 L393.55,183.77 L394.08,183.77 L394.61,183.77 L395.14,183.77 L395.67,183.77 L396.20,183.77 L396.73,183.77 L397.26,183.77 L397.79,183.77 L398.32,183.77 L398.85,183.77 L399.38,183.77 L399.91,183.77 L400.44,183.77 L400.97,183.77 L401.50,183.77 L402.03,183.77 L402.56,183.77 L403.09,183.77 L403.62,183.77 L404.15,183.77 L404.68,183.77 L405.21,183.77 L405.74,183.77 L406.27,183.78 L406.80,183.79 L407.33,183.81 L407.86,183.86 L408.39,183.97 L408.92,184.16 L409.45,184.51 L409.98,185.11 L410.51,186.08 L411.04,187.58 L411.57,189.80 L412.10,192.92 L412.63,197.10 L413.16,202.42 L413.69,208.89 L414.22,216.37 L414.75,224.62 L415.28,233.28 L415.81,241.94 L416.34,250.19 L416.87,257.68 L417.40,264.14 L417.93,269.47 L418.46,273.64 L418.99,276.76 L419.52,278.98 L420.05,280.49 L420.58,281.46 L421.11,282.05 L421.64,282.40 L422.17,282.60 L422.70,282.70 L423.23,282.75 L423.76,282.78 L424.29,282.79 L424.82,282.80 L425.35,282.80 L425.88,282.80 L426.41,282.80 L426.94,282.80 L427.47,282.80 L428.00,282.80 L428.53,282.80 L429.06,282.80 L429.59,282.80 L430.12,282.80 L430.65,282.80 L431.18,282.80 L431.71,282.80 L432.24,282.80 L432.77,282.80 L433.30,282.80" fill="none" stroke="#fbe3de" stroke-width="0.8"/>
<path d="M295.50,282.80 L296.03,282.80 L296.56,282.80 L297.09,282.80 L297.62,282.80 L298.15,282.80 L298.68,282.80 L299.21,282.79 L299.74,282.78 L300.27,282.76 L300.80,282.71 L301.33,282.61 L301.86,282.44 L302.39,282.14 L302.92,281.64 L303.45,280.86 L303.98,279.72 L304.51,278.13 L305.04,276.04 L305.57,273.42 L306.10,270.33 L306.63,266.56 L307.16,262.45 L307.69,258.19 L308.22,254.01 L308.75,250.10 L309.28,246.60 L309.81,243.61 L310.34,241.13 L310.87,239.12 L311.40,237.52 L311.93,236.23 L312.46,235.18 L312.99,234.28 L313.52,233.49 L314.05,232.76 L314.58,232.07 L315.11,231.40 L315.64,230.75 L316.17,230.11 L316.70,229.48 L317.23,228.86 L317.76,228.25 L318.29,227.64 L318.82,227.04 L319.35,226.45 L319.88,225.87 L320.41,225.29 L320.94,224.72 L321.47,224.16 L322.00,223.61 L322.53,223.06 L323.06,222.52 L323.59,221.98 L324.12,221.46 L324.65,220.94 L325.18,220.42 L325.71,219.91 L326.24,219.41 L326.77,218.91 L327.30,218.42 L327.83,217.94 L328.36,217.46 L328.89,216.99 L329.42,216.53 L329.95,216.07 L330.48,215.61 L331.01,215.16 L331.54,214.72 L332.07,214.28 L332.60,213.85 L333.13,213.42 L333.66,213.00 L334.19,212.59 L334.72,212.18 L335.25,211.77 L335.78,211.37 L336.31,210.97 L336.84,210.58 L337.37,210.20 L337.90,209.81 L338.43,209.44 L338.96,209.07 L339.49,208.70 L340.02,208.34 L340.55,207.98 L341.08,207.62 L341.61,207.27 L342.14,206.93 L342.67,206.59 L343.20,206.25 L343.73,205.92 L344.26,205.59 L344.79,205.27 L345.32,204.95 L345.85,204.63 L346.38,204.32 L346.91,204.01 L347.44,203.71 L347.97,203.41 L348.50,203.11 L349.03,202.82 L349.56,202.53 L350.09,202.24 L350.62,201.96 L351.15,201.68 L351.68,201.40 L352.21,201.13 L352.74,200.86 L353.27,200.60 L353.80,200.33 L354.33,200.08 L354.86,199.82 L355.39,199.57 L355.92,199.32 L356.45,199.07 L356.98,198.83 L357.51,198.59 L358.04,198.35 L358.57,198.12 L359.10,197.89 L359.63,197.66 L360.16,197.43 L360.69,197.21 L361.22,196.99 L361.75,196.77 L362.28,196.56 L362.81,196.35 L363.34,196.14 L363.87,195.93 L364.40,195.73 L364.93,195.52 L365.46,195.33 L365.99,195.13 L366.52,194.93 L367.05,194.74 L367.58,194.55 L368.11,194.37 L368.64,194.18 L369.17,194.00 L369.70,193.82 L370.23,193.64 L370.76,193.47 L371.29,193.29 L371.82,193.12 L372.35,192.95 L372.88,192.78 L373.41,192.62 L373.94,192.46 L374.47,192.30 L375.00,192.14 L375.53,191.98 L376.06,191.83 L376.59,191.67 L377.12,191.52 L377.65,191.37 L378.18,191.22 L378.71,191.08 L379.24,190.93 L379.77,190.79 L380.30,190.65 L380.83,190.51 L381.36,190.38 L381.89,190.24 L382.42,190.11 L382.95,189.98 L383.48,189.85 L384.01,189.72 L384.54,189.59 L385.07,189.47 L385.60,189.34 L386.13,189.22 L386.66,189.10 L387.19,188.98 L387.72,188.86 L388.25,188.75 L388.78,188.63 L389.31,188.52 L389.84,188.41 L390.37,188.29 L390.90,188.19 L391.43,188.08 L391.96,187.97 L392.49,187.87 L393.02,187.76 L393.55,187.66 L394.08,187.56 L394.61,187.46 L395.14,187.36 L395.67,187.26 L396.20,187.16 L396.73,187.07 L397.26,186.98 L397.79,186.88 L398.32,186.79 L398.85,186.70 L399.38,186.61 L399.91,186.52 L400.44,186.44 L400.97,186.35 L401.50,186.26 L402.03,186.18 L402.56,186.10 L403.09,186.02 L403.62,185.93 L404.15,185.85 L404.68,185.78 L405.21,185.70 L405.74,185.62 L406.27,185.55 L406.80,185.49 L407.33,185.44 L407.86,185.42 L408.39,185.45 L408.92,185.57 L409.45,185.84 L409.98,186.36 L410.51,187.26 L411.04,188.68 L411.57,190.81 L412.10,193.83 L412.63,197.91 L413.16,203.13 L413.69,209.49 L414.22,216.87 L414.75,225.02 L415.28,233.59 L415.81,242.17 L416.34,250.36 L416.87,257.79 L417.40,264.22 L417.93,269.51 L418.46,273.67 L418.99,276.78 L419.52,278.99 L420.05,280.49 L420.58,281.46 L421.11,282.05 L421.64,282.40 L422.17,282.60 L422.70,282.70 L423.23,282.75 L423.76,282.78 L424.29,282.79 L424.82,282.80 L425.35,282.80 L425.88,282.80 L426.41,282.80 L426.94,282.80 L427.47,282.80 L428.00,282.80 L428.53,282.80 L429.06,282.80 L429.59,282.80 L430.12,282.80 L430.65,282.80 L431.18,282.80 L431.71,282.80 L432.24,282.80 L432.77,282.80 L433.30,282.80" fill="none" stroke="#f8d4cc" stroke-width="0.8"/>
<path d="M295.50,282.80 L296.03,282.80 L296.56,282.80 L297.09,282.80 L297.62,282.80 L298.15,282.80 L298.68,282.80 L299.21,282.79 L299.74,282.79 L300.27,282.77 L300.80,282.73 L301.33,282.65 L301.86,282.51 L302.39,282.25 L302.92,281.81 L303.45,281.11 L303.98,280.05 L304.51,278.52 L305.04,276.45 L305.57,273.78 L306.10,270.54 L306.63,266.81 L307.16,262.74 L307.69,258.54 L308.22,254.43 L308.75,250.61 L309.28,247.24 L309.81,244.42 L310.34,242.16 L310.87,240.43 L311.40,239.14 L311.93,238.21 L312.46,237.54 L312.99,237.04 L313.52,236.65 L314.05,236.34 L314.58,236.05 L315.11,235.79 L315.64,235.54 L316.17,235.30 L316.70,235.05 L317.23,234.81 L317.76,234.56 L318.29,234.32 L318.82,234.08 L319.35,233.83 L319.88,233.59 L320.41,233.35 L320.94,233.10 L321.47,232.86 L322.00,232.62 L322.53,232.37 L323.06,232.13 L323.59,231.89 L324.12,231.64 L324.65,231.40 L325.18,231.16 L325.71,230.91 L326.24,230.67 L326.77,230.43 L327.30,230.18 L327.83,229.94 L328.36,229.70 L328.89,229.45 L329.42,229.21 L329.95,228.97 L330.48,228.72 L331.01,228.48 L331.54,228.24 L332.07,227.99 L332.60,227.75 L333.13,227.51 L333.66,227.26 L334.19,227.02 L334.72,226.78 L335.25,226.53 L335.78,226.29 L336.31,226.05 L336.84,225.80 L337.37,225.56 L337.90,225.32 L338.43,225.07 L338.96,224.83 L339.49,224.59 L340.02,224.35 L340.55,224.10 L341.08,223.86 L341.61,223.62 L342.14,223.37 L342.67,223.13 L343.20,222.89 L343.73,222.64 L344.26,222.40 L344.79,222.16 L345.32,221.91 L345.85,221.67 L346.38,221.43 L346.91,221.18 L347.44,220.94 L347.97,220.70 L348.50,220.45 L349.03,220.21 L349.56,219.97 L350.09,219.72 L350.62,219.48 L351.15,219.24 L351.68,218.99 L352.21,218.75 L352.74,218.51 L353.27,218.26 L353.80,218.02 L354.33,217.78 L354.86,217.53 L355.39,217.29 L355.92,217.05 L356.45,216.80 L356.98,216.56 L357.51,216.32 L358.04,216.07 L358.57,215.83 L359.10,215.59 L359.63,215.34 L360.16,215.10 L360.69,214.86 L361.22,214.61 L361.75,214.37 L362.28,214.13 L362.81,213.88 L363.34,213.64 L363.87,213.40 L364.40,213.15 L364.93,212.91 L365.46,212.67 L365.99,212.42 L366.52,212.18 L367.05,211.94 L367.58,211.69 L368.11,211.45 L368.64,211.21 L369.17,210.96 L369.70,210.72 L370.23,210.48 L370.76,210.23 L371.29,209.99 L371.82,209.75 L372.35,209.50 L372.88,209.26 L373.41,209.02 L373.94,208.77 L374.47,208.53 L375.00,208.29 L375.53,208.04 L376.06,207.80 L376.59,207.56 L377.12,207.31 L377.65,207.07 L378.18,206.83 L378.71,206.58 L379.24,206.34 L379.77,206.10 L380.30,205.85 L380.83,205.61 L381.36,205.37 L381.89,205.12 L382.42,204.88 L382.95,204.64 L383.48,204.39 L384.01,204.15 L384.54,203.91 L385.07,203.66 L385.60,203.42 L386.13,203.18 L386.66,202.94 L387.19,202.69 L387.72,202.45 L388.25,202.21 L388.78,201.96 L389.31,201.72 L389.84,201.48 L390.37,201.23 L390.90,200.99 L391.43,200.75 L391.96,200.50 L392.49,200.26 L393.02,200.02 L393.55,199.77 L394.08,199.53 L394.61,199.29 L395.14,199.04 L395.67,198.80 L396.20,198.56 L396.73,198.31 L397.26,198.07 L397.79,197.83 L398.32,197.58 L398.85,197.34 L399.38,197.10 L399.91,196.85 L400.44,196.61 L400.97,196.37 L401.50,196.12 L402.03,195.88 L402.56,195.64 L403.09,195.39 L403.62,195.15 L404.15,194.91 L404.68,194.66 L405.21,194.42 L405.74,194.18 L406.27,193.94 L406.80,193.71 L407.33,193.49 L407.86,193.29 L408.39,193.14 L408.92,193.08 L409.45,193.15 L409.98,193.46 L410.51,194.11 L411.04,195.25 L411.57,197.07 L412.10,199.72 L412.63,203.37 L413.16,208.11 L413.69,213.94 L414.22,220.75 L414.75,228.31 L415.28,236.30 L415.81,244.33 L416.34,252.02 L416.87,259.02 L417.40,265.10 L417.93,270.12 L418.46,274.07 L418.99,277.03 L419.52,279.14 L420.05,280.58 L420.58,281.51 L421.11,282.08 L421.64,282.42 L422.17,282.60 L422.70,282.70 L423.23,282.76 L423.76,282.78 L424.29,282.79 L424.82,282.80 L425.35,282.80 L425.88,282.80 L426.41,282.80 L426.94,282.80 L427.47,282.80 L428.00,282.80 L428.53,282.80 L429.06,282.80 L429.59,282.80 L430.12,282.80 L430.65,282.80 L431.18,282.80 L431.71,282.80 L432.24,282.80 L432.77,282.80 L433.30,282.80" fill="none" stroke="#f7b89e" stroke-width="0.85"/>
<path d="M295.50,282.80 L296.03,282.80 L296.56,282.80 L297.09,282.80 L297.62,282.80 L298.15,282.80 L298.68,282.80 L299.21,282.79 L299.74,282.79 L300.27,282.77 L300.80,282.73 L301.33,282.66 L301.86,282.52 L302.39,282.27 L302.92,281.85 L303.45,281.17 L303.98,280.15 L304.51,278.68 L305.04,276.69 L305.57,274.14 L306.10,271.03 L306.63,267.47 L307.16,263.58 L307.69,259.57 L308.22,255.66 L308.75,252.03 L309.28,248.84 L309.81,246.17 L310.34,244.05 L310.87,242.43 L311.40,241.24 L311.93,240.39 L312.46,239.78 L312.99,239.34 L313.52,239.01 L314.05,238.74 L314.58,238.51 L315.11,238.29 L315.64,238.09 L316.17,237.89 L316.70,237.69 L317.23,237.49 L317.76,237.30 L318.29,237.10 L318.82,236.90 L319.35,236.70 L319.88,236.51 L320.41,236.31 L320.94,236.11 L321.47,235.92 L322.00,235.72 L322.53,235.52 L323.06,235.32 L323.59,235.13 L324.12,234.93 L324.65,234.73 L325.18,234.54 L325.71,234.34 L326.24,234.14 L326.77,233.94 L327.30,233.75 L327.83,233.55 L328.36,233.35 L328.89,233.16 L329.42,232.96 L329.95,232.76 L330.48,232.56 L331.01,232.37 L331.54,232.17 L332.07,231.97 L332.60,231.78 L333.13,231.58 L333.66,231.38 L334.19,231.18 L334.72,230.99 L335.25,230.79 L335.78,230.59 L336.31,230.40 L336.84,230.20 L337.37,230.00 L337.90,229.80 L338.43,229.61 L338.96,229.41 L339.49,229.21 L340.02,229.02 L340.55,228.82 L341.08,228.62 L341.61,228.42 L342.14,228.23 L342.67,228.03 L343.20,227.83 L343.73,227.64 L344.26,227.44 L344.79,227.24 L345.32,227.04 L345.85,226.85 L346.38,226.65 L346.91,226.45 L347.44,226.26 L347.97,226.06 L348.50,225.86 L349.03,225.66 L349.56,225.47 L350.09,225.27 L350.62,225.07 L351.15,224.88 L351.68,224.68 L352.21,224.48 L352.74,224.28 L353.27,224.09 L353.80,223.89 L354.33,223.69 L354.86,223.49 L355.39,223.30 L355.92,223.10 L356.45,222.90 L356.98,222.71 L357.51,222.51 L358.04,222.31 L358.57,222.11 L359.10,221.92 L359.63,221.72 L360.16,221.52 L360.69,221.33 L361.22,221.13 L361.75,220.93 L362.28,220.73 L362.81,220.54 L363.34,220.34 L363.87,220.14 L364.40,219.95 L364.93,219.75 L365.46,219.55 L365.99,219.35 L366.52,219.16 L367.05,218.96 L367.58,218.76 L368.11,218.57 L368.64,218.37 L369.17,218.17 L369.70,217.97 L370.23,217.78 L370.76,217.58 L371.29,217.38 L371.82,217.19 L372.35,216.99 L372.88,216.79 L373.41,216.59 L373.94,216.40 L374.47,216.20 L375.00,216.00 L375.53,215.81 L376.06,215.61 L376.59,215.41 L377.12,215.21 L377.65,215.02 L378.18,214.82 L378.71,214.62 L379.24,214.43 L379.77,214.23 L380.30,214.03 L380.83,213.83 L381.36,213.64 L381.89,213.44 L382.42,213.24 L382.95,213.05 L383.48,212.85 L384.01,212.65 L384.54,212.45 L385.07,212.26 L385.60,212.06 L386.13,211.86 L386.66,211.67 L387.19,211.47 L387.72,211.27 L388.25,211.07 L388.78,210.88 L389.31,210.68 L389.84,210.48 L390.37,210.29 L390.90,210.09 L391.43,209.89 L391.96,209.69 L392.49,209.50 L393.02,209.30 L393.55,209.10 L394.08,208.91 L394.61,208.71 L395.14,208.51 L395.67,208.31 L396.20,208.12 L396.73,207.92 L397.26,207.72 L397.79,207.53 L398.32,207.33 L398.85,207.13 L399.38,206.93 L399.91,206.74 L400.44,206.54 L400.97,206.34 L401.50,206.15 L402.03,205.95 L402.56,205.75 L403.09,205.55 L403.62,205.36 L404.15,205.16 L404.68,204.96 L405.21,204.77 L405.74,204.57 L406.27,204.38 L406.80,204.19 L407.33,204.01 L407.86,203.86 L408.39,203.74 L408.92,203.70 L409.45,203.79 L409.98,204.07 L410.51,204.66 L411.04,205.69 L411.57,207.30 L412.10,209.65 L412.63,212.88 L413.16,217.07 L413.69,222.21 L414.22,228.21 L414.75,234.88 L415.28,241.91 L415.81,248.98 L416.34,255.74 L416.87,261.90 L417.40,267.25 L417.93,271.66 L418.46,275.13 L418.99,277.73 L419.52,279.59 L420.05,280.85 L420.58,281.66 L421.11,282.17 L421.64,282.46 L422.17,282.63 L422.70,282.72 L423.23,282.76 L423.76,282.78 L424.29,282.79 L424.82,282.80 L425.35,282.80 L425.88,282.80 L426.41,282.80 L426.94,282.80 L427.47,282.80 L428.00,282.80 L428.53,282.80 L429.06,282.80 L429.59,282.80 L430.12,282.80 L430.65,282.80 L431.18,282.80 L431.71,282.80 L432.24,282.80 L432.77,282.80 L433.30,282.80" fill="none" stroke="#f28888" stroke-width="0.85"/>
<path d="M295.50,282.80 L296.03,282.80 L296.56,282.80 L297.09,282.80 L297.62,282.80 L298.15,282.80 L298.68,282.80 L299.21,282.79 L299.74,282.79 L300.27,282.77 L300.80,282.74 L301.33,282.67 L301.86,282.54 L302.39,282.31 L302.92,281.92 L303.45,281.29 L303.98,280.34 L304.51,278.99 L305.04,277.16 L305.57,274.80 L306.10,271.95 L306.63,268.67 L307.16,265.11 L307.69,261.44 L308.22,257.87 L308.75,254.56 L309.28,251.66 L309.81,249.25 L310.34,247.34 L310.87,245.89 L311.40,244.84 L311.93,244.09 L312.46,243.57 L312.99,243.21 L313.52,242.94 L314.05,242.73 L314.58,242.55 L315.11,242.39 L315.64,242.24 L316.17,242.09 L316.70,241.95 L317.23,241.80 L317.76,241.66 L318.29,241.51 L318.82,241.37 L319.35,241.22 L319.88,241.08 L320.41,240.93 L320.94,240.79 L321.47,240.64 L322.00,240.50 L322.53,240.35 L323.06,240.21 L323.59,240.07 L324.12,239.92 L324.65,239.78 L325.18,239.63 L325.71,239.49 L326.24,239.34 L326.77,239.20 L327.30,239.05 L327.83,238.91 L328.36,238.76 L328.89,238.62 L329.42,238.47 L329.95,238.33 L330.48,238.18 L331.01,238.04 L331.54,237.89 L332.07,237.75 L332.60,237.61 L333.13,237.46 L333.66,237.32 L334.19,237.17 L334.72,237.03 L335.25,236.88 L335.78,236.74 L336.31,236.59 L336.84,236.45 L337.37,236.30 L337.90,236.16 L338.43,236.01 L338.96,235.87 L339.49,235.72 L340.02,235.58 L340.55,235.43 L341.08,235.29 L341.61,235.14 L342.14,235.00 L342.67,234.86 L343.20,234.71 L343.73,234.57 L344.26,234.42 L344.79,234.28 L345.32,234.13 L345.85,233.99 L346.38,233.84 L346.91,233.70 L347.44,233.55 L347.97,233.41 L348.50,233.26 L349.03,233.12 L349.56,232.97 L350.09,232.83 L350.62,232.68 L351.15,232.54 L351.68,232.39 L352.21,232.25 L352.74,232.11 L353.27,231.96 L353.80,231.82 L354.33,231.67 L354.86,231.53 L355.39,231.38 L355.92,231.24 L356.45,231.09 L356.98,230.95 L357.51,230.80 L358.04,230.66 L358.57,230.51 L359.10,230.37 L359.63,230.22 L360.16,230.08 L360.69,229.93 L361.22,229.79 L361.75,229.65 L362.28,229.50 L362.81,229.36 L363.34,229.21 L363.87,229.07 L364.40,228.92 L364.93,228.78 L365.46,228.63 L365.99,228.49 L366.52,228.34 L367.05,228.20 L367.58,228.05 L368.11,227.91 L368.64,227.76 L369.17,227.62 L369.70,227.47 L370.23,227.33 L370.76,227.18 L371.29,227.04 L371.82,226.90 L372.35,226.75 L372.88,226.61 L373.41,226.46 L373.94,226.32 L374.47,226.17 L375.00,226.03 L375.53,225.88 L376.06,225.74 L376.59,225.59 L377.12,225.45 L377.65,225.30 L378.18,225.16 L378.71,225.01 L379.24,224.87 L379.77,224.72 L380.30,224.58 L380.83,224.44 L381.36,224.29 L381.89,224.15 L382.42,224.00 L382.95,223.86 L383.48,223.71 L384.01,223.57 L384.54,223.42 L385.07,223.28 L385.60,223.13 L386.13,222.99 L386.66,222.84 L387.19,222.70 L387.72,222.55 L388.25,222.41 L388.78,222.26 L389.31,222.12 L389.84,221.97 L390.37,221.83 L390.90,221.69 L391.43,221.54 L391.96,221.40 L392.49,221.25 L393.02,221.11 L393.55,220.96 L394.08,220.82 L394.61,220.67 L395.14,220.53 L395.67,220.38 L396.20,220.24 L396.73,220.09 L397.26,219.95 L397.79,219.80 L398.32,219.66 L398.85,219.51 L399.38,219.37 L399.91,219.23 L400.44,219.08 L400.97,218.94 L401.50,218.79 L402.03,218.65 L402.56,218.50 L403.09,218.36 L403.62,218.21 L404.15,218.07 L404.68,217.92 L405.21,217.78 L405.74,217.64 L406.27,217.49 L406.80,217.36 L407.33,217.23 L407.86,217.12 L408.39,217.04 L408.92,217.03 L409.45,217.12 L409.98,217.37 L410.51,217.88 L411.04,218.75 L411.57,220.11 L412.10,222.08 L412.63,224.78 L413.16,228.26 L413.69,232.55 L414.22,237.54 L414.75,243.07 L415.28,248.91 L415.81,254.78 L416.34,260.39 L416.87,265.50 L417.40,269.92 L417.93,273.58 L418.46,276.45 L418.99,278.61 L419.52,280.14 L420.05,281.19 L420.58,281.86 L421.11,282.28 L421.64,282.52 L422.17,282.66 L422.70,282.73 L423.23,282.77 L423.76,282.79 L424.29,282.79 L424.82,282.80 L425.35,282.80 L425.88,282.80 L426.41,282.80 L426.94,282.80 L427.47,282.80 L428.00,282.80 L428.53,282.80 L429.06,282.80 L429.59,282.80 L430.12,282.80 L430.65,282.80 L431.18,282.80 L431.71,282.80 L432.24,282.80 L432.77,282.80 L433.30,282.80" fill="none" stroke="#ef6464" stroke-width="0.85"/>
<path d="M321.92,236.76V242.98M320.72,236.76h2.4M320.72,242.98h2.4" stroke="#333" stroke-width="0.6" fill="none"/>
<path d="M332.58,232.30V240.59M331.38,232.30h2.4M331.38,240.59h2.4" stroke="#333" stroke-width="0.6" fill="none"/>
<path d="M343.24,228.05V234.27M342.04,228.05h2.4M342.04,234.27h2.4" stroke="#333" stroke-width="0.6" fill="none"/>
<path d="M353.91,226.28V232.51M352.71,226.28h2.4M352.71,232.51h2.4" stroke="#333" stroke-width="0.6" fill="none"/>
<path d="M364.57,221.41V231.78M363.37,221.41h2.4M363.37,231.78h2.4" stroke="#333" stroke-width="0.6" fill="none"/>
<path d="M375.23,219.02V227.32M374.03,219.02h2.4M374.03,227.32h2.4" stroke="#333" stroke-width="0.6" fill="none"/>
<path d="M385.90,221.10V225.25M384.70,221.10h2.4M384.70,225.25h2.4" stroke="#333" stroke-width="0.6" fill="none"/>
<path d="M396.56,219.23V225.45M395.36,219.23h2.4M395.36,225.45h2.4" stroke="#333" stroke-width="0.6" fill="none"/>
<path d="M407.22,218.71V224.94M406.02,218.71h2.4M406.02,224.94h2.4" stroke="#333" stroke-width="0.6" fill="none"/>
<path d="M321.92,226.39V234.68M320.72,226.39h2.4M320.72,234.68h2.4" stroke="#333" stroke-width="0.6" fill="none"/>
<path d="M332.58,221.62V234.06M331.38,221.62h2.4M331.38,234.06h2.4" stroke="#333" stroke-width="0.6" fill="none"/>
<path d="M343.24,217.16V227.53M342.04,217.16h2.4M342.04,227.53h2.4" stroke="#333" stroke-width="0.6" fill="none"/>
<path d="M353.91,216.74V225.04M352.71,216.74h2.4M352.71,225.04h2.4" stroke="#333" stroke-width="0.6" fill="none"/>
<path d="M364.57,208.14V224.73M363.37,208.14h2.4M363.37,224.73h2.4" stroke="#333" stroke-width="0.6" fill="none"/>
<path d="M375.23,207.41V219.85M374.03,207.41h2.4M374.03,219.85h2.4" stroke="#333" stroke-width="0.6" fill="none"/>
<path d="M385.90,205.34V215.71M384.70,205.34h2.4M384.70,215.71h2.4" stroke="#333" stroke-width="0.6" fill="none"/>
<path d="M396.56,203.16V211.45M395.36,203.16h2.4M395.36,211.45h2.4" stroke="#333" stroke-width="0.6" fill="none"/>
<path d="M407.22,203.57V211.87M406.02,203.57h2.4M406.02,211.87h2.4" stroke="#333" stroke-width="0.6" fill="none"/>
<path d="M321.92,225.76V231.99M320.72,225.76h2.4M320.72,231.99h2.4" stroke="#333" stroke-width="0.6" fill="none"/>
<path d="M332.58,220.79V229.08M331.38,220.79h2.4M331.38,229.08h2.4" stroke="#333" stroke-width="0.6" fill="none"/>
<path d="M343.24,214.36V222.65M342.04,214.36h2.4M342.04,222.65h2.4" stroke="#333" stroke-width="0.6" fill="none"/>
<path d="M353.91,210.83V219.13M352.71,210.83h2.4M352.71,219.13h2.4" stroke="#333" stroke-width="0.6" fill="none"/>
<path d="M364.57,205.65V216.02M363.37,205.65h2.4M363.37,216.02h2.4" stroke="#333" stroke-width="0.6" fill="none"/>
<path d="M375.23,203.78V210.00M374.03,203.78h2.4M374.03,210.00h2.4" stroke="#333" stroke-width="0.6" fill="none"/>
<path d="M385.90,199.63V207.93M384.70,199.63h2.4M384.70,207.93h2.4" stroke="#333" stroke-width="0.6" fill="none"/>
<path d="M396.56,194.65V202.95M395.36,194.65h2.4M395.36,202.95h2.4" stroke="#333" stroke-width="0.6" fill="none"/>
<path d="M407.22,191.13V197.35M406.02,191.13h2.4M406.02,197.35h2.4" stroke="#333" stroke-width="0.6" fill="none"/>
<path d="M300.59,275.54V285.91M299.39,275.54h2.4M299.39,285.91h2.4" stroke="#333" stroke-width="0.6" fill="none"/>
<path d="M311.25,237.48V247.85M310.05,237.48h2.4M310.05,247.85h2.4" stroke="#333" stroke-width="0.6" fill="none"/>
<path d="M321.92,215.39V225.76M320.72,215.39h2.4M320.72,225.76h2.4" stroke="#333" stroke-width="0.6" fill="none"/>
<path d="M332.58,206.58V216.95M331.38,206.58h2.4M331.38,216.95h2.4" stroke="#333" stroke-width="0.6" fill="none"/>
<path d="M343.24,201.91V212.28M342.04,201.91h2.4M342.04,212.28h2.4" stroke="#333" stroke-width="0.6" fill="none"/>
<path d="M353.91,205.02V215.40M352.71,205.02h2.4M352.71,215.40h2.4" stroke="#333" stroke-width="0.6" fill="none"/>
<path d="M364.57,190.30V202.74M363.37,190.30h2.4M363.37,202.74h2.4" stroke="#333" stroke-width="0.6" fill="none"/>
<path d="M375.23,190.51V198.80M374.03,190.51h2.4M374.03,198.80h2.4" stroke="#333" stroke-width="0.6" fill="none"/>
<path d="M385.90,188.02V196.31M384.70,188.02h2.4M384.70,196.31h2.4" stroke="#333" stroke-width="0.6" fill="none"/>
<path d="M396.56,187.71V193.93M395.36,187.71h2.4M395.36,193.93h2.4" stroke="#333" stroke-width="0.6" fill="none"/>
<path d="M407.22,185.84V192.06M406.02,185.84h2.4M406.02,192.06h2.4" stroke="#333" stroke-width="0.6" fill="none"/>
<path d="M300.59,272.43V289.02M299.39,272.43h2.4M299.39,289.02h2.4" stroke="#333" stroke-width="0.6" fill="none"/>
<path d="M321.92,186.67V194.97M320.72,186.67h2.4M320.72,194.97h2.4" stroke="#333" stroke-width="0.6" fill="none"/>
<path d="M332.58,180.14V190.51M331.38,180.14h2.4M331.38,190.51h2.4" stroke="#333" stroke-width="0.6" fill="none"/>
<circle cx="300.59" cy="281.76" r="2.3" fill="#e85f5f" stroke="#333" stroke-width="0.6"/>
<circle cx="311.25" cy="253.76" r="2.3" fill="#e85f5f" stroke="#333" stroke-width="0.6"/>
<circle cx="321.92" cy="239.87" r="2.3" fill="#e85f5f" stroke="#333" stroke-width="0.6"/>
<circle cx="332.58" cy="236.45" r="2.3" fill="#e85f5f" stroke="#333" stroke-width="0.6"/>
<circle cx="343.24" cy="231.16" r="2.3" fill="#e85f5f" stroke="#333" stroke-width="0.6"/>
<circle cx="353.91" cy="229.39" r="2.3" fill="#e85f5f" stroke="#333" stroke-width="0.6"/>
<circle cx="364.57" cy="226.59" r="2.3" fill="#e85f5f" stroke="#333" stroke-width="0.6"/>
<circle cx="375.23" cy="223.17" r="2.3" fill="#e85f5f" stroke="#333" stroke-width="0.6"/>
<circle cx="385.90" cy="223.17" r="2.3" fill="#e85f5f" stroke="#333" stroke-width="0.6"/>
<circle cx="396.56" cy="222.34" r="2.3" fill="#e85f5f" stroke="#333" stroke-width="0.6"/>
<circle cx="407.22" cy="221.82" r="2.3" fill="#e85f5f" stroke="#333" stroke-width="0.6"/>
<circle cx="417.89" cy="274.50" r="2.3" fill="#e85f5f" stroke="#333" stroke-width="0.6"/>
<circle cx="428.55" cy="281.76" r="2.3" fill="#e85f5f" stroke="#333" stroke-width="0.6"/>
<circle cx="300.59" cy="281.76" r="2.3" fill="#f09090" stroke="#333" stroke-width="0.6"/>
<circle cx="311.25" cy="248.58" r="2.3" fill="#f09090" stroke="#333" stroke-width="0.6"/>
<circle cx="321.92" cy="230.54" r="2.3" fill="#f09090" stroke="#333" stroke-width="0.6"/>
<circle cx="332.58" cy="227.84" r="2.3" fill="#f09090" stroke="#333" stroke-width="0.6"/>
<circle cx="343.24" cy="222.34" r="2.3" fill="#f09090" stroke="#333" stroke-width="0.6"/>
<circle cx="353.91" cy="220.89" r="2.3" fill="#f09090" stroke="#333" stroke-width="0.6"/>
<circle cx="364.57" cy="216.43" r="2.3" fill="#f09090" stroke="#333" stroke-width="0.6"/>
<circle cx="375.23" cy="213.63" r="2.3" fill="#f09090" stroke="#333" stroke-width="0.6"/>
<circle cx="385.90" cy="210.52" r="2.3" fill="#f09090" stroke="#333" stroke-width="0.6"/>
<circle cx="396.56" cy="207.31" r="2.3" fill="#f09090" stroke="#333" stroke-width="0.6"/>
<circle cx="407.22" cy="207.72" r="2.3" fill="#f09090" stroke="#333" stroke-width="0.6"/>
<circle cx="417.89" cy="273.47" r="2.3" fill="#f09090" stroke="#333" stroke-width="0.6"/>
<circle cx="428.55" cy="281.76" r="2.3" fill="#f09090" stroke="#333" stroke-width="0.6"/>
<circle cx="300.59" cy="281.76" r="2.3" fill="#f7c2aa" stroke="#333" stroke-width="0.6"/>
<circle cx="311.25" cy="245.47" r="2.3" fill="#f7c2aa" stroke="#333" stroke-width="0.6"/>
<circle cx="321.92" cy="228.88" r="2.3" fill="#f7c2aa" stroke="#333" stroke-width="0.6"/>
<circle cx="332.58" cy="224.94" r="2.3" fill="#f7c2aa" stroke="#333" stroke-width="0.6"/>
<circle cx="343.24" cy="218.51" r="2.3" fill="#f7c2aa" stroke="#333" stroke-width="0.6"/>
<circle cx="353.91" cy="214.98" r="2.3" fill="#f7c2aa" stroke="#333" stroke-width="0.6"/>
<circle cx="364.57" cy="210.83" r="2.3" fill="#f7c2aa" stroke="#333" stroke-width="0.6"/>
<circle cx="375.23" cy="206.89" r="2.3" fill="#f7c2aa" stroke="#333" stroke-width="0.6"/>
<circle cx="385.90" cy="203.78" r="2.3" fill="#f7c2aa" stroke="#333" stroke-width="0.6"/>
<circle cx="396.56" cy="198.80" r="2.3" fill="#f7c2aa" stroke="#333" stroke-width="0.6"/>
<circle cx="407.22" cy="194.24" r="2.3" fill="#f7c2aa" stroke="#333" stroke-width="0.6"/>
<circle cx="417.89" cy="272.43" r="2.3" fill="#f7c2aa" stroke="#333" stroke-width="0.6"/>
<circle cx="428.55" cy="281.76" r="2.3" fill="#f7c2aa" stroke="#333" stroke-width="0.6"/>
<circle cx="300.59" cy="280.73" r="2.3" fill="#fdeeea" stroke="#333" stroke-width="0.6"/>
<circle cx="311.25" cy="242.67" r="2.3" fill="#fdeeea" stroke="#333" stroke-width="0.6"/>
<circle cx="321.92" cy="220.58" r="2.3" fill="#fdeeea" stroke="#333" stroke-width="0.6"/>
<circle cx="332.58" cy="211.77" r="2.3" fill="#fdeeea" stroke="#333" stroke-width="0.6"/>
<circle cx="343.24" cy="207.10" r="2.3" fill="#fdeeea" stroke="#333" stroke-width="0.6"/>
<circle cx="353.91" cy="210.21" r="2.3" fill="#fdeeea" stroke="#333" stroke-width="0.6"/>
<circle cx="364.57" cy="196.52" r="2.3" fill="#fdeeea" stroke="#333" stroke-width="0.6"/>
<circle cx="375.23" cy="194.66" r="2.3" fill="#fdeeea" stroke="#333" stroke-width="0.6"/>
<circle cx="385.90" cy="192.17" r="2.3" fill="#fdeeea" stroke="#333" stroke-width="0.6"/>
<circle cx="396.56" cy="190.82" r="2.3" fill="#fdeeea" stroke="#333" stroke-width="0.6"/>
<circle cx="407.22" cy="188.95" r="2.3" fill="#fdeeea" stroke="#333" stroke-width="0.6"/>
<circle cx="417.89" cy="270.36" r="2.3" fill="#fdeeea" stroke="#333" stroke-width="0.6"/>
<circle cx="428.55" cy="280.73" r="2.3" fill="#fdeeea" stroke="#333" stroke-width="0.6"/>
<circle cx="300.59" cy="280.73" r="2.3" fill="#ffffff" stroke="#333" stroke-width="0.6"/>
<circle cx="311.25" cy="232.61" r="2.3" fill="#ffffff" stroke="#333" stroke-width="0.6"/>
<circle cx="321.92" cy="190.82" r="2.3" fill="#ffffff" stroke="#333" stroke-width="0.6"/>
<circle cx="332.58" cy="185.32" r="2.3" fill="#ffffff" stroke="#333" stroke-width="0.6"/>
<circle cx="343.24" cy="185.32" r="2.3" fill="#ffffff" stroke="#333" stroke-width="0.6"/>
<circle cx="353.91" cy="182.73" r="2.3" fill="#ffffff" stroke="#333" stroke-width="0.6"/>
<circle cx="364.57" cy="183.46" r="2.3" fill="#ffffff" stroke="#333" stroke-width="0.6"/>
<circle cx="375.23" cy="184.80" r="2.3" fill="#ffffff" stroke="#333" stroke-width="0.6"/>
<circle cx="385.90" cy="184.80" r="2.3" fill="#ffffff" stroke="#333" stroke-width="0.6"/>
<circle cx="396.56" cy="184.28" r="2.3" fill="#ffffff" stroke="#333" stroke-width="0.6"/>
<circle cx="407.22" cy="183.25" r="2.3" fill="#ffffff" stroke="#333" stroke-width="0.6"/>
<circle cx="417.89" cy="267.25" r="2.3" fill="#ffffff" stroke="#333" stroke-width="0.6"/>
<circle cx="428.55" cy="279.69" r="2.3" fill="#ffffff" stroke="#333" stroke-width="0.6"/>
<rect x="298.29" y="277.39" width="4.6" height="4.6" fill="#555555" stroke="#333" stroke-width="0.65"/>
<rect x="308.95" y="196.50" width="4.6" height="4.6" fill="#555555" stroke="#333" stroke-width="0.65"/>
<rect x="319.62" y="179.60" width="4.6" height="4.6" fill="#555555" stroke="#333" stroke-width="0.65"/>
<rect x="330.28" y="179.08" width="4.6" height="4.6" fill="#555555" stroke="#333" stroke-width="0.65"/>
<rect x="340.94" y="178.56" width="4.6" height="4.6" fill="#555555" stroke="#333" stroke-width="0.65"/>
<rect x="351.61" y="178.04" width="4.6" height="4.6" fill="#555555" stroke="#333" stroke-width="0.65"/>
<rect x="362.27" y="177.01" width="4.6" height="4.6" fill="#555555" stroke="#333" stroke-width="0.65"/>
<rect x="372.93" y="177.01" width="4.6" height="4.6" fill="#555555" stroke="#333" stroke-width="0.65"/>
<rect x="383.60" y="178.04" width="4.6" height="4.6" fill="#555555" stroke="#333" stroke-width="0.65"/>
<rect x="394.26" y="177.53" width="4.6" height="4.6" fill="#555555" stroke="#333" stroke-width="0.65"/>
<rect x="404.92" y="177.53" width="4.6" height="4.6" fill="#555555" stroke="#333" stroke-width="0.65"/>
<rect x="415.59" y="262.87" width="4.6" height="4.6" fill="#555555" stroke="#333" stroke-width="0.65"/>
<rect x="426.25" y="276.35" width="4.6" height="4.6" fill="#555555" stroke="#333" stroke-width="0.65"/>
<rect x="298.29" y="277.39" width="4.6" height="4.6" fill="#808080" stroke="#333" stroke-width="0.65"/>
<rect x="308.95" y="204.80" width="4.6" height="4.6" fill="#808080" stroke="#333" stroke-width="0.65"/>
<rect x="319.62" y="180.12" width="4.6" height="4.6" fill="#808080" stroke="#333" stroke-width="0.65"/>
<rect x="330.28" y="179.60" width="4.6" height="4.6" fill="#808080" stroke="#333" stroke-width="0.65"/>
<rect x="340.94" y="178.87" width="4.6" height="4.6" fill="#808080" stroke="#333" stroke-width="0.65"/>
<rect x="351.61" y="178.56" width="4.6" height="4.6" fill="#808080" stroke="#333" stroke-width="0.65"/>
<rect x="362.27" y="177.53" width="4.6" height="4.6" fill="#808080" stroke="#333" stroke-width="0.65"/>
<rect x="372.93" y="177.53" width="4.6" height="4.6" fill="#808080" stroke="#333" stroke-width="0.65"/>
<rect x="383.60" y="178.56" width="4.6" height="4.6" fill="#808080" stroke="#333" stroke-width="0.65"/>
<rect x="394.26" y="178.04" width="4.6" height="4.6" fill="#808080" stroke="#333" stroke-width="0.65"/>
<rect x="404.92" y="178.04" width="4.6" height="4.6" fill="#808080" stroke="#333" stroke-width="0.65"/>
<rect x="415.59" y="265.98" width="4.6" height="4.6" fill="#808080" stroke="#333" stroke-width="0.65"/>
<rect x="426.25" y="276.87" width="4.6" height="4.6" fill="#808080" stroke="#333" stroke-width="0.65"/>
<rect x="298.29" y="277.91" width="4.6" height="4.6" fill="#ababab" stroke="#333" stroke-width="0.65"/>
<rect x="308.95" y="188.52" width="4.6" height="4.6" fill="#ababab" stroke="#333" stroke-width="0.65"/>
<rect x="319.62" y="180.64" width="4.6" height="4.6" fill="#ababab" stroke="#333" stroke-width="0.65"/>
<rect x="330.28" y="180.12" width="4.6" height="4.6" fill="#ababab" stroke="#333" stroke-width="0.65"/>
<rect x="340.94" y="179.60" width="4.6" height="4.6" fill="#ababab" stroke="#333" stroke-width="0.65"/>
<rect x="351.61" y="179.08" width="4.6" height="4.6" fill="#ababab" stroke="#333" stroke-width="0.65"/>
<rect x="362.27" y="178.56" width="4.6" height="4.6" fill="#ababab" stroke="#333" stroke-width="0.65"/>
<rect x="372.93" y="178.56" width="4.6" height="4.6" fill="#ababab" stroke="#333" stroke-width="0.65"/>
<rect x="383.60" y="179.08" width="4.6" height="4.6" fill="#ababab" stroke="#333" stroke-width="0.65"/>
<rect x="394.26" y="178.56" width="4.6" height="4.6" fill="#ababab" stroke="#333" stroke-width="0.65"/>
<rect x="404.92" y="178.56" width="4.6" height="4.6" fill="#ababab" stroke="#333" stroke-width="0.65"/>
<rect x="415.59" y="268.06" width="4.6" height="4.6" fill="#ababab" stroke="#333" stroke-width="0.65"/>
<rect x="426.25" y="277.39" width="4.6" height="4.6" fill="#ababab" stroke="#333" stroke-width="0.65"/>
<rect x="298.29" y="278.43" width="4.6" height="4.6" fill="#f4f4f4" stroke="#333" stroke-width="0.65"/>
<rect x="308.95" y="202.72" width="4.6" height="4.6" fill="#f4f4f4" stroke="#333" stroke-width="0.65"/>
<rect x="319.62" y="183.23" width="4.6" height="4.6" fill="#f4f4f4" stroke="#333" stroke-width="0.65"/>
<rect x="330.28" y="180.64" width="4.6" height="4.6" fill="#f4f4f4" stroke="#333" stroke-width="0.65"/>
<rect x="340.94" y="180.12" width="4.6" height="4.6" fill="#f4f4f4" stroke="#333" stroke-width="0.65"/>
<rect x="351.61" y="199.82" width="4.6" height="4.6" fill="#f4f4f4" stroke="#333" stroke-width="0.65"/>
<rect x="362.27" y="179.60" width="4.6" height="4.6" fill="#f4f4f4" stroke="#333" stroke-width="0.65"/>
<rect x="372.93" y="179.08" width="4.6" height="4.6" fill="#f4f4f4" stroke="#333" stroke-width="0.65"/>
<rect x="383.60" y="179.60" width="4.6" height="4.6" fill="#f4f4f4" stroke="#333" stroke-width="0.65"/>
<rect x="394.26" y="179.08" width="4.6" height="4.6" fill="#f4f4f4" stroke="#333" stroke-width="0.65"/>
<rect x="404.92" y="179.08" width="4.6" height="4.6" fill="#f4f4f4" stroke="#333" stroke-width="0.65"/>
<rect x="415.59" y="270.13" width="4.6" height="4.6" fill="#f4f4f4" stroke="#333" stroke-width="0.65"/>
<rect x="426.25" y="277.91" width="4.6" height="4.6" fill="#f4f4f4" stroke="#333" stroke-width="0.65"/>
<rect x="298.29" y="278.43" width="4.6" height="4.6" fill="#ffffff" stroke="#333" stroke-width="0.65"/>
<rect x="308.95" y="209.47" width="4.6" height="4.6" fill="#ffffff" stroke="#333" stroke-width="0.65"/>
<rect x="319.62" y="183.23" width="4.6" height="4.6" fill="#ffffff" stroke="#333" stroke-width="0.65"/>
<rect x="330.28" y="181.16" width="4.6" height="4.6" fill="#ffffff" stroke="#333" stroke-width="0.65"/>
<rect x="340.94" y="180.64" width="4.6" height="4.6" fill="#ffffff" stroke="#333" stroke-width="0.65"/>
<rect x="351.61" y="179.60" width="4.6" height="4.6" fill="#ffffff" stroke="#333" stroke-width="0.65"/>
<rect x="362.27" y="180.12" width="4.6" height="4.6" fill="#ffffff" stroke="#333" stroke-width="0.65"/>
<rect x="372.93" y="180.12" width="4.6" height="4.6" fill="#ffffff" stroke="#333" stroke-width="0.65"/>
<rect x="383.60" y="180.12" width="4.6" height="4.6" fill="#ffffff" stroke="#333" stroke-width="0.65"/>
<rect x="394.26" y="179.60" width="4.6" height="4.6" fill="#ffffff" stroke="#333" stroke-width="0.65"/>
<rect x="404.92" y="179.60" width="4.6" height="4.6" fill="#ffffff" stroke="#333" stroke-width="0.65"/>
<rect x="415.59" y="271.17" width="4.6" height="4.6" fill="#ffffff" stroke="#333" stroke-width="0.65"/>
<rect x="426.25" y="278.43" width="4.6" height="4.6" fill="#ffffff" stroke="#333" stroke-width="0.65"/>
</g>
<rect x="295.5" y="173.0" width="138.7" height="111.5" fill="none" stroke="#222" stroke-width="1"/>
<line x1="295.5" y1="282.80" x2="298.5" y2="282.80" stroke="#222" stroke-width="0.8"/>
<text x="291.60" y="286.40" font-size="10" font-weight="bold" text-anchor="end" fill="#111" >0.0</text>
<line x1="295.5" y1="272.43" x2="297.5" y2="272.43" stroke="#222" stroke-width="0.8"/>
<line x1="295.5" y1="262.06" x2="298.5" y2="262.06" stroke="#222" stroke-width="0.8"/>
<text x="291.60" y="265.66" font-size="10" font-weight="bold" text-anchor="end" fill="#111" >0.2</text>
<line x1="295.5" y1="251.69" x2="297.5" y2="251.69" stroke="#222" stroke-width="0.8"/>
<line x1="295.5" y1="241.32" x2="298.5" y2="241.32" stroke="#222" stroke-width="0.8"/>
<text x="291.60" y="244.92" font-size="10" font-weight="bold" text-anchor="end" fill="#111" >0.4</text>
<line x1="295.5" y1="230.95" x2="297.5" y2="230.95" stroke="#222" stroke-width="0.8"/>
<line x1="295.5" y1="220.58" x2="298.5" y2="220.58" stroke="#222" stroke-width="0.8"/>
<text x="291.60" y="224.18" font-size="10" font-weight="bold" text-anchor="end" fill="#111" >0.6</text>
<line x1="295.5" y1="210.21" x2="297.5" y2="210.21" stroke="#222" stroke-width="0.8"/>
<line x1="295.5" y1="199.84" x2="298.5" y2="199.84" stroke="#222" stroke-width="0.8"/>
<text x="291.60" y="203.44" font-size="10" font-weight="bold" text-anchor="end" fill="#111" >0.8</text>
<line x1="295.5" y1="189.47" x2="297.5" y2="189.47" stroke="#222" stroke-width="0.8"/>
<line x1="295.5" y1="179.10" x2="298.5" y2="179.10" stroke="#222" stroke-width="0.8"/>
<text x="291.60" y="182.70" font-size="10" font-weight="bold" text-anchor="end" fill="#111" >1.0</text>
<line x1="295.50" y1="284.5" x2="295.50" y2="281.5" stroke="#222" stroke-width="0.8"/>
<text x="295.50" y="296.70" font-size="10" font-weight="bold" text-anchor="middle" fill="#111" >0</text>
<line x1="311.40" y1="284.5" x2="311.40" y2="282.5" stroke="#222" stroke-width="0.8"/>
<line x1="327.30" y1="284.5" x2="327.30" y2="281.5" stroke="#222" stroke-width="0.8"/>
<text x="327.30" y="296.70" font-size="10" font-weight="bold" text-anchor="middle" fill="#111" >3</text>
<line x1="343.20" y1="284.5" x2="343.20" y2="282.5" stroke="#222" stroke-width="0.8"/>
<line x1="359.10" y1="284.5" x2="359.10" y2="281.5" stroke="#222" stroke-width="0.8"/>
<text x="359.10" y="296.70" font-size="10" font-weight="bold" text-anchor="middle" fill="#111" >6</text>
<line x1="375.00" y1="284.5" x2="375.00" y2="282.5" stroke="#222" stroke-width="0.8"/>
<line x1="390.90" y1="284.5" x2="390.90" y2="281.5" stroke="#222" stroke-width="0.8"/>
<text x="390.90" y="296.70" font-size="10" font-weight="bold" text-anchor="middle" fill="#111" >9</text>
<line x1="406.80" y1="284.5" x2="406.80" y2="282.5" stroke="#222" stroke-width="0.8"/>
<line x1="422.70" y1="284.5" x2="422.70" y2="281.5" stroke="#222" stroke-width="0.8"/>
<text x="422.70" y="296.70" font-size="10" font-weight="bold" text-anchor="middle" fill="#111" >12</text>
<text x="364.50" y="308.50" font-size="10" font-weight="bold" text-anchor="middle" fill="#111" >Pore Volume</text>
<text transform="translate(272.5,229.2) rotate(-90)" font-size="9.3" font-weight="bold" font-style="italic" text-anchor="middle" fill="#111">C/C<tspan font-size="6.2" dy="0.2">0</tspan></text>
<text x="364.70" y="278.00" font-size="10" font-weight="bold" text-anchor="middle" fill="#111" >2.0 m/d</text>
<linearGradient id="g1d" x1="0" y1="0" x2="0" y2="1"><stop offset="0" stop-color="#e4e2e2"/><stop offset="1" stop-color="#4f4f4f"/></linearGradient>
<linearGradient id="g2d" x1="0" y1="0" x2="0" y2="1"><stop offset="0" stop-color="#fff3f3"/><stop offset="1" stop-color="#e85f62"/></linearGradient>
<rect x="437" y="173.0" width="12.2" height="52.3" fill="url(#g1d)" stroke="#222" stroke-width="0.8"/>
<rect x="437" y="232.6" width="12.2" height="52.3" fill="url(#g2d)" stroke="#222" stroke-width="0.8"/>
<text transform="translate(446.6,199.1) rotate(-90)" font-size="8.5" font-weight="bold" text-anchor="middle" fill="#111">PVA-fCB</text>
<text transform="translate(446.6,258.7) rotate(-90)" font-size="8.6" font-weight="bold" text-anchor="middle" fill="#111">NR</text>
<text transform="translate(456.9,172.8) rotate(-90)" font-size="8.5" font-weight="bold" text-anchor="end" fill="#111">0.0</text>
<text transform="translate(456.9,224.1) rotate(-90)" font-size="8.5" font-weight="bold" text-anchor="start" fill="#111">6.3</text>
<text transform="translate(456.9,232.1) rotate(-90)" font-size="8.5" font-weight="bold" text-anchor="end" fill="#111">0.0</text>
<text transform="translate(456.9,283.8) rotate(-90)" font-size="8.5" font-weight="bold" text-anchor="start" fill="#111">6.3</text>
<text transform="translate(468.3,225.1) rotate(-90)" font-size="9.7" font-weight="bold" text-anchor="middle" fill="#111">FPOC <tspan font-style="italic">S</tspan><tspan font-size="6.5">n</tspan> (%)</text>
<text x="480.30" y="167.60" font-size="14" font-weight="bold" text-anchor="start" fill="#111" >e</text>
<clipPath id="clipe"><rect x="510.5" y="173.0" width="138.7" height="111.5"/></clipPath>
<g clip-path="url(#clipe)">
<path d="M510.50,282.80 L511.03,282.80 L511.56,282.80 L512.09,282.80 L512.62,282.80 L513.15,282.80 L513.68,282.80 L514.21,282.80 L514.74,282.79 L515.27,282.79 L515.80,282.76 L516.33,282.72 L516.86,282.62 L517.39,282.43 L517.92,282.07 L518.45,281.44 L518.98,280.37 L519.51,278.66 L520.04,276.09 L520.57,272.44 L521.10,267.51 L521.63,261.22 L522.16,253.64 L522.69,244.97 L523.22,235.61 L523.75,226.04 L524.28,216.78 L524.81,208.31 L525.34,200.97 L525.87,194.96 L526.40,190.29 L526.93,186.87 L527.46,184.50 L527.99,182.94 L528.52,181.97 L529.05,181.40 L529.58,181.08 L530.11,180.91 L530.64,180.83 L531.17,180.79 L531.70,180.77 L532.23,180.76 L532.76,180.76 L533.29,180.76 L533.82,180.76 L534.35,180.76 L534.88,180.76 L535.41,180.76 L535.94,180.76 L536.47,180.76 L537.00,180.76 L537.53,180.76 L538.06,180.76 L538.59,180.76 L539.12,180.76 L539.65,180.76 L540.18,180.76 L540.71,180.76 L541.24,180.76 L541.77,180.76 L542.30,180.76 L542.83,180.76 L543.36,180.76 L543.89,180.76 L544.42,180.76 L544.95,180.76 L545.48,180.76 L546.01,180.76 L546.54,180.76 L547.07,180.76 L547.60,180.76 L548.13,180.76 L548.66,180.76 L549.19,180.76 L549.72,180.76 L550.25,180.76 L550.78,180.76 L551.31,180.76 L551.84,180.76 L552.37,180.76 L552.90,180.76 L553.43,180.76 L553.96,180.76 L554.49,180.76 L555.02,180.76 L555.55,180.76 L556.08,180.76 L556.61,180.76 L557.14,180.76 L557.67,180.76 L558.20,180.76 L558.73,180.76 L559.26,180.76 L559.79,180.76 L560.32,180.76 L560.85,180.76 L561.38,180.76 L561.91,180.76 L562.44,180.76 L562.97,180.76 L563.50,180.76 L564.03,180.76 L564.56,180.76 L565.09,180.76 L565.62,180.76 L566.15,180.76 L566.68,180.76 L567.21,180.76 L567.74,180.76 L568.27,180.76 L568.80,180.76 L569.33,180.76 L569.86,180.76 L570.39,180.76 L570.92,180.76 L571.45,180.76 L571.98,180.76 L572.51,180.76 L573.04,180.76 L573.57,180.76 L574.10,180.76 L574.63,180.76 L575.16,180.76 L575.69,180.76 L576.22,180.76 L576.75,180.76 L577.28,180.76 L577.81,180.76 L578.34,180.76 L578.87,180.76 L579.40,180.76 L579.93,180.76 L580.46,180.76 L580.99,180.76 L581.52,180.76 L582.05,180.76 L582.58,180.76 L583.11,180.76 L583.64,180.76 L584.17,180.76 L584.70,180.76 L585.23,180.76 L585.76,180.76 L586.29,180.76 L586.82,180.76 L587.35,180.76 L587.88,180.76 L588.41,180.76 L588.94,180.76 L589.47,180.76 L590.00,180.76 L590.53,180.76 L591.06,180.76 L591.59,180.76 L592.12,180.76 L592.65,180.76 L593.18,180.76 L593.71,180.76 L594.24,180.76 L594.77,180.76 L595.30,180.76 L595.83,180.76 L596.36,180.76 L596.89,180.76 L597.42,180.76 L597.95,180.76 L598.48,180.76 L599.01,180.76 L599.54,180.76 L600.07,180.76 L600.60,180.76 L601.13,180.76 L601.66,180.76 L602.19,180.76 L602.72,180.76 L603.25,180.76 L603.78,180.76 L604.31,180.76 L604.84,180.76 L605.37,180.76 L605.90,180.76 L606.43,180.76 L606.96,180.76 L607.49,180.76 L608.02,180.76 L608.55,180.76 L609.08,180.76 L609.61,180.76 L610.14,180.76 L610.67,180.76 L611.20,180.76 L611.73,180.76 L612.26,180.76 L612.79,180.76 L613.32,180.76 L613.85,180.76 L614.38,180.76 L614.91,180.76 L615.44,180.76 L615.97,180.76 L616.50,180.76 L617.03,180.76 L617.56,180.76 L618.09,180.76 L618.62,180.76 L619.15,180.76 L619.68,180.76 L620.21,180.76 L620.74,180.76 L621.27,180.77 L621.80,180.78 L622.33,180.81 L622.86,180.86 L623.39,180.97 L623.92,181.17 L624.45,181.53 L624.98,182.14 L625.51,183.14 L626.04,184.69 L626.57,186.98 L627.10,190.19 L627.63,194.50 L628.16,199.98 L628.69,206.65 L629.22,214.36 L629.75,222.86 L630.28,231.78 L630.81,240.70 L631.34,249.20 L631.87,256.91 L632.40,263.58 L632.93,269.06 L633.46,273.37 L633.99,276.58 L634.52,278.87 L635.05,280.42 L635.58,281.42 L636.11,282.03 L636.64,282.39 L637.17,282.59 L637.70,282.70 L638.23,282.75 L638.76,282.78 L639.29,282.79 L639.82,282.80 L640.35,282.80 L640.88,282.80 L641.41,282.80 L641.94,282.80 L642.47,282.80 L643.00,282.80 L643.53,282.80 L644.06,282.80 L644.59,282.80 L645.12,282.80 L645.65,282.80 L646.18,282.80 L646.71,282.80 L647.24,282.80 L647.77,282.80 L648.30,282.80" fill="none" stroke="#999999" stroke-width="1.15"/>
<path d="M510.50,282.80 L511.03,282.80 L511.56,282.80 L512.09,282.80 L512.62,282.80 L513.15,282.80 L513.68,282.80 L514.21,282.79 L514.74,282.78 L515.27,282.76 L515.80,282.72 L516.33,282.64 L516.86,282.50 L517.39,282.24 L517.92,281.82 L518.45,281.17 L518.98,280.20 L519.51,278.86 L520.04,277.09 L520.57,274.88 L521.10,272.28 L521.63,269.00 L522.16,265.40 L522.69,261.64 L523.22,257.91 L523.75,254.38 L524.28,251.19 L524.81,248.41 L525.34,246.07 L525.87,244.13 L526.40,242.55 L526.93,241.25 L527.46,240.15 L527.99,239.19 L528.52,238.32 L529.05,237.52 L529.58,236.75 L530.11,236.00 L530.64,235.27 L531.17,234.56 L531.70,233.85 L532.23,233.15 L532.76,232.47 L533.29,231.79 L533.82,231.11 L534.35,230.45 L534.88,229.80 L535.41,229.15 L535.94,228.51 L536.47,227.88 L537.00,227.26 L537.53,226.64 L538.06,226.04 L538.59,225.44 L539.12,224.84 L539.65,224.26 L540.18,223.68 L540.71,223.11 L541.24,222.55 L541.77,221.99 L542.30,221.44 L542.83,220.90 L543.36,220.36 L543.89,219.83 L544.42,219.31 L544.95,218.79 L545.48,218.28 L546.01,217.78 L546.54,217.28 L547.07,216.79 L547.60,216.31 L548.13,215.83 L548.66,215.36 L549.19,214.89 L549.72,214.43 L550.25,213.97 L550.78,213.52 L551.31,213.08 L551.84,212.64 L552.37,212.20 L552.90,211.78 L553.43,211.35 L553.96,210.94 L554.49,210.52 L555.02,210.12 L555.55,209.72 L556.08,209.32 L556.61,208.93 L557.14,208.54 L557.67,208.16 L558.20,207.78 L558.73,207.41 L559.26,207.04 L559.79,206.67 L560.32,206.31 L560.85,205.96 L561.38,205.61 L561.91,205.26 L562.44,204.92 L562.97,204.58 L563.50,204.25 L564.03,203.92 L564.56,203.60 L565.09,203.27 L565.62,202.96 L566.15,202.64 L566.68,202.34 L567.21,202.03 L567.74,201.73 L568.27,201.43 L568.80,201.14 L569.33,200.85 L569.86,200.56 L570.39,200.28 L570.92,200.00 L571.45,199.72 L571.98,199.45 L572.51,199.18 L573.04,198.91 L573.57,198.65 L574.10,198.39 L574.63,198.13 L575.16,197.88 L575.69,197.63 L576.22,197.38 L576.75,197.14 L577.28,196.90 L577.81,196.66 L578.34,196.42 L578.87,196.19 L579.40,195.96 L579.93,195.74 L580.46,195.51 L580.99,195.29 L581.52,195.08 L582.05,194.86 L582.58,194.65 L583.11,194.44 L583.64,194.23 L584.17,194.03 L584.70,193.82 L585.23,193.62 L585.76,193.43 L586.29,193.23 L586.82,193.04 L587.35,192.85 L587.88,192.66 L588.41,192.48 L588.94,192.29 L589.47,192.11 L590.00,191.93 L590.53,191.76 L591.06,191.58 L591.59,191.41 L592.12,191.24 L592.65,191.08 L593.18,190.91 L593.71,190.75 L594.24,190.58 L594.77,190.43 L595.30,190.27 L595.83,190.11 L596.36,189.96 L596.89,189.81 L597.42,189.66 L597.95,189.51 L598.48,189.36 L599.01,189.22 L599.54,189.08 L600.07,188.94 L600.60,188.80 L601.13,188.66 L601.66,188.52 L602.19,188.39 L602.72,188.26 L603.25,188.13 L603.78,188.00 L604.31,187.87 L604.84,187.75 L605.37,187.62 L605.90,187.50 L606.43,187.38 L606.96,187.26 L607.49,187.14 L608.02,187.02 L608.55,186.91 L609.08,186.79 L609.61,186.68 L610.14,186.57 L610.67,186.46 L611.20,186.35 L611.73,186.25 L612.26,186.14 L612.79,186.04 L613.32,185.93 L613.85,185.83 L614.38,185.73 L614.91,185.63 L615.44,185.53 L615.97,185.44 L616.50,185.34 L617.03,185.25 L617.56,185.16 L618.09,185.06 L618.62,184.97 L619.15,184.88 L619.68,184.79 L620.21,184.71 L620.74,184.62 L621.27,184.54 L621.80,184.47 L622.33,184.41 L622.86,184.38 L623.39,184.40 L623.92,184.52 L624.45,184.79 L624.98,185.31 L625.51,186.20 L626.04,187.63 L626.57,189.78 L627.10,192.83 L627.63,196.94 L628.16,202.22 L628.69,208.65 L629.22,216.11 L629.75,224.35 L630.28,233.02 L630.81,241.70 L631.34,249.97 L631.87,257.49 L632.40,263.99 L632.93,269.35 L633.46,273.56 L633.99,276.70 L634.52,278.94 L635.05,280.46 L635.58,281.44 L636.11,282.04 L636.64,282.40 L637.17,282.60 L637.70,282.70 L638.23,282.75 L638.76,282.78 L639.29,282.79 L639.82,282.80 L640.35,282.80 L640.88,282.80 L641.41,282.80 L641.94,282.80 L642.47,282.80 L643.00,282.80 L643.53,282.80 L644.06,282.80 L644.59,282.80 L645.12,282.80 L645.65,282.80 L646.18,282.80 L646.71,282.80 L647.24,282.80 L647.77,282.80 L648.30,282.80" fill="none" stroke="#cfe6e2" stroke-width="0.8"/>
<path d="M510.50,282.80 L511.03,282.80 L511.56,282.80 L512.09,282.80 L512.62,282.80 L513.15,282.80 L513.68,282.80 L514.21,282.79 L514.74,282.78 L515.27,282.76 L515.80,282.72 L516.33,282.64 L516.86,282.49 L517.39,282.23 L517.92,281.80 L518.45,281.12 L518.98,280.12 L519.51,278.71 L520.04,276.84 L520.57,274.48 L521.10,271.68 L521.63,268.52 L522.16,265.15 L522.69,261.74 L523.22,258.47 L523.75,255.50 L524.28,252.93 L524.81,250.82 L525.34,249.16 L525.87,247.90 L526.40,246.98 L526.93,246.31 L527.46,245.82 L527.99,245.46 L528.52,245.16 L529.05,244.92 L529.58,244.69 L530.11,244.48 L530.64,244.27 L531.17,244.07 L531.70,243.87 L532.23,243.66 L532.76,243.46 L533.29,243.26 L533.82,243.06 L534.35,242.86 L534.88,242.66 L535.41,242.45 L535.94,242.25 L536.47,242.05 L537.00,241.85 L537.53,241.65 L538.06,241.45 L538.59,241.24 L539.12,241.04 L539.65,240.84 L540.18,240.64 L540.71,240.44 L541.24,240.24 L541.77,240.03 L542.30,239.83 L542.83,239.63 L543.36,239.43 L543.89,239.23 L544.42,239.02 L544.95,238.82 L545.48,238.62 L546.01,238.42 L546.54,238.22 L547.07,238.02 L547.60,237.81 L548.13,237.61 L548.66,237.41 L549.19,237.21 L549.72,237.01 L550.25,236.81 L550.78,236.60 L551.31,236.40 L551.84,236.20 L552.37,236.00 L552.90,235.80 L553.43,235.60 L553.96,235.39 L554.49,235.19 L555.02,234.99 L555.55,234.79 L556.08,234.59 L556.61,234.39 L557.14,234.18 L557.67,233.98 L558.20,233.78 L558.73,233.58 L559.26,233.38 L559.79,233.18 L560.32,232.97 L560.85,232.77 L561.38,232.57 L561.91,232.37 L562.44,232.17 L562.97,231.97 L563.50,231.76 L564.03,231.56 L564.56,231.36 L565.09,231.16 L565.62,230.96 L566.15,230.76 L566.68,230.55 L567.21,230.35 L567.74,230.15 L568.27,229.95 L568.80,229.75 L569.33,229.54 L569.86,229.34 L570.39,229.14 L570.92,228.94 L571.45,228.74 L571.98,228.54 L572.51,228.33 L573.04,228.13 L573.57,227.93 L574.10,227.73 L574.63,227.53 L575.16,227.33 L575.69,227.12 L576.22,226.92 L576.75,226.72 L577.28,226.52 L577.81,226.32 L578.34,226.12 L578.87,225.91 L579.40,225.71 L579.93,225.51 L580.46,225.31 L580.99,225.11 L581.52,224.91 L582.05,224.70 L582.58,224.50 L583.11,224.30 L583.64,224.10 L584.17,223.90 L584.70,223.70 L585.23,223.49 L585.76,223.29 L586.29,223.09 L586.82,222.89 L587.35,222.69 L587.88,222.49 L588.41,222.28 L588.94,222.08 L589.47,221.88 L590.00,221.68 L590.53,221.48 L591.06,221.28 L591.59,221.07 L592.12,220.87 L592.65,220.67 L593.18,220.47 L593.71,220.27 L594.24,220.06 L594.77,219.86 L595.30,219.66 L595.83,219.46 L596.36,219.26 L596.89,219.06 L597.42,218.85 L597.95,218.65 L598.48,218.45 L599.01,218.25 L599.54,218.05 L600.07,217.85 L600.60,217.64 L601.13,217.44 L601.66,217.24 L602.19,217.04 L602.72,216.84 L603.25,216.64 L603.78,216.43 L604.31,216.23 L604.84,216.03 L605.37,215.83 L605.90,215.63 L606.43,215.43 L606.96,215.22 L607.49,215.02 L608.02,214.82 L608.55,214.62 L609.08,214.42 L609.61,214.22 L610.14,214.01 L610.67,213.81 L611.20,213.61 L611.73,213.41 L612.26,213.21 L612.79,213.01 L613.32,212.80 L613.85,212.60 L614.38,212.40 L614.91,212.20 L615.44,212.00 L615.97,211.80 L616.50,211.59 L617.03,211.39 L617.56,211.19 L618.09,210.99 L618.62,210.79 L619.15,210.59 L619.68,210.38 L620.21,210.18 L620.74,209.98 L621.27,209.78 L621.80,209.59 L622.33,209.41 L622.86,209.25 L623.39,209.12 L623.92,209.07 L624.45,209.13 L624.98,209.38 L625.51,209.91 L626.04,210.85 L626.57,212.34 L627.10,214.52 L627.63,217.51 L628.16,221.41 L628.69,226.20 L629.22,231.79 L629.75,238.01 L630.28,244.57 L630.81,251.18 L631.34,257.49 L631.87,263.25 L632.40,268.25 L632.93,272.37 L633.46,275.62 L633.99,278.05 L634.52,279.79 L635.05,280.97 L635.58,281.74 L636.11,282.21 L636.64,282.48 L637.17,282.64 L637.70,282.72 L638.23,282.76 L638.76,282.78 L639.29,282.79 L639.82,282.80 L640.35,282.80 L640.88,282.80 L641.41,282.80 L641.94,282.80 L642.47,282.80 L643.00,282.80 L643.53,282.80 L644.06,282.80 L644.59,282.80 L645.12,282.80 L645.65,282.80 L646.18,282.80 L646.71,282.80 L647.24,282.80 L647.77,282.80 L648.30,282.80" fill="none" stroke="#7fbcb3" stroke-width="0.9"/>
<path d="M510.50,282.80 L511.03,282.80 L511.56,282.80 L512.09,282.80 L512.62,282.80 L513.15,282.80 L513.68,282.80 L514.21,282.79 L514.74,282.78 L515.27,282.76 L515.80,282.72 L516.33,282.64 L516.86,282.50 L517.39,282.24 L517.92,281.81 L518.45,281.14 L518.98,280.15 L519.51,278.77 L520.04,276.93 L520.57,274.62 L521.10,271.88 L521.63,268.80 L522.16,265.52 L522.69,262.21 L523.22,259.04 L523.75,256.17 L524.28,253.71 L524.81,251.69 L525.34,250.12 L525.87,248.94 L526.40,248.09 L526.93,247.48 L527.46,247.05 L527.99,246.74 L528.52,246.50 L529.05,246.31 L529.58,246.14 L530.11,245.97 L530.64,245.82 L531.17,245.67 L531.70,245.51 L532.23,245.36 L532.76,245.21 L533.29,245.06 L533.82,244.91 L534.35,244.76 L534.88,244.61 L535.41,244.46 L535.94,244.31 L536.47,244.15 L537.00,244.00 L537.53,243.85 L538.06,243.70 L538.59,243.55 L539.12,243.40 L539.65,243.25 L540.18,243.10 L540.71,242.95 L541.24,242.80 L541.77,242.64 L542.30,242.49 L542.83,242.34 L543.36,242.19 L543.89,242.04 L544.42,241.89 L544.95,241.74 L545.48,241.59 L546.01,241.44 L546.54,241.29 L547.07,241.13 L547.60,240.98 L548.13,240.83 L548.66,240.68 L549.19,240.53 L549.72,240.38 L550.25,240.23 L550.78,240.08 L551.31,239.93 L551.84,239.78 L552.37,239.62 L552.90,239.47 L553.43,239.32 L553.96,239.17 L554.49,239.02 L555.02,238.87 L555.55,238.72 L556.08,238.57 L556.61,238.42 L557.14,238.27 L557.67,238.11 L558.20,237.96 L558.73,237.81 L559.26,237.66 L559.79,237.51 L560.32,237.36 L560.85,237.21 L561.38,237.06 L561.91,236.91 L562.44,236.76 L562.97,236.61 L563.50,236.45 L564.03,236.30 L564.56,236.15 L565.09,236.00 L565.62,235.85 L566.15,235.70 L566.68,235.55 L567.21,235.40 L567.74,235.25 L568.27,235.10 L568.80,234.94 L569.33,234.79 L569.86,234.64 L570.39,234.49 L570.92,234.34 L571.45,234.19 L571.98,234.04 L572.51,233.89 L573.04,233.74 L573.57,233.59 L574.10,233.43 L574.63,233.28 L575.16,233.13 L575.69,232.98 L576.22,232.83 L576.75,232.68 L577.28,232.53 L577.81,232.38 L578.34,232.23 L578.87,232.08 L579.40,231.92 L579.93,231.77 L580.46,231.62 L580.99,231.47 L581.52,231.32 L582.05,231.17 L582.58,231.02 L583.11,230.87 L583.64,230.72 L584.17,230.57 L584.70,230.41 L585.23,230.26 L585.76,230.11 L586.29,229.96 L586.82,229.81 L587.35,229.66 L587.88,229.51 L588.41,229.36 L588.94,229.21 L589.47,229.06 L590.00,228.90 L590.53,228.75 L591.06,228.60 L591.59,228.45 L592.12,228.30 L592.65,228.15 L593.18,228.00 L593.71,227.85 L594.24,227.70 L594.77,227.55 L595.30,227.39 L595.83,227.24 L596.36,227.09 L596.89,226.94 L597.42,226.79 L597.95,226.64 L598.48,226.49 L599.01,226.34 L599.54,226.19 L600.07,226.04 L600.60,225.88 L601.13,225.73 L601.66,225.58 L602.19,225.43 L602.72,225.28 L603.25,225.13 L603.78,224.98 L604.31,224.83 L604.84,224.68 L605.37,224.53 L605.90,224.37 L606.43,224.22 L606.96,224.07 L607.49,223.92 L608.02,223.77 L608.55,223.62 L609.08,223.47 L609.61,223.32 L610.14,223.17 L610.67,223.02 L611.20,222.86 L611.73,222.71 L612.26,222.56 L612.79,222.41 L613.32,222.26 L613.85,222.11 L614.38,221.96 L614.91,221.81 L615.44,221.66 L615.97,221.51 L616.50,221.35 L617.03,221.20 L617.56,221.05 L618.09,220.90 L618.62,220.75 L619.15,220.60 L619.68,220.45 L620.21,220.30 L620.74,220.15 L621.27,220.00 L621.80,219.86 L622.33,219.72 L622.86,219.61 L623.39,219.52 L623.92,219.50 L624.45,219.57 L624.98,219.81 L625.51,220.28 L626.04,221.11 L626.57,222.41 L627.10,224.29 L627.63,226.88 L628.16,230.23 L628.69,234.35 L629.22,239.16 L629.75,244.49 L630.28,250.11 L630.81,255.77 L631.34,261.18 L631.87,266.10 L632.40,270.37 L632.93,273.90 L633.46,276.67 L633.99,278.75 L634.52,280.23 L635.05,281.24 L635.58,281.89 L636.11,282.29 L636.64,282.53 L637.17,282.66 L637.70,282.73 L638.23,282.77 L638.76,282.79 L639.29,282.79 L639.82,282.80 L640.35,282.80 L640.88,282.80 L641.41,282.80 L641.94,282.80 L642.47,282.80 L643.00,282.80 L643.53,282.80 L644.06,282.80 L644.59,282.80 L645.12,282.80 L645.65,282.80 L646.18,282.80 L646.71,282.80 L647.24,282.80 L647.77,282.80 L648.30,282.80" fill="none" stroke="#4f9f95" stroke-width="0.9"/>
<path d="M536.92,240.28V244.43M535.72,240.28h2.4M535.72,244.43h2.4" stroke="#333" stroke-width="0.6" fill="none"/>
<path d="M547.58,236.45V240.59M546.38,236.45h2.4M546.38,240.59h2.4" stroke="#333" stroke-width="0.6" fill="none"/>
<path d="M558.24,233.54V237.69M557.04,233.54h2.4M557.04,237.69h2.4" stroke="#333" stroke-width="0.6" fill="none"/>
<path d="M568.91,227.42V233.65M567.71,227.42h2.4M567.71,233.65h2.4" stroke="#333" stroke-width="0.6" fill="none"/>
<path d="M579.57,224.52V232.82M578.37,224.52h2.4M578.37,232.82h2.4" stroke="#333" stroke-width="0.6" fill="none"/>
<path d="M590.23,222.76V228.98M589.03,222.76h2.4M589.03,228.98h2.4" stroke="#333" stroke-width="0.6" fill="none"/>
<path d="M600.90,220.58V228.88M599.70,220.58h2.4M599.70,228.88h2.4" stroke="#333" stroke-width="0.6" fill="none"/>
<path d="M611.56,219.54V229.91M610.36,219.54h2.4M610.36,229.91h2.4" stroke="#333" stroke-width="0.6" fill="none"/>
<path d="M622.22,218.40V228.77M621.02,218.40h2.4M621.02,228.77h2.4" stroke="#333" stroke-width="0.6" fill="none"/>
<path d="M536.92,236.96V241.11M535.72,236.96h2.4M535.72,241.11h2.4" stroke="#333" stroke-width="0.6" fill="none"/>
<path d="M547.58,227.42V233.65M546.38,227.42h2.4M546.38,233.65h2.4" stroke="#333" stroke-width="0.6" fill="none"/>
<path d="M558.24,223.90V232.19M557.04,223.90h2.4M557.04,232.19h2.4" stroke="#333" stroke-width="0.6" fill="none"/>
<path d="M568.91,223.07V229.29M567.71,223.07h2.4M567.71,229.29h2.4" stroke="#333" stroke-width="0.6" fill="none"/>
<path d="M579.57,218.71V224.94M578.37,218.71h2.4M578.37,224.94h2.4" stroke="#333" stroke-width="0.6" fill="none"/>
<path d="M590.23,215.71V221.93M589.03,215.71h2.4M589.03,221.93h2.4" stroke="#333" stroke-width="0.6" fill="none"/>
<path d="M600.90,213.01V219.23M599.70,213.01h2.4M599.70,219.23h2.4" stroke="#333" stroke-width="0.6" fill="none"/>
<path d="M611.56,210.21V216.43M610.36,210.21h2.4M610.36,216.43h2.4" stroke="#333" stroke-width="0.6" fill="none"/>
<path d="M622.22,207.93V214.15M621.02,207.93h2.4M621.02,214.15h2.4" stroke="#333" stroke-width="0.6" fill="none"/>
<circle cx="515.59" cy="281.76" r="2.3" fill="#7fbcb3" stroke="#333" stroke-width="0.6"/>
<circle cx="526.25" cy="255.01" r="2.3" fill="#7fbcb3" stroke="#333" stroke-width="0.6"/>
<circle cx="536.92" cy="242.36" r="2.3" fill="#7fbcb3" stroke="#333" stroke-width="0.6"/>
<circle cx="547.58" cy="238.52" r="2.3" fill="#7fbcb3" stroke="#333" stroke-width="0.6"/>
<circle cx="558.24" cy="235.62" r="2.3" fill="#7fbcb3" stroke="#333" stroke-width="0.6"/>
<circle cx="568.91" cy="230.54" r="2.3" fill="#7fbcb3" stroke="#333" stroke-width="0.6"/>
<circle cx="579.57" cy="228.67" r="2.3" fill="#7fbcb3" stroke="#333" stroke-width="0.6"/>
<circle cx="590.23" cy="225.87" r="2.3" fill="#7fbcb3" stroke="#333" stroke-width="0.6"/>
<circle cx="600.90" cy="224.73" r="2.3" fill="#7fbcb3" stroke="#333" stroke-width="0.6"/>
<circle cx="611.56" cy="224.73" r="2.3" fill="#7fbcb3" stroke="#333" stroke-width="0.6"/>
<circle cx="622.22" cy="223.59" r="2.3" fill="#7fbcb3" stroke="#333" stroke-width="0.6"/>
<circle cx="632.89" cy="276.58" r="2.3" fill="#7fbcb3" stroke="#333" stroke-width="0.6"/>
<circle cx="643.55" cy="281.76" r="2.3" fill="#7fbcb3" stroke="#333" stroke-width="0.6"/>
<circle cx="515.59" cy="281.76" r="2.3" fill="#b3d9d3" stroke="#333" stroke-width="0.6"/>
<circle cx="526.25" cy="250.86" r="2.3" fill="#b3d9d3" stroke="#333" stroke-width="0.6"/>
<circle cx="536.92" cy="239.04" r="2.3" fill="#b3d9d3" stroke="#333" stroke-width="0.6"/>
<circle cx="547.58" cy="230.54" r="2.3" fill="#b3d9d3" stroke="#333" stroke-width="0.6"/>
<circle cx="558.24" cy="228.05" r="2.3" fill="#b3d9d3" stroke="#333" stroke-width="0.6"/>
<circle cx="568.91" cy="226.18" r="2.3" fill="#b3d9d3" stroke="#333" stroke-width="0.6"/>
<circle cx="579.57" cy="221.82" r="2.3" fill="#b3d9d3" stroke="#333" stroke-width="0.6"/>
<circle cx="590.23" cy="218.82" r="2.3" fill="#b3d9d3" stroke="#333" stroke-width="0.6"/>
<circle cx="600.90" cy="216.12" r="2.3" fill="#b3d9d3" stroke="#333" stroke-width="0.6"/>
<circle cx="611.56" cy="213.32" r="2.3" fill="#b3d9d3" stroke="#333" stroke-width="0.6"/>
<circle cx="622.22" cy="211.04" r="2.3" fill="#b3d9d3" stroke="#333" stroke-width="0.6"/>
<circle cx="632.89" cy="274.50" r="2.3" fill="#b3d9d3" stroke="#333" stroke-width="0.6"/>
<circle cx="643.55" cy="281.76" r="2.3" fill="#b3d9d3" stroke="#333" stroke-width="0.6"/>
<circle cx="515.59" cy="281.76" r="2.3" fill="#ffffff" stroke="#333" stroke-width="0.6"/>
<circle cx="526.25" cy="244.33" r="2.3" fill="#ffffff" stroke="#333" stroke-width="0.6"/>
<circle cx="536.92" cy="224.11" r="2.3" fill="#ffffff" stroke="#333" stroke-width="0.6"/>
<circle cx="547.58" cy="214.88" r="2.3" fill="#ffffff" stroke="#333" stroke-width="0.6"/>
<circle cx="558.24" cy="207.41" r="2.3" fill="#ffffff" stroke="#333" stroke-width="0.6"/>
<circle cx="568.91" cy="202.85" r="2.3" fill="#ffffff" stroke="#333" stroke-width="0.6"/>
<circle cx="579.57" cy="196.21" r="2.3" fill="#ffffff" stroke="#333" stroke-width="0.6"/>
<circle cx="590.23" cy="192.06" r="2.3" fill="#ffffff" stroke="#333" stroke-width="0.6"/>
<circle cx="600.90" cy="187.50" r="2.3" fill="#ffffff" stroke="#333" stroke-width="0.6"/>
<circle cx="611.56" cy="185.43" r="2.3" fill="#ffffff" stroke="#333" stroke-width="0.6"/>
<circle cx="622.22" cy="185.43" r="2.3" fill="#ffffff" stroke="#333" stroke-width="0.6"/>
<circle cx="632.89" cy="272.43" r="2.3" fill="#ffffff" stroke="#333" stroke-width="0.6"/>
<circle cx="643.55" cy="280.73" r="2.3" fill="#ffffff" stroke="#333" stroke-width="0.6"/>
<rect x="513.29" y="276.87" width="4.6" height="4.6" fill="#555555" stroke="#333" stroke-width="0.65"/>
<rect x="523.95" y="190.28" width="4.6" height="4.6" fill="#555555" stroke="#333" stroke-width="0.65"/>
<rect x="534.62" y="178.56" width="4.6" height="4.6" fill="#555555" stroke="#333" stroke-width="0.65"/>
<rect x="545.28" y="177.53" width="4.6" height="4.6" fill="#555555" stroke="#333" stroke-width="0.65"/>
<rect x="555.94" y="177.53" width="4.6" height="4.6" fill="#555555" stroke="#333" stroke-width="0.65"/>
<rect x="566.61" y="177.53" width="4.6" height="4.6" fill="#555555" stroke="#333" stroke-width="0.65"/>
<rect x="577.27" y="177.01" width="4.6" height="4.6" fill="#555555" stroke="#333" stroke-width="0.65"/>
<rect x="587.93" y="177.01" width="4.6" height="4.6" fill="#555555" stroke="#333" stroke-width="0.65"/>
<rect x="598.60" y="178.04" width="4.6" height="4.6" fill="#555555" stroke="#333" stroke-width="0.65"/>
<rect x="609.26" y="177.53" width="4.6" height="4.6" fill="#555555" stroke="#333" stroke-width="0.65"/>
<rect x="619.92" y="178.56" width="4.6" height="4.6" fill="#555555" stroke="#333" stroke-width="0.65"/>
<rect x="630.59" y="264.94" width="4.6" height="4.6" fill="#555555" stroke="#333" stroke-width="0.65"/>
<rect x="641.25" y="277.39" width="4.6" height="4.6" fill="#555555" stroke="#333" stroke-width="0.65"/>
<rect x="513.29" y="277.39" width="4.6" height="4.6" fill="#808080" stroke="#333" stroke-width="0.65"/>
<rect x="523.95" y="192.35" width="4.6" height="4.6" fill="#808080" stroke="#333" stroke-width="0.65"/>
<rect x="534.62" y="179.60" width="4.6" height="4.6" fill="#808080" stroke="#333" stroke-width="0.65"/>
<rect x="545.28" y="178.56" width="4.6" height="4.6" fill="#808080" stroke="#333" stroke-width="0.65"/>
<rect x="555.94" y="178.04" width="4.6" height="4.6" fill="#808080" stroke="#333" stroke-width="0.65"/>
<rect x="566.61" y="178.04" width="4.6" height="4.6" fill="#808080" stroke="#333" stroke-width="0.65"/>
<rect x="577.27" y="177.53" width="4.6" height="4.6" fill="#808080" stroke="#333" stroke-width="0.65"/>
<rect x="587.93" y="177.53" width="4.6" height="4.6" fill="#808080" stroke="#333" stroke-width="0.65"/>
<rect x="598.60" y="178.56" width="4.6" height="4.6" fill="#808080" stroke="#333" stroke-width="0.65"/>
<rect x="609.26" y="178.04" width="4.6" height="4.6" fill="#808080" stroke="#333" stroke-width="0.65"/>
<rect x="619.92" y="177.53" width="4.6" height="4.6" fill="#808080" stroke="#333" stroke-width="0.65"/>
<rect x="630.59" y="267.02" width="4.6" height="4.6" fill="#808080" stroke="#333" stroke-width="0.65"/>
<rect x="641.25" y="277.91" width="4.6" height="4.6" fill="#808080" stroke="#333" stroke-width="0.65"/>
<rect x="513.29" y="277.91" width="4.6" height="4.6" fill="#ababab" stroke="#333" stroke-width="0.65"/>
<rect x="523.95" y="189.24" width="4.6" height="4.6" fill="#ababab" stroke="#333" stroke-width="0.65"/>
<rect x="534.62" y="177.53" width="4.6" height="4.6" fill="#ababab" stroke="#333" stroke-width="0.65"/>
<rect x="545.28" y="178.04" width="4.6" height="4.6" fill="#ababab" stroke="#333" stroke-width="0.65"/>
<rect x="555.94" y="178.04" width="4.6" height="4.6" fill="#ababab" stroke="#333" stroke-width="0.65"/>
<rect x="566.61" y="178.04" width="4.6" height="4.6" fill="#ababab" stroke="#333" stroke-width="0.65"/>
<rect x="577.27" y="178.56" width="4.6" height="4.6" fill="#ababab" stroke="#333" stroke-width="0.65"/>
<rect x="587.93" y="178.04" width="4.6" height="4.6" fill="#ababab" stroke="#333" stroke-width="0.65"/>
<rect x="598.60" y="178.04" width="4.6" height="4.6" fill="#ababab" stroke="#333" stroke-width="0.65"/>
<rect x="609.26" y="178.04" width="4.6" height="4.6" fill="#ababab" stroke="#333" stroke-width="0.65"/>
<rect x="619.92" y="178.04" width="4.6" height="4.6" fill="#ababab" stroke="#333" stroke-width="0.65"/>
<rect x="630.59" y="270.13" width="4.6" height="4.6" fill="#ababab" stroke="#333" stroke-width="0.65"/>
<rect x="641.25" y="278.43" width="4.6" height="4.6" fill="#ababab" stroke="#333" stroke-width="0.65"/>
<rect x="513.29" y="278.43" width="4.6" height="4.6" fill="#d2d2d2" stroke="#333" stroke-width="0.65"/>
<rect x="523.95" y="191.32" width="4.6" height="4.6" fill="#d2d2d2" stroke="#333" stroke-width="0.65"/>
<rect x="534.62" y="178.04" width="4.6" height="4.6" fill="#d2d2d2" stroke="#333" stroke-width="0.65"/>
<rect x="545.28" y="178.56" width="4.6" height="4.6" fill="#d2d2d2" stroke="#333" stroke-width="0.65"/>
<rect x="555.94" y="178.56" width="4.6" height="4.6" fill="#d2d2d2" stroke="#333" stroke-width="0.65"/>
<rect x="566.61" y="178.56" width="4.6" height="4.6" fill="#d2d2d2" stroke="#333" stroke-width="0.65"/>
<rect x="577.27" y="179.08" width="4.6" height="4.6" fill="#d2d2d2" stroke="#333" stroke-width="0.65"/>
<rect x="587.93" y="178.56" width="4.6" height="4.6" fill="#d2d2d2" stroke="#333" stroke-width="0.65"/>
<rect x="598.60" y="178.56" width="4.6" height="4.6" fill="#d2d2d2" stroke="#333" stroke-width="0.65"/>
<rect x="609.26" y="182.30" width="4.6" height="4.6" fill="#d2d2d2" stroke="#333" stroke-width="0.65"/>
<rect x="619.92" y="178.04" width="4.6" height="4.6" fill="#d2d2d2" stroke="#333" stroke-width="0.65"/>
<rect x="630.59" y="272.20" width="4.6" height="4.6" fill="#d2d2d2" stroke="#333" stroke-width="0.65"/>
<rect x="641.25" y="278.43" width="4.6" height="4.6" fill="#d2d2d2" stroke="#333" stroke-width="0.65"/>
</g>
<rect x="510.5" y="173.0" width="138.7" height="111.5" fill="none" stroke="#222" stroke-width="1"/>
<line x1="510.5" y1="282.80" x2="513.5" y2="282.80" stroke="#222" stroke-width="0.8"/>
<text x="506.60" y="286.40" font-size="10" font-weight="bold" text-anchor="end" fill="#111" >0.0</text>
<line x1="510.5" y1="272.43" x2="512.5" y2="272.43" stroke="#222" stroke-width="0.8"/>
<line x1="510.5" y1="262.06" x2="513.5" y2="262.06" stroke="#222" stroke-width="0.8"/>
<text x="506.60" y="265.66" font-size="10" font-weight="bold" text-anchor="end" fill="#111" >0.2</text>
<line x1="510.5" y1="251.69" x2="512.5" y2="251.69" stroke="#222" stroke-width="0.8"/>
<line x1="510.5" y1="241.32" x2="513.5" y2="241.32" stroke="#222" stroke-width="0.8"/>
<text x="506.60" y="244.92" font-size="10" font-weight="bold" text-anchor="end" fill="#111" >0.4</text>
<line x1="510.5" y1="230.95" x2="512.5" y2="230.95" stroke="#222" stroke-width="0.8"/>
<line x1="510.5" y1="220.58" x2="513.5" y2="220.58" stroke="#222" stroke-width="0.8"/>
<text x="506.60" y="224.18" font-size="10" font-weight="bold" text-anchor="end" fill="#111" >0.6</text>
<line x1="510.5" y1="210.21" x2="512.5" y2="210.21" stroke="#222" stroke-width="0.8"/>
<line x1="510.5" y1="199.84" x2="513.5" y2="199.84" stroke="#222" stroke-width="0.8"/>
<text x="506.60" y="203.44" font-size="10" font-weight="bold" text-anchor="end" fill="#111" >0.8</text>
<line x1="510.5" y1="189.47" x2="512.5" y2="189.47" stroke="#222" stroke-width="0.8"/>
<line x1="510.5" y1="179.10" x2="513.5" y2="179.10" stroke="#222" stroke-width="0.8"/>
<text x="506.60" y="182.70" font-size="10" font-weight="bold" text-anchor="end" fill="#111" >1.0</text>
<line x1="510.50" y1="284.5" x2="510.50" y2="281.5" stroke="#222" stroke-width="0.8"/>
<text x="510.50" y="296.70" font-size="10" font-weight="bold" text-anchor="middle" fill="#111" >0</text>
<line x1="526.40" y1="284.5" x2="526.40" y2="282.5" stroke="#222" stroke-width="0.8"/>
<line x1="542.30" y1="284.5" x2="542.30" y2="281.5" stroke="#222" stroke-width="0.8"/>
<text x="542.30" y="296.70" font-size="10" font-weight="bold" text-anchor="middle" fill="#111" >3</text>
<line x1="558.20" y1="284.5" x2="558.20" y2="282.5" stroke="#222" stroke-width="0.8"/>
<line x1="574.10" y1="284.5" x2="574.10" y2="281.5" stroke="#222" stroke-width="0.8"/>
<text x="574.10" y="296.70" font-size="10" font-weight="bold" text-anchor="middle" fill="#111" >6</text>
<line x1="590.00" y1="284.5" x2="590.00" y2="282.5" stroke="#222" stroke-width="0.8"/>
<line x1="605.90" y1="284.5" x2="605.90" y2="281.5" stroke="#222" stroke-width="0.8"/>
<text x="605.90" y="296.70" font-size="10" font-weight="bold" text-anchor="middle" fill="#111" >9</text>
<line x1="621.80" y1="284.5" x2="621.80" y2="282.5" stroke="#222" stroke-width="0.8"/>
<line x1="637.70" y1="284.5" x2="637.70" y2="281.5" stroke="#222" stroke-width="0.8"/>
<text x="637.70" y="296.70" font-size="10" font-weight="bold" text-anchor="middle" fill="#111" >12</text>
<text x="579.50" y="308.50" font-size="10" font-weight="bold" text-anchor="middle" fill="#111" >Pore Volume</text>
<text transform="translate(487.5,229.2) rotate(-90)" font-size="9.3" font-weight="bold" font-style="italic" text-anchor="middle" fill="#111">C/C<tspan font-size="6.2" dy="0.2">0</tspan></text>
<text x="579.70" y="278.00" font-size="10" font-weight="bold" text-anchor="middle" fill="#111" >3.0 m/d</text>
<linearGradient id="g1e" x1="0" y1="0" x2="0" y2="1"><stop offset="0" stop-color="#e4e2e2"/><stop offset="1" stop-color="#4f4f4f"/></linearGradient>
<linearGradient id="g2e" x1="0" y1="0" x2="0" y2="1"><stop offset="0" stop-color="#eef6f4"/><stop offset="1" stop-color="#6fb1a6"/></linearGradient>
<rect x="652" y="173.0" width="12.2" height="52.3" fill="url(#g1e)" stroke="#222" stroke-width="0.8"/>
<rect x="652" y="232.6" width="12.2" height="52.3" fill="url(#g2e)" stroke="#222" stroke-width="0.8"/>
<text transform="translate(661.6,199.1) rotate(-90)" font-size="8.5" font-weight="bold" text-anchor="middle" fill="#111">PVA-fCB</text>
<text transform="translate(661.6,258.7) rotate(-90)" font-size="8.6" font-weight="bold" text-anchor="middle" fill="#111">NR</text>
<text transform="translate(671.9,172.8) rotate(-90)" font-size="8.5" font-weight="bold" text-anchor="end" fill="#111">1.6</text>
<text transform="translate(671.9,224.1) rotate(-90)" font-size="8.5" font-weight="bold" text-anchor="start" fill="#111">10.9</text>
<text transform="translate(671.9,232.1) rotate(-90)" font-size="8.5" font-weight="bold" text-anchor="end" fill="#111">1.6</text>
<text transform="translate(671.9,283.8) rotate(-90)" font-size="8.5" font-weight="bold" text-anchor="start" fill="#111">10.9</text>
<text transform="translate(683.3,225.1) rotate(-90)" font-size="9.7" font-weight="bold" text-anchor="middle" fill="#111">FPOC <tspan font-style="italic">S</tspan><tspan font-size="6.5">n</tspan> (%)</text>
<text x="328.80" y="346.60" font-size="14.5" font-weight="bold" text-anchor="start" fill="#111" >g</text>
<rect x="362.5" y="352.8" width="283.5" height="150.3" fill="none" stroke="#333" stroke-width="1"/>
<line x1="362.5" y1="499.00" x2="365.5" y2="499.00" stroke="#333" stroke-width="0.8"/>
<text x="358.30" y="502.60" font-size="10" font-weight="bold" text-anchor="end" fill="#111" >0.0</text>
<line x1="362.5" y1="481.68" x2="364.5" y2="481.68" stroke="#333" stroke-width="0.8"/>
<line x1="362.5" y1="464.35" x2="365.5" y2="464.35" stroke="#333" stroke-width="0.8"/>
<text x="358.30" y="467.95" font-size="10" font-weight="bold" text-anchor="end" fill="#111" >1.0</text>
<line x1="362.5" y1="447.02" x2="364.5" y2="447.02" stroke="#333" stroke-width="0.8"/>
<line x1="362.5" y1="429.70" x2="365.5" y2="429.70" stroke="#333" stroke-width="0.8"/>
<text x="358.30" y="433.30" font-size="10" font-weight="bold" text-anchor="end" fill="#111" >2.0</text>
<line x1="362.5" y1="412.38" x2="364.5" y2="412.38" stroke="#333" stroke-width="0.8"/>
<line x1="362.5" y1="395.05" x2="365.5" y2="395.05" stroke="#333" stroke-width="0.8"/>
<text x="358.30" y="398.65" font-size="10" font-weight="bold" text-anchor="end" fill="#111" >3.0</text>
<line x1="362.5" y1="377.73" x2="364.5" y2="377.73" stroke="#333" stroke-width="0.8"/>
<line x1="362.5" y1="360.40" x2="365.5" y2="360.40" stroke="#333" stroke-width="0.8"/>
<text x="358.30" y="364.00" font-size="10" font-weight="bold" text-anchor="end" fill="#111" >4.0</text>
<line x1="369.60" y1="503.1" x2="369.60" y2="500.1" stroke="#333" stroke-width="0.8"/>
<text x="369.60" y="516.50" font-size="10" font-weight="bold" text-anchor="middle" fill="#111" >0</text>
<line x1="384.52" y1="503.1" x2="384.52" y2="501.1" stroke="#333" stroke-width="0.8"/>
<line x1="399.44" y1="503.1" x2="399.44" y2="500.1" stroke="#333" stroke-width="0.8"/>
<text x="399.44" y="516.50" font-size="10" font-weight="bold" text-anchor="middle" fill="#111" >2</text>
<line x1="414.36" y1="503.1" x2="414.36" y2="501.1" stroke="#333" stroke-width="0.8"/>
<line x1="429.28" y1="503.1" x2="429.28" y2="500.1" stroke="#333" stroke-width="0.8"/>
<text x="429.28" y="516.50" font-size="10" font-weight="bold" text-anchor="middle" fill="#111" >4</text>
<line x1="444.20" y1="503.1" x2="444.20" y2="501.1" stroke="#333" stroke-width="0.8"/>
<line x1="459.12" y1="503.1" x2="459.12" y2="500.1" stroke="#333" stroke-width="0.8"/>
<text x="459.12" y="516.50" font-size="10" font-weight="bold" text-anchor="middle" fill="#111" >6</text>
<line x1="474.04" y1="503.1" x2="474.04" y2="501.1" stroke="#333" stroke-width="0.8"/>
<line x1="488.96" y1="503.1" x2="488.96" y2="500.1" stroke="#333" stroke-width="0.8"/>
<text x="488.96" y="516.50" font-size="10" font-weight="bold" text-anchor="middle" fill="#111" >8</text>
<line x1="503.88" y1="503.1" x2="503.88" y2="501.1" stroke="#333" stroke-width="0.8"/>
<line x1="518.80" y1="503.1" x2="518.80" y2="500.1" stroke="#333" stroke-width="0.8"/>
<text x="518.80" y="516.50" font-size="10" font-weight="bold" text-anchor="middle" fill="#111" >10</text>
<line x1="533.72" y1="503.1" x2="533.72" y2="501.1" stroke="#333" stroke-width="0.8"/>
<line x1="548.64" y1="503.1" x2="548.64" y2="500.1" stroke="#333" stroke-width="0.8"/>
<text x="548.64" y="516.50" font-size="10" font-weight="bold" text-anchor="middle" fill="#111" >12</text>
<line x1="563.56" y1="503.1" x2="563.56" y2="501.1" stroke="#333" stroke-width="0.8"/>
<line x1="578.48" y1="503.1" x2="578.48" y2="500.1" stroke="#333" stroke-width="0.8"/>
<text x="578.48" y="516.50" font-size="10" font-weight="bold" text-anchor="middle" fill="#111" >14</text>
<line x1="593.40" y1="503.1" x2="593.40" y2="501.1" stroke="#333" stroke-width="0.8"/>
<line x1="608.32" y1="503.1" x2="608.32" y2="500.1" stroke="#333" stroke-width="0.8"/>
<text x="608.32" y="516.50" font-size="10" font-weight="bold" text-anchor="middle" fill="#111" >16</text>
<line x1="623.24" y1="503.1" x2="623.24" y2="501.1" stroke="#333" stroke-width="0.8"/>
<line x1="638.16" y1="503.1" x2="638.16" y2="500.1" stroke="#333" stroke-width="0.8"/>
<text x="638.16" y="516.50" font-size="10" font-weight="bold" text-anchor="middle" fill="#111" >18</text>
<text x="504.5" y="530.8" font-size="10" font-weight="bold" text-anchor="middle" fill="#111">FPOC Saturation <tspan font-style="italic">S</tspan><tspan font-size="6.5">n</tspan> (%)</text>
<text transform="translate(337.6,427) rotate(-90)" font-size="10" font-weight="bold" text-anchor="middle" fill="#111">Model Fitted <tspan font-style="italic">S</tspan><tspan font-size="5.4" dy="1">part max</tspan></text>
<line x1="400.93" y1="454.30" x2="475.53" y2="369.41" stroke="#f2e2a6" stroke-width="1.4"/>
<line x1="397.05" y1="465.39" x2="473.00" y2="402.33" stroke="#f7bd86" stroke-width="1.4"/>
<line x1="369.60" y1="497.61" x2="536.70" y2="441.48" stroke="#f2a0a0" stroke-width="1.4"/>
<line x1="392.73" y1="490.51" x2="531.93" y2="462.27" stroke="#a9cfc9" stroke-width="1.4"/>
<circle cx="400.93" cy="454.30" r="3.3" fill="#f6e8b4" stroke="#333" stroke-width="0.8"/>
<circle cx="420.33" cy="435.59" r="3.3" fill="#f6e8b4" stroke="#333" stroke-width="0.8"/>
<circle cx="475.53" cy="369.41" r="3.3" fill="#f6e8b4" stroke="#333" stroke-width="0.8"/>
<circle cx="397.05" cy="465.39" r="3.3" fill="#f8c592" stroke="#333" stroke-width="0.8"/>
<circle cx="415.85" cy="455.34" r="3.3" fill="#f8c592" stroke="#333" stroke-width="0.8"/>
<circle cx="473.00" cy="402.33" r="3.3" fill="#f8c592" stroke="#333" stroke-width="0.8"/>
<circle cx="369.60" cy="497.61" r="3.3" fill="#f0a2a2" stroke="#333" stroke-width="0.8"/>
<circle cx="377.96" cy="492.76" r="3.3" fill="#f0a2a2" stroke="#333" stroke-width="0.8"/>
<circle cx="400.34" cy="487.91" r="3.3" fill="#f0a2a2" stroke="#333" stroke-width="0.8"/>
<circle cx="423.91" cy="478.90" r="3.3" fill="#f0a2a2" stroke="#333" stroke-width="0.8"/>
<circle cx="463.89" cy="464.70" r="3.3" fill="#f0a2a2" stroke="#333" stroke-width="0.8"/>
<circle cx="536.70" cy="441.48" r="3.3" fill="#f0a2a2" stroke="#333" stroke-width="0.8"/>
<circle cx="392.73" cy="490.51" r="3.3" fill="#a9d0ca" stroke="#333" stroke-width="0.8"/>
<circle cx="454.35" cy="475.44" r="3.3" fill="#a9d0ca" stroke="#333" stroke-width="0.8"/>
<circle cx="531.93" cy="462.27" r="3.3" fill="#a9d0ca" stroke="#333" stroke-width="0.8"/>
<text x="597.60" y="377.30" font-size="10" font-weight="bold" text-anchor="middle" fill="#111" >Groundwater</text>
<text x="597.60" y="389.60" font-size="10" font-weight="bold" text-anchor="middle" fill="#111" >seepage velocity</text>
<line x1="562" y1="405.4" x2="587" y2="405.4" stroke="#f2e2a6" stroke-width="1.4"/>
<circle cx="574.5" cy="405.4" r="3.3" fill="#f6e8b4" stroke="#333" stroke-width="0.8"/>
<text x="596.00" y="409.00" font-size="10" font-weight="bold" text-anchor="start" fill="#111" >0.5 m/d</text>
<line x1="562" y1="427.0" x2="587" y2="427.0" stroke="#f7bd86" stroke-width="1.4"/>
<circle cx="574.5" cy="427.0" r="3.3" fill="#f8c592" stroke="#333" stroke-width="0.8"/>
<text x="596.00" y="430.60" font-size="10" font-weight="bold" text-anchor="start" fill="#111" >1.0 m/d</text>
<line x1="562" y1="448.4" x2="587" y2="448.4" stroke="#f2a0a0" stroke-width="1.4"/>
<circle cx="574.5" cy="448.4" r="3.3" fill="#f0a2a2" stroke="#333" stroke-width="0.8"/>
<text x="596.00" y="452.00" font-size="10" font-weight="bold" text-anchor="start" fill="#111" >2.0 m/d</text>
<line x1="562" y1="469.8" x2="587" y2="469.8" stroke="#a9cfc9" stroke-width="1.4"/>
<circle cx="574.5" cy="469.8" r="3.3" fill="#a9d0ca" stroke="#333" stroke-width="0.8"/>
<text x="596.00" y="473.40" font-size="10" font-weight="bold" text-anchor="start" fill="#111" >3.0 m/d</text>
<text x="-0.30" y="346.60" font-size="14.5" font-weight="bold" text-anchor="start" fill="#111" >f</text>
<rect x="12.8" y="352.8" width="277.5" height="150.5" fill="none" stroke="#444" stroke-width="1"/>
<line x1="28.2" y1="380.5" x2="48.1" y2="380.5" stroke="#111" stroke-width="0.9"/>
<text x="38.2" y="376.9" font-size="12" font-weight="normal" text-anchor="middle" fill="#111" ><tspan font-style="italic">∂C</tspan></text>
<text x="38.2" y="394.4" font-size="12" font-weight="normal" text-anchor="middle" fill="#111" ><tspan font-style="italic">∂t</tspan></text>
<text x="56.7" y="384.7" font-size="12" font-weight="normal" text-anchor="middle" fill="#111" >+</text>
<line x1="64.2" y1="380.5" x2="74.9" y2="380.5" stroke="#111" stroke-width="0.9"/>
<text x="69.5" y="376.9" font-size="12" font-weight="normal" text-anchor="middle" fill="#111" ><tspan font-style="italic">ρ</tspan></text>
<text x="69.5" y="394.4" font-size="12" font-weight="normal" text-anchor="middle" fill="#111" ><tspan font-style="italic">θ</tspan></text>
<line x1="79.6" y1="380.5" x2="106.2" y2="380.5" stroke="#111" stroke-width="0.9"/>
<text x="92.9" y="376.9" font-size="12" font-weight="normal" text-anchor="middle" fill="#111" ><tspan font-style="italic">∂S</tspan><tspan font-size="7.4" font-weight="bold" letter-spacing="-0.2" dy="0.5">att</tspan></text>
<text x="92.9" y="394.4" font-size="12" font-weight="normal" text-anchor="middle" fill="#111" ><tspan font-style="italic">∂t</tspan></text>
<text x="114.4" y="384.7" font-size="12" font-weight="normal" text-anchor="middle" fill="#111" >+</text>
<line x1="122.6" y1="380.5" x2="133.3" y2="380.5" stroke="#111" stroke-width="0.9"/>
<text x="128.0" y="376.9" font-size="12" font-weight="normal" text-anchor="middle" fill="#111" ><tspan font-style="italic">ρ</tspan></text>
<text x="128.0" y="394.4" font-size="12" font-weight="normal" text-anchor="middle" fill="#111" ><tspan font-style="italic">θ</tspan></text>
<line x1="138.0" y1="380.5" x2="170.2" y2="380.5" stroke="#111" stroke-width="0.9"/>
<text x="154.1" y="376.9" font-size="12" font-weight="normal" text-anchor="middle" fill="#111" ><tspan font-style="italic">∂S</tspan><tspan font-size="7.4" font-weight="bold" letter-spacing="-0.2" dy="0.5">part</tspan></text>
<text x="154.1" y="394.4" font-size="12" font-weight="normal" text-anchor="middle" fill="#111" ><tspan font-style="italic">∂t</tspan></text>
<text x="177.8" y="384.7" font-size="12" font-weight="normal" text-anchor="middle" fill="#111" >=</text>
<text x="189.3" y="384.8" font-size="12" font-weight="normal" text-anchor="middle" fill="#111" ><tspan font-style="italic">D</tspan></text>
<line x1="198.3" y1="380.5" x2="223.8" y2="380.5" stroke="#111" stroke-width="0.9"/>
<text x="211.0" y="376.9" font-size="12" font-weight="normal" text-anchor="middle" fill="#111" ><tspan font-style="italic">∂</tspan><tspan font-size="7.5" dy="-4">2</tspan><tspan font-style="italic"><tspan dy="4">C</tspan></tspan></text>
<text x="211.0" y="394.4" font-size="12" font-weight="normal" text-anchor="middle" fill="#111" ><tspan font-style="italic">∂x</tspan><tspan font-size="7.5" dy="-4">2</tspan></text>
<text x="230.5" y="384.7" font-size="12" font-weight="normal" text-anchor="middle" fill="#111" >−</text>
<text x="240.2" y="384.8" font-size="12" font-weight="normal" text-anchor="middle" fill="#111" ><tspan font-style="italic">v</tspan></text>
<line x1="248.6" y1="380.5" x2="271.5" y2="380.5" stroke="#111" stroke-width="0.9"/>
<text x="260.0" y="376.9" font-size="12" font-weight="normal" text-anchor="middle" fill="#111" ><tspan font-style="italic">∂C</tspan></text>
<text x="260.0" y="394.4" font-size="12" font-weight="normal" text-anchor="middle" fill="#111" ><tspan font-style="italic">∂x</tspan></text>
<line x1="32.2" y1="429.5" x2="41.5" y2="429.5" stroke="#111" stroke-width="0.9"/>
<text x="36.9" y="426.6" font-size="12" font-weight="normal" text-anchor="middle" fill="#111" ><tspan font-style="italic">ρ</tspan></text>
<text x="36.9" y="443.0" font-size="12" font-weight="normal" text-anchor="middle" fill="#111" ><tspan font-style="italic">θ</tspan></text>
<line x1="46.2" y1="429.5" x2="72.6" y2="429.5" stroke="#111" stroke-width="0.9"/>
<text x="59.4" y="426.6" font-size="12" font-weight="normal" text-anchor="middle" fill="#111" ><tspan font-style="italic">∂S</tspan><tspan font-size="7.4" font-weight="bold" letter-spacing="-0.2" dy="0.5">att</tspan></text>
<text x="59.4" y="443.0" font-size="12" font-weight="normal" text-anchor="middle" fill="#111" ><tspan font-style="italic">∂t</tspan></text>
<text x="79.5" y="433.7" font-size="12" font-weight="normal" text-anchor="middle" fill="#111" >=</text>
<text x="84.7" y="433.8" font-size="12" font-weight="normal" text-anchor="start" fill="#111" ><tspan font-style="italic">K</tspan><tspan font-size="7.4" font-weight="bold" letter-spacing="-0.2" dy="0.5">att</tspan></text>
<text x="104.6" y="433.8" font-size="12" font-weight="normal" text-anchor="start" fill="#111" ><tspan font-style="italic">Ψ</tspan><tspan font-size="7.4" font-weight="bold" letter-spacing="-0.2" dy="0.5">att</tspan></text>
<text x="125.6" y="433.8" font-size="12" font-weight="normal" text-anchor="start" fill="#111" ><tspan font-style="italic">C</tspan></text>
<text x="183.3" y="433.8" font-size="12" font-weight="normal" text-anchor="start" fill="#111" ><tspan font-style="italic">Ψ</tspan><tspan font-size="7.4" font-weight="bold" letter-spacing="-0.2" dy="0.5">att</tspan></text>
<text x="207.5" y="433.7" font-size="12" font-weight="normal" text-anchor="middle" fill="#111" >=</text>
<text x="216.0" y="433.8" font-size="12" font-weight="normal" text-anchor="middle" fill="#111" >1</text>
<line x1="222.2" y1="429.5" x2="229.8" y2="429.5" stroke="#111" stroke-width="0.9"/>
<line x1="235.5" y1="429.5" x2="270.6" y2="429.5" stroke="#111" stroke-width="0.9"/>
<text x="253.0" y="426.6" font-size="12" font-weight="normal" text-anchor="middle" fill="#111" ><tspan font-style="italic">S</tspan><tspan font-size="7.4" font-weight="bold" letter-spacing="-0.2" dy="0.5">att</tspan></text>
<text x="253.5" y="443.0" font-size="12" font-weight="normal" text-anchor="middle" fill="#111" ><tspan font-style="italic">S</tspan><tspan font-size="7.4" font-weight="bold" letter-spacing="-0.2" dy="0.5">att max</tspan></text>
<line x1="32.2" y1="477.5" x2="41.5" y2="477.5" stroke="#111" stroke-width="0.9"/>
<text x="36.9" y="474.3" font-size="12" font-weight="normal" text-anchor="middle" fill="#111" ><tspan font-style="italic">ρ</tspan></text>
<text x="36.9" y="490.7" font-size="12" font-weight="normal" text-anchor="middle" fill="#111" ><tspan font-style="italic">θ</tspan></text>
<line x1="46.2" y1="477.5" x2="74.9" y2="477.5" stroke="#111" stroke-width="0.9"/>
<text x="60.5" y="474.3" font-size="12" font-weight="normal" text-anchor="middle" fill="#111" ><tspan font-style="italic">∂S</tspan><tspan font-size="7.4" font-weight="bold" letter-spacing="-0.2" dy="0.5">part</tspan></text>
<text x="60.5" y="490.7" font-size="12" font-weight="normal" text-anchor="middle" fill="#111" ><tspan font-style="italic">∂t</tspan></text>
<text x="81.7" y="481.7" font-size="12" font-weight="normal" text-anchor="middle" fill="#111" >=</text>
<text x="88.3" y="481.8" font-size="12" font-weight="normal" text-anchor="start" fill="#111" ><tspan font-style="italic">K</tspan><tspan font-size="7.4" font-weight="bold" letter-spacing="-0.2" dy="0.5">part</tspan></text>
<text x="112.8" y="481.8" font-size="12" font-weight="normal" text-anchor="start" fill="#111" ><tspan font-style="italic">Ψ</tspan><tspan font-size="7.4" font-weight="bold" letter-spacing="-0.2" dy="0.5">part</tspan></text>
<text x="137.3" y="481.8" font-size="12" font-weight="normal" text-anchor="start" fill="#111" ><tspan font-style="italic">C</tspan></text>
<text x="178.5" y="481.8" font-size="12" font-weight="normal" text-anchor="start" fill="#111" ><tspan font-style="italic">Ψ</tspan><tspan font-size="7.4" font-weight="bold" letter-spacing="-0.2" dy="0.5">part</tspan></text>
<text x="207.5" y="481.7" font-size="12" font-weight="normal" text-anchor="middle" fill="#111" >=</text>
<text x="216.0" y="481.8" font-size="12" font-weight="normal" text-anchor="middle" fill="#111" >1</text>
<line x1="222.2" y1="477.5" x2="229.8" y2="477.5" stroke="#111" stroke-width="0.9"/>
<line x1="235.5" y1="477.5" x2="270.6" y2="477.5" stroke="#111" stroke-width="0.9"/>
<text x="253.3" y="474.3" font-size="12" font-weight="normal" text-anchor="middle" fill="#111" ><tspan font-style="italic">S</tspan><tspan font-size="7.4" font-weight="bold" letter-spacing="-0.2" dy="0.5">part</tspan></text>
<text x="253.5" y="491.2" font-size="13" font-weight="bold" text-anchor="middle" fill="#e8323c"><tspan font-style="italic">S</tspan><tspan font-size="7.6" font-weight="bold" letter-spacing="-0.1" dy="0.6">part max</tspan></text>
<text x="-0.90" y="7.70" font-size="15" font-weight="bold" text-anchor="start" fill="#111" >a</text>
<defs>
<pattern id="pat1" patternUnits="userSpaceOnUse" x="17.9" y="0" width="28" height="40"><rect width="28" height="40" fill="#f0f1f2"/><ellipse cx="9.1" cy="6.0" rx="2.3" ry="2.1" fill="#bfbfbf"/><ellipse cx="2.0" cy="21.4" rx="2.0" ry="2.1" fill="#bfbfbf"/><ellipse cx="30.0" cy="21.4" rx="2.0" ry="2.1" fill="#bfbfbf"/><ellipse cx="12.1" cy="2.8" rx="1.8" ry="1.9" fill="#bfbfbf"/><ellipse cx="12.1" cy="42.8" rx="1.8" ry="1.6" fill="#bfbfbf"/><ellipse cx="11.9" cy="33.1" rx="1.8" ry="1.7" fill="#bfbfbf"/><ellipse cx="6.3" cy="25.1" rx="2.6" ry="2.2" fill="#bfbfbf"/><ellipse cx="16.2" cy="15.9" rx="2.6" ry="2.5" fill="#bfbfbf"/><ellipse cx="1.3" cy="34.3" rx="2.0" ry="2.1" fill="#bfbfbf"/><ellipse cx="29.3" cy="34.3" rx="2.0" ry="1.9" fill="#bfbfbf"/><ellipse cx="4.0" cy="4.7" rx="2.0" ry="2.1" fill="#bfbfbf"/><ellipse cx="22.9" cy="7.2" rx="2.2" ry="2.0" fill="#bfbfbf"/><ellipse cx="22.2" cy="28.0" rx="1.9" ry="1.9" fill="#bfbfbf"/><ellipse cx="16.1" cy="21.0" rx="2.5" ry="2.2" fill="#bfbfbf"/><ellipse cx="20.4" cy="11.5" rx="2.6" ry="2.3" fill="#bfbfbf"/><ellipse cx="3.3" cy="16.7" rx="2.4" ry="2.4" fill="#bfbfbf"/><ellipse cx="18.7" cy="30.6" rx="2.2" ry="1.9" fill="#bfbfbf"/><ellipse cx="23.5" cy="-2.2" rx="2.1" ry="2.0" fill="#bfbfbf"/><ellipse cx="23.5" cy="37.8" rx="2.1" ry="2.2" fill="#bfbfbf"/><ellipse cx="18.6" cy="2.4" rx="2.3" ry="2.2" fill="#bfbfbf"/><ellipse cx="18.6" cy="42.4" rx="2.3" ry="2.0" fill="#bfbfbf"/><ellipse cx="8.0" cy="15.4" rx="2.3" ry="2.1" fill="#bfbfbf"/><ellipse cx="3.6" cy="9.9" rx="2.1" ry="2.2" fill="#bfbfbf"/><ellipse cx="24.4" cy="3.2" rx="2.1" ry="2.1" fill="#bfbfbf"/><ellipse cx="15.4" cy="35.3" rx="2.4" ry="2.6" fill="#bfbfbf"/><ellipse cx="7.4" cy="0.2" rx="2.1" ry="2.1" fill="#bfbfbf"/><ellipse cx="7.4" cy="40.2" rx="2.1" ry="2.2" fill="#bfbfbf"/><ellipse cx="10.3" cy="22.7" rx="2.6" ry="2.4" fill="#bfbfbf"/><ellipse cx="1.5" cy="0.0" rx="1.8" ry="1.6" fill="#bfbfbf"/><ellipse cx="1.5" cy="40.0" rx="1.8" ry="1.8" fill="#bfbfbf"/><ellipse cx="29.5" cy="0.0" rx="1.8" ry="1.8" fill="#bfbfbf"/><ellipse cx="29.5" cy="40.0" rx="1.8" ry="1.8" fill="#bfbfbf"/><ellipse cx="24.5" cy="24.6" rx="1.8" ry="2.0" fill="#bfbfbf"/><ellipse cx="21.6" cy="21.3" rx="2.4" ry="2.5" fill="#bfbfbf"/><ellipse cx="19.4" cy="-1.7" rx="2.1" ry="2.0" fill="#bfbfbf"/><ellipse cx="19.4" cy="38.3" rx="2.1" ry="2.2" fill="#bfbfbf"/><ellipse cx="-2.8" cy="33.6" rx="2.1" ry="2.2" fill="#bfbfbf"/><ellipse cx="25.2" cy="33.6" rx="2.1" ry="2.1" fill="#bfbfbf"/><ellipse cx="-0.8" cy="15.8" rx="2.1" ry="2.0" fill="#bfbfbf"/><ellipse cx="27.2" cy="15.8" rx="2.1" ry="2.1" fill="#bfbfbf"/><ellipse cx="-1.5" cy="29.0" rx="1.9" ry="2.0" fill="#bfbfbf"/><ellipse cx="26.5" cy="29.0" rx="1.9" ry="1.8" fill="#bfbfbf"/><ellipse cx="15.4" cy="5.2" rx="1.7" ry="1.7" fill="#bfbfbf"/><ellipse cx="-2.3" cy="20.1" rx="2.2" ry="2.3" fill="#bfbfbf"/><ellipse cx="25.7" cy="20.1" rx="2.2" ry="2.0" fill="#bfbfbf"/><ellipse cx="15.7" cy="9.9" rx="1.9" ry="1.8" fill="#bfbfbf"/><ellipse cx="16.0" cy="28.0" rx="1.8" ry="1.9" fill="#bfbfbf"/><ellipse cx="8.5" cy="30.4" rx="2.0" ry="1.8" fill="#bfbfbf"/><ellipse cx="5.6" cy="20.2" rx="1.7" ry="1.8" fill="#bfbfbf"/><ellipse cx="-0.4" cy="6.0" rx="2.4" ry="2.1" fill="#bfbfbf"/><ellipse cx="27.6" cy="6.0" rx="2.4" ry="2.2" fill="#bfbfbf"/><ellipse cx="-0.6" cy="-2.5" rx="1.7" ry="1.6" fill="#bfbfbf"/><ellipse cx="-0.6" cy="37.5" rx="1.7" ry="1.6" fill="#bfbfbf"/><ellipse cx="27.4" cy="-2.5" rx="1.7" ry="1.8" fill="#bfbfbf"/><ellipse cx="27.4" cy="37.5" rx="1.7" ry="1.6" fill="#bfbfbf"/><ellipse cx="21.0" cy="33.6" rx="1.8" ry="1.6" fill="#bfbfbf"/><ellipse cx="12.0" cy="11.0" rx="1.7" ry="1.6" fill="#bfbfbf"/><ellipse cx="-1.8" cy="10.0" rx="1.9" ry="2.1" fill="#bfbfbf"/><ellipse cx="26.2" cy="10.0" rx="1.9" ry="1.9" fill="#bfbfbf"/><ellipse cx="21.0" cy="16.5" rx="2.1" ry="1.8" fill="#bfbfbf"/><ellipse cx="8.9" cy="11.0" rx="1.7" ry="1.5" fill="#bfbfbf"/><ellipse cx="19.0" cy="7.4" rx="2.0" ry="1.9" fill="#bfbfbf"/><ellipse cx="4.5" cy="31.4" rx="1.9" ry="2.0" fill="#bfbfbf"/><ellipse cx="10.6" cy="-2.0" rx="1.8" ry="2.0" fill="#bfbfbf"/><ellipse cx="10.6" cy="38.0" rx="1.8" ry="1.6" fill="#bfbfbf"/><ellipse cx="3.8" cy="-2.5" rx="1.9" ry="2.0" fill="#bfbfbf"/><ellipse cx="3.8" cy="37.5" rx="1.9" ry="1.7" fill="#bfbfbf"/><ellipse cx="7.0" cy="36.1" rx="1.7" ry="1.8" fill="#bfbfbf"/><ellipse cx="19.0" cy="25.7" rx="2.1" ry="2.0" fill="#bfbfbf"/><ellipse cx="13.7" cy="-1.0" rx="1.7" ry="1.5" fill="#bfbfbf"/><ellipse cx="13.7" cy="39.0" rx="1.7" ry="1.7" fill="#bfbfbf"/><ellipse cx="11.8" cy="27.9" rx="2.0" ry="1.8" fill="#bfbfbf"/><ellipse cx="11.0" cy="17.9" rx="1.8" ry="1.9" fill="#bfbfbf"/><ellipse cx="2.7" cy="28.0" rx="1.9" ry="2.0" fill="#bfbfbf"/><ellipse cx="30.7" cy="28.0" rx="1.9" ry="1.7" fill="#bfbfbf"/><ellipse cx="-0.2" cy="25.5" rx="1.7" ry="1.8" fill="#bfbfbf"/><ellipse cx="27.8" cy="25.5" rx="1.7" ry="1.5" fill="#bfbfbf"/><ellipse cx="12.9" cy="7.9" rx="1.8" ry="1.9" fill="#bfbfbf"/><ellipse cx="14.7" cy="31.3" rx="1.8" ry="1.9" fill="#bfbfbf"/><ellipse cx="24.5" cy="12.9" rx="1.8" ry="1.8" fill="#bfbfbf"/><ellipse cx="14.0" cy="24.7" rx="1.8" ry="1.8" fill="#bfbfbf"/><ellipse cx="1.3" cy="12.8" rx="1.8" ry="1.8" fill="#bfbfbf"/><ellipse cx="29.3" cy="12.8" rx="1.8" ry="1.8" fill="#bfbfbf"/><ellipse cx="11.8" cy="14.3" rx="1.8" ry="1.8" fill="#bfbfbf"/></pattern>
<pattern id="pat2" patternUnits="userSpaceOnUse" x="17.9" y="0" width="28" height="40"><rect width="28" height="40" fill="#f7e1e1"/><ellipse cx="11.8" cy="33.4" rx="1.7" ry="1.8" fill="#bdb9b9"/><ellipse cx="13.5" cy="2.0" rx="2.3" ry="2.1" fill="#bdb9b9"/><ellipse cx="13.5" cy="42.0" rx="2.3" ry="2.4" fill="#bdb9b9"/><ellipse cx="3.9" cy="22.0" rx="1.8" ry="1.9" fill="#bdb9b9"/><ellipse cx="8.1" cy="32.9" rx="2.2" ry="2.0" fill="#bdb9b9"/><ellipse cx="18.0" cy="35.6" rx="1.7" ry="1.9" fill="#bdb9b9"/><ellipse cx="19.0" cy="3.7" rx="2.5" ry="2.4" fill="#bdb9b9"/><ellipse cx="17.2" cy="11.6" rx="1.7" ry="1.8" fill="#bdb9b9"/><ellipse cx="20.5" cy="15.4" rx="2.4" ry="2.1" fill="#bdb9b9"/><ellipse cx="23.9" cy="25.8" rx="1.9" ry="1.8" fill="#bdb9b9"/><ellipse cx="3.5" cy="1.3" rx="2.6" ry="2.8" fill="#bdb9b9"/><ellipse cx="3.5" cy="41.3" rx="2.6" ry="2.5" fill="#bdb9b9"/><ellipse cx="11.1" cy="15.3" rx="2.3" ry="2.1" fill="#bdb9b9"/><ellipse cx="19.1" cy="21.9" rx="2.5" ry="2.3" fill="#bdb9b9"/><ellipse cx="1.5" cy="13.2" rx="2.0" ry="1.7" fill="#bdb9b9"/><ellipse cx="29.5" cy="13.2" rx="2.0" ry="2.1" fill="#bdb9b9"/><ellipse cx="8.2" cy="21.7" rx="2.4" ry="2.5" fill="#bdb9b9"/><ellipse cx="13.6" cy="9.7" rx="2.0" ry="1.9" fill="#bdb9b9"/><ellipse cx="-1.4" cy="7.3" rx="1.8" ry="1.6" fill="#bdb9b9"/><ellipse cx="26.6" cy="7.3" rx="1.8" ry="1.8" fill="#bdb9b9"/><ellipse cx="19.9" cy="31.0" rx="2.0" ry="2.2" fill="#bdb9b9"/><ellipse cx="-1.0" cy="19.8" rx="2.4" ry="2.5" fill="#bdb9b9"/><ellipse cx="27.0" cy="19.8" rx="2.4" ry="2.4" fill="#bdb9b9"/><ellipse cx="23.5" cy="4.6" rx="1.8" ry="1.7" fill="#bdb9b9"/><ellipse cx="-2.6" cy="-1.6" rx="2.3" ry="2.0" fill="#bdb9b9"/><ellipse cx="-2.6" cy="38.4" rx="2.3" ry="2.4" fill="#bdb9b9"/><ellipse cx="25.4" cy="-1.6" rx="2.3" ry="2.4" fill="#bdb9b9"/><ellipse cx="25.4" cy="38.4" rx="2.3" ry="2.0" fill="#bdb9b9"/><ellipse cx="21.6" cy="36.2" rx="1.7" ry="1.6" fill="#bdb9b9"/><ellipse cx="9.8" cy="7.2" rx="2.2" ry="2.4" fill="#bdb9b9"/><ellipse cx="15.1" cy="15.5" rx="1.9" ry="1.9" fill="#bdb9b9"/><ellipse cx="7.5" cy="28.7" rx="2.0" ry="2.1" fill="#bdb9b9"/><ellipse cx="-0.8" cy="27.4" rx="1.9" ry="1.9" fill="#bdb9b9"/><ellipse cx="27.2" cy="27.4" rx="1.9" ry="1.8" fill="#bdb9b9"/><ellipse cx="14.0" cy="23.3" rx="1.9" ry="1.8" fill="#bdb9b9"/><ellipse cx="12.8" cy="30.1" rx="2.0" ry="2.0" fill="#bdb9b9"/><ellipse cx="5.4" cy="12.8" rx="1.8" ry="1.6" fill="#bdb9b9"/><ellipse cx="-0.7" cy="34.8" rx="2.0" ry="1.7" fill="#bdb9b9"/><ellipse cx="27.3" cy="34.8" rx="2.0" ry="1.8" fill="#bdb9b9"/><ellipse cx="4.6" cy="6.1" rx="2.5" ry="2.7" fill="#bdb9b9"/><ellipse cx="-0.0" cy="4.0" rx="2.1" ry="2.2" fill="#bdb9b9"/><ellipse cx="28.0" cy="4.0" rx="2.1" ry="2.1" fill="#bdb9b9"/><ellipse cx="8.3" cy="-1.0" rx="2.0" ry="1.8" fill="#bdb9b9"/><ellipse cx="8.3" cy="39.0" rx="2.0" ry="2.1" fill="#bdb9b9"/><ellipse cx="24.6" cy="16.0" rx="1.9" ry="1.7" fill="#bdb9b9"/><ellipse cx="23.9" cy="30.4" rx="1.8" ry="1.9" fill="#bdb9b9"/><ellipse cx="20.0" cy="8.6" rx="2.4" ry="2.2" fill="#bdb9b9"/><ellipse cx="2.2" cy="30.8" rx="1.8" ry="1.6" fill="#bdb9b9"/><ellipse cx="30.2" cy="30.8" rx="1.8" ry="1.8" fill="#bdb9b9"/><ellipse cx="2.5" cy="17.1" rx="1.9" ry="2.0" fill="#bdb9b9"/><ellipse cx="30.5" cy="17.1" rx="1.9" ry="2.0" fill="#bdb9b9"/><ellipse cx="17.8" cy="27.6" rx="2.2" ry="2.0" fill="#bdb9b9"/><ellipse cx="4.0" cy="26.5" rx="2.2" ry="2.1" fill="#bdb9b9"/><ellipse cx="4.0" cy="35.0" rx="2.0" ry="1.9" fill="#bdb9b9"/><ellipse cx="20.1" cy="-1.0" rx="1.8" ry="1.7" fill="#bdb9b9"/><ellipse cx="20.1" cy="39.0" rx="1.8" ry="1.8" fill="#bdb9b9"/><ellipse cx="24.0" cy="11.8" rx="2.3" ry="2.4" fill="#bdb9b9"/><ellipse cx="11.1" cy="26.2" rx="2.1" ry="2.2" fill="#bdb9b9"/><ellipse cx="16.2" cy="32.3" rx="2.1" ry="2.0" fill="#bdb9b9"/><ellipse cx="8.1" cy="10.8" rx="1.8" ry="1.8" fill="#bdb9b9"/><ellipse cx="13.9" cy="37.0" rx="2.4" ry="2.4" fill="#bdb9b9"/><ellipse cx="7.4" cy="15.5" rx="1.7" ry="1.7" fill="#bdb9b9"/><ellipse cx="0.6" cy="23.8" rx="2.0" ry="2.0" fill="#bdb9b9"/><ellipse cx="28.6" cy="23.8" rx="2.0" ry="1.7" fill="#bdb9b9"/><ellipse cx="13.8" cy="19.4" rx="1.7" ry="1.8" fill="#bdb9b9"/><ellipse cx="9.1" cy="3.3" rx="2.0" ry="1.9" fill="#bdb9b9"/><ellipse cx="23.0" cy="22.1" rx="1.7" ry="1.5" fill="#bdb9b9"/><ellipse cx="14.4" cy="5.8" rx="1.8" ry="1.6" fill="#bdb9b9"/><ellipse cx="22.0" cy="19.1" rx="1.7" ry="1.5" fill="#bdb9b9"/><ellipse cx="16.7" cy="-0.3" rx="1.8" ry="1.6" fill="#bdb9b9"/><ellipse cx="16.7" cy="39.7" rx="1.8" ry="1.6" fill="#bdb9b9"/><ellipse cx="2.3" cy="9.3" rx="1.7" ry="1.7" fill="#bdb9b9"/><ellipse cx="30.3" cy="9.3" rx="1.7" ry="1.8" fill="#bdb9b9"/><ellipse cx="5.3" cy="18.9" rx="1.7" ry="1.7" fill="#bdb9b9"/><ellipse cx="1.3" cy="-2.2" rx="1.8" ry="2.0" fill="#bdb9b9"/><ellipse cx="1.3" cy="37.8" rx="1.8" ry="1.6" fill="#bdb9b9"/><ellipse cx="29.3" cy="-2.2" rx="1.8" ry="1.9" fill="#bdb9b9"/><ellipse cx="29.3" cy="37.8" rx="1.8" ry="1.6" fill="#bdb9b9"/><ellipse cx="17.4" cy="17.9" rx="1.7" ry="1.7" fill="#bdb9b9"/><ellipse cx="23.7" cy="33.7" rx="1.8" ry="1.9" fill="#bdb9b9"/></pattern>
<marker id="ah" viewBox="0 0 10 10" refX="7" refY="5" markerWidth="5.5" markerHeight="5.5" orient="auto-start-reverse"><path d="M0,0 L10,5 L0,10 L3,5 z" fill="#111"/></marker>
<marker id="ahb" viewBox="0 0 10 10" refX="7" refY="5" markerWidth="7.2" markerHeight="7.2" orient="auto"><path d="M0,0 L10,5 L0,10 L3,5 z" fill="#111"/></marker>
<marker id="ahs" viewBox="0 0 10 10" refX="7" refY="5" markerWidth="4.8" markerHeight="4.8" orient="auto"><path d="M0,0 L10,5 L0,10 L3,5 z" fill="#222"/></marker>
</defs>
<rect x="17.9" y="70" width="27.5" height="150" fill="url(#pat1)"/>
<path d="M17.9,70 V214.5 M45.4,70 V214.5" fill="none" stroke="#6f6f6f" stroke-width="1.3"/>
<path d="M22.6,238 L22.6,247 A9.05,3.9 0 0,0 40.7,247 L40.7,238 Z" fill="#d0cec7" stroke="#2a2a2a" stroke-width="0.9"/>
<path d="M12.4,218.6 L12.4,239.6 A19.25,4.9 0 0,0 50.9,239.6 L50.9,218.6 Z" fill="#f4f3ed" stroke="#2a2a2a" stroke-width="0.95"/>
<ellipse cx="31.65" cy="218.6" rx="19.25" ry="4.6" fill="#f4f3ed" stroke="#2a2a2a" stroke-width="0.95"/>
<path d="M17.9,212 L17.9,214.5 A13.75,5 0 0,0 45.4,214.5 L45.4,212 Z" fill="url(#pat1)"/>
<path d="M17.9,212 L17.9,214.5 M45.4,212 L45.4,214.5" stroke="#6f6f6f" stroke-width="1.3"/>
<path d="M17.9,214.5 A13.75,5 0 0,0 45.4,214.5" fill="none" stroke="#2a2a2a" stroke-width="0.9"/>
<path d="M12.399999999999999,58.5 L12.399999999999999,79.0 A19.25,5.85 0 0,0 50.9,79.0 L50.9,58.5 Z" fill="#f4f3ed" stroke="#2a2a2a" stroke-width="0.9"/>
<ellipse cx="31.65" cy="58.5" rx="19.25" ry="5.85" fill="#f4f3ed" stroke="#2a2a2a" stroke-width="0.9"/>
<path d="M22.75,48.2 L22.75,56.5 A8.9,2.6 0 0,0 40.55,56.5 L40.55,48.2 Z" fill="#d0cec7" stroke="#2a2a2a" stroke-width="0.9"/>
<ellipse cx="31.65" cy="48.2" rx="8.9" ry="2.6" fill="#d9d7d0" stroke="#2a2a2a" stroke-width="0.9"/>
<rect x="141.1" y="70" width="27.5" height="150" fill="url(#pat2)"/>
<path d="M141.1,70 V214.5 M168.6,70 V214.5" fill="none" stroke="#3c3c3c" stroke-width="1.0"/>
<path d="M145.8,238 L145.8,247 A9.05,3.9 0 0,0 163.9,247 L163.9,238 Z" fill="#d0cec7" stroke="#2a2a2a" stroke-width="0.9"/>
<path d="M135.6,218.6 L135.6,239.6 A19.25,4.9 0 0,0 174.1,239.6 L174.1,218.6 Z" fill="#f4f3ed" stroke="#2a2a2a" stroke-width="0.95"/>
<ellipse cx="154.85" cy="218.6" rx="19.25" ry="4.6" fill="#f4f3ed" stroke="#2a2a2a" stroke-width="0.95"/>
<path d="M141.1,212 L141.1,214.5 A13.75,5 0 0,0 168.6,214.5 L168.6,212 Z" fill="url(#pat2)"/>
<path d="M141.1,212 L141.1,214.5 M168.6,212 L168.6,214.5" stroke="#3c3c3c" stroke-width="1.0"/>
<path d="M141.1,214.5 A13.75,5 0 0,0 168.6,214.5" fill="none" stroke="#2a2a2a" stroke-width="0.9"/>
<path d="M135.6,58.5 L135.6,79.0 A19.25,5.85 0 0,0 174.1,79.0 L174.1,58.5 Z" fill="#f4f3ed" stroke="#2a2a2a" stroke-width="0.9"/>
<ellipse cx="154.85" cy="58.5" rx="19.25" ry="5.85" fill="#f4f3ed" stroke="#2a2a2a" stroke-width="0.9"/>
<path d="M145.95,48.2 L145.95,56.5 A8.9,2.6 0 0,0 163.75,56.5 L163.75,48.2 Z" fill="#d0cec7" stroke="#2a2a2a" stroke-width="0.9"/>
<ellipse cx="154.85" cy="48.2" rx="8.9" ry="2.6" fill="#d9d7d0" stroke="#2a2a2a" stroke-width="0.9"/>
<text transform="translate(14.6,150.3) rotate(-90)" font-size="9.9" font-weight="bold" text-anchor="middle" fill="#111">Column w/o FPOCs</text>
<text transform="translate(138.1,151.2) rotate(-90)" font-size="9.9" font-weight="bold" text-anchor="middle" fill="#111">Column w/ FPOCs</text>
<text x="73.20" y="22.30" font-size="9.9" font-weight="bold" text-anchor="middle" fill="#111" >No loss of NR</text>
<text x="188.50" y="22.30" font-size="9.9" font-weight="bold" text-anchor="middle" fill="#111" >Loss of NR</text>
<path d="M33.5,44.5 C35.5,33 45,27 66,27.6" fill="none" stroke="#111" stroke-width="0.9" marker-end="url(#ah)"/>
<path d="M155.4,44.5 C157.4,33 167,27 187.6,27.6" fill="none" stroke="#111" stroke-width="0.9" marker-end="url(#ah)"/>
<text x="93.60" y="285.50" font-size="9.9" font-weight="bold" text-anchor="middle" fill="#111" >Nano reporter</text>
<path d="M56.6,281.5 C42,279.5 32.5,271 31,258" fill="none" stroke="#111" stroke-width="0.9" marker-end="url(#ahb)"/>
<path d="M129.8,281.5 C144.4,279.5 153.9,271 155.4,258" fill="none" stroke="#111" stroke-width="0.9" marker-end="url(#ahb)"/>
<clipPath id="ecl1"><ellipse cx="91.0" cy="150.8" rx="27" ry="60.3"/></clipPath>
<g clip-path="url(#ecl1)">
<path transform="translate(0,0)" d="M80,86 L97,86 C96.5,95 93,102 87.3,106.8 C84,103.5 82,99 81.8,93 Z" fill="#c4c4c4"/>
<path transform="translate(0,0)" d="M60,136 C65,134.6 72,134.4 74.8,136 C75.8,143 75.8,152 75,158 C73.5,163 70,166 66,167.5 L58,167.5 Z" fill="#c4c4c4"/>
<path transform="translate(0,0)" d="M111.5,112 C109.5,118 108.8,124 108.8,132 C108.8,140 110,145 113,148 C115,150 117,151 119,151 L124,151 L124,112 Z" fill="#c4c4c4"/>
<path transform="translate(0,0)" d="M62,183.5 C66,183.3 72,183.3 77,184 C80,186 81.5,192 81.9,198 L82,210 L62,210 Z" fill="#c4c4c4"/>
<path transform="translate(0,0)" d="M109.4,181.4 C106,187 103,194 102.2,200 L101,210 L122,210 L122,181 Z" fill="#c4c4c4"/>
</g>
<ellipse cx="91.0" cy="150.8" rx="27" ry="60.3" fill="none" stroke="#000" stroke-width="1.1" stroke-dasharray="3.2,2"/>
<clipPath id="ecl2"><ellipse cx="214.3" cy="150.8" rx="27" ry="60.3"/></clipPath>
<g clip-path="url(#ecl2)">
<path transform="translate(123.2,0)" d="M80,86 L97,86 C96.5,95 93,102 87.3,106.8 C84,103.5 82,99 81.8,93 Z" fill="#c4c4c4"/>
<path transform="translate(123.2,0)" d="M60,136 C65,134.6 72,134.4 74.8,136 C75.8,143 75.8,152 75,158 C73.5,163 70,166 66,167.5 L58,167.5 Z" fill="#c4c4c4"/>
<path transform="translate(123.2,0)" d="M111.5,112 C109.5,118 108.8,124 108.8,132 C108.8,140 110,145 113,148 C115,150 117,151 119,151 L124,151 L124,112 Z" fill="#c4c4c4"/>
<path transform="translate(123.2,0)" d="M62,183.5 C66,183.3 72,183.3 77,184 C80,186 81.5,192 81.9,198 L82,210 L62,210 Z" fill="#c4c4c4"/>
<path transform="translate(123.2,0)" d="M109.4,181.4 C106,187 103,194 102.2,200 L101,210 L122,210 L122,181 Z" fill="#c4c4c4"/>
<path d="M193.4,137.4 C196.5,139 198.5,142 199.3,146 C200.5,152 200,158 196.2,164 C195.6,164.5 195,164.2 195.4,163.4 C197.2,157 197.2,150 196.4,145 C195.8,141.5 194.8,139.5 193.4,137.4 Z" fill="#bb4549"/>
<path d="M231.4,133.6 C230.8,139 230.9,145 232.2,150 C233.5,153.8 236,155.5 239.6,155.6 C240.2,155.5 240.2,154.8 239.4,154.2 C236.8,152 235.2,148 233.8,143 C233,139.5 232.6,136 232.6,133.8 C232.2,133.2 231.7,133.2 231.4,133.6 Z" fill="#bb4549"/>
</g>
<ellipse cx="214.3" cy="150.8" rx="27" ry="60.3" fill="none" stroke="#000" stroke-width="1.1" stroke-dasharray="3.2,2"/>
<ellipse cx="30.6" cy="150" rx="3.2" ry="6.2" fill="none" stroke="#000" stroke-width="1.0" stroke-dasharray="1.8,1.2"/>
<path d="M31.5,144 L76.8,98.7 M31.5,156 L75,199.5" fill="none" stroke="#000" stroke-width="1.1" stroke-dasharray="3.2,2"/>
<ellipse cx="154.0" cy="150" rx="3.2" ry="6.2" fill="none" stroke="#000" stroke-width="1.0" stroke-dasharray="1.8,1.2"/>
<path d="M154.9,144 L200.2,98.7 M154.9,156 L198.4,199.5" fill="none" stroke="#000" stroke-width="1.1" stroke-dasharray="3.2,2"/>
<path d="M87.3,117.7 C85.3,112.5 82.5,107 79.6,102.6" fill="none" stroke="#2a2a2a" stroke-width="0.85" marker-end="url(#ahs)"/>
<path d="M87.0,204.6 C91.5,199 95,191 95.7,183" fill="none" stroke="#2a2a2a" stroke-width="0.85" marker-end="url(#ahs)"/>
<path d="M210.3,117.7 C208.3,112.5 205.5,107 202.6,102.6" fill="none" stroke="#2a2a2a" stroke-width="0.85" marker-end="url(#ahs)"/>
<path d="M210.0,204.6 C214.5,199 218.0,191 218.7,183" fill="none" stroke="#2a2a2a" stroke-width="0.85" marker-end="url(#ahs)"/>
<path d="M93.4,116.4 C95.5,110 97.3,104 98.2,98.4" fill="none" stroke="#2a2a2a" stroke-width="0.85" marker-end="url(#ahs)"/>
<path d="M218.9,119.6 C220.6,113 222.6,107 223.4,100.8" fill="none" stroke="#2a2a2a" stroke-width="0.85" marker-end="url(#ahs)"/>
<circle cx="83.2" cy="127.7" r="5.6" fill="#6e6e6e"/>
<circle cx="81.3" cy="124.5" r="1.7" fill="#f4646a"/>
<circle cx="85.8" cy="123.9" r="1.2" fill="#f4646a"/>
<circle cx="87.4" cy="126.8" r="1.1" fill="#f4646a"/>
<circle cx="79.3" cy="128.9" r="1.6" fill="#f4646a"/>
<circle cx="85.4" cy="130.1" r="1.8" fill="#f4646a"/>
<circle cx="98.5" cy="135.4" r="5.6" fill="#6e6e6e"/>
<circle cx="96.6" cy="132.20000000000002" r="1.7" fill="#f4646a"/>
<circle cx="101.1" cy="131.6" r="1.2" fill="#f4646a"/>
<circle cx="102.7" cy="134.5" r="1.1" fill="#f4646a"/>
<circle cx="94.6" cy="136.6" r="1.6" fill="#f4646a"/>
<circle cx="100.7" cy="137.8" r="1.8" fill="#f4646a"/>
<circle cx="87.5" cy="152.7" r="5.6" fill="#6e6e6e"/>
<circle cx="85.6" cy="149.5" r="1.7" fill="#f4646a"/>
<circle cx="90.1" cy="148.89999999999998" r="1.2" fill="#f4646a"/>
<circle cx="91.7" cy="151.79999999999998" r="1.1" fill="#f4646a"/>
<circle cx="83.6" cy="153.89999999999998" r="1.6" fill="#f4646a"/>
<circle cx="89.7" cy="155.1" r="1.8" fill="#f4646a"/>
<circle cx="98.5" cy="168.9" r="5.6" fill="#6e6e6e"/>
<circle cx="96.6" cy="165.70000000000002" r="1.7" fill="#f4646a"/>
<circle cx="101.1" cy="165.1" r="1.2" fill="#f4646a"/>
<circle cx="102.7" cy="168.0" r="1.1" fill="#f4646a"/>
<circle cx="94.6" cy="170.1" r="1.6" fill="#f4646a"/>
<circle cx="100.7" cy="171.3" r="1.8" fill="#f4646a"/>
<circle cx="207.2" cy="127.7" r="5.6" fill="#6e6e6e"/>
<circle cx="205.39999999999998" cy="124.4" r="1.7" fill="#f4646a"/>
<circle cx="209.6" cy="124.0" r="1.2" fill="#f4646a"/>
<circle cx="221.9" cy="135.0" r="5.6" fill="#6e6e6e"/>
<circle cx="217.6" cy="135.9" r="1.6" fill="#f4646a"/>
<circle cx="218.8" cy="153.7" r="5.6" fill="#6e6e6e"/>
<circle cx="216.9" cy="150.5" r="1.7" fill="#f4646a"/>
<circle cx="221.4" cy="149.89999999999998" r="1.2" fill="#f4646a"/>
<circle cx="223.0" cy="152.79999999999998" r="1.1" fill="#f4646a"/>
<circle cx="214.9" cy="154.89999999999998" r="1.6" fill="#f4646a"/>
<circle cx="221.0" cy="156.1" r="1.8" fill="#f4646a"/>
<circle cx="217.0" cy="169.8" r="5.6" fill="#6e6e6e"/>
<circle cx="215.1" cy="166.60000000000002" r="1.7" fill="#f4646a"/>
<circle cx="219.6" cy="166.0" r="1.2" fill="#f4646a"/>
<circle cx="221.2" cy="168.9" r="1.1" fill="#f4646a"/>
<circle cx="213.1" cy="171.0" r="1.6" fill="#f4646a"/>
<circle cx="219.2" cy="172.20000000000002" r="1.8" fill="#f4646a"/>
<marker id="ahr" viewBox="0 0 10 10" refX="7" refY="5" markerWidth="5" markerHeight="5" orient="auto"><path d="M0,0 L10,5 L0,10 L3,5 z" fill="#ea5a60"/></marker>
<path d="M211,149.4 C208.5,148 205.5,148.2 202.8,150.6" fill="none" stroke="#ea5a60" stroke-width="0.85" marker-end="url(#ahr)"/>
<path d="M226.6,154.1 C228.5,154.3 230.5,153 231.7,150.6" fill="none" stroke="#ea5a60" stroke-width="0.85" marker-end="url(#ahr)"/>
<rect x="12.4" y="296.1" width="235" height="17.2" fill="none" stroke="#444" stroke-width="1.2"/>
<path d="M22,298 C26.5,297.8 29,301 29,305.5 C29,310 26,312.4 22.5,312.4 C18,312.4 15.2,309.5 15.2,305 C15.2,300.5 18,298.2 22,298 Z" fill="#c8c8c8"/>
<text x="34.50" y="308.50" font-size="10" font-weight="bold" text-anchor="start" fill="#111" >Sand</text>
<ellipse cx="77.3" cy="305.1" rx="6.2" ry="2.1" transform="rotate(35 77.3 305.1)" fill="#c0474b"/>
<text x="89.00" y="308.50" font-size="10" font-weight="bold" text-anchor="start" fill="#111" >FPOCs</text>
<circle cx="146.6" cy="304.6" r="4.4" fill="#767676"/>
<text x="157.50" y="308.50" font-size="10" font-weight="bold" text-anchor="start" fill="#111" >PVA-fCB</text>
<circle cx="218.2" cy="304.8" r="1.8" fill="#f07070"/>
<text x="226.60" y="308.50" font-size="10" font-weight="bold" text-anchor="start" fill="#111" >NR</text>
</svg>
</body></html>
